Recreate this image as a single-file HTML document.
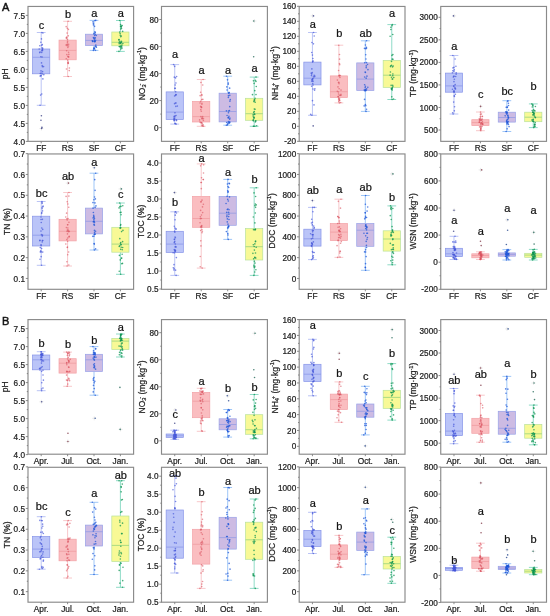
<!DOCTYPE html>
<html><head><meta charset="utf-8"><style>
html,body{margin:0;padding:0;background:#fff;}
svg{display:block;font-family:"Liberation Sans", sans-serif;will-change:transform;filter:blur(0.3px);}
text{stroke:#222;stroke-width:0.22px;paint-order:stroke;}
</style></head><body>
<svg width="550" height="616" viewBox="0 0 550 616">
<rect width="550" height="616" fill="#fff"/>
<rect x="28" y="6.45" width="105.6" height="134.9" fill="none" stroke="#8a8a8a" stroke-width="1.15"/>
<text x="25" y="144.5" text-anchor="end" font-size="8.2" fill="#222">4.0</text>
<text x="25" y="126.5" text-anchor="end" font-size="8.2" fill="#222">4.5</text>
<text x="25" y="108.5" text-anchor="end" font-size="8.2" fill="#222">5.0</text>
<text x="25" y="90.5" text-anchor="end" font-size="8.2" fill="#222">5.5</text>
<text x="25" y="72.5" text-anchor="end" font-size="8.2" fill="#222">6.0</text>
<text x="25" y="54.5" text-anchor="end" font-size="8.2" fill="#222">6.5</text>
<text x="25" y="36.5" text-anchor="end" font-size="8.2" fill="#222">7.0</text>
<text x="25" y="18.5" text-anchor="end" font-size="8.2" fill="#222">7.5</text>
<path d="M25.8 141.4H28M25.8 123.4H28M25.8 105.4H28M25.8 87.4H28M25.8 69.4H28M25.8 51.4H28M25.8 33.4H28M25.8 15.4H28M26.8 132.4H28M26.8 114.4H28M26.8 96.4H28M26.8 78.4H28M26.8 60.4H28M26.8 42.4H28M26.8 24.4H28M41.2 141.35V143.35M67.6 141.35V143.35M94 141.35V143.35M120.4 141.35V143.35" stroke="#7d7d7d" stroke-width="0.9" fill="none"/>
<text x="41.2" y="151.35" text-anchor="middle" font-size="8.3" fill="#222">FF</text>
<text x="67.6" y="151.35" text-anchor="middle" font-size="8.3" fill="#222">RS</text>
<text x="94" y="151.35" text-anchor="middle" font-size="8.3" fill="#222">SF</text>
<text x="120.4" y="151.35" text-anchor="middle" font-size="8.3" fill="#222">CF</text>
<text transform="translate(8 73.7) rotate(-90)" text-anchor="middle" font-size="8.5" fill="#222">pH</text>
<path d="M41.2 32.5V49M41.2 73.8V105.3M36.8 32.5H45.6M36.8 105.3H45.6" stroke="#96a4f0" stroke-width="0.65" fill="none"/>
<rect x="32.6" y="49" width="17.2" height="24.8" fill="#bac4f8" stroke="#8794e8" stroke-width="0.7"/>
<path d="M32.6 57.3H49.8" stroke="#8794e8" stroke-width="0.7"/>
<g fill="#4456d8" fill-opacity="0.7"><circle cx="42.32" cy="44.56" r="0.82"/><circle cx="42.36" cy="49.08" r="0.82"/><circle cx="41.01" cy="70.92" r="0.82"/><circle cx="42.88" cy="78.94" r="0.82"/><circle cx="41.69" cy="45.31" r="0.82"/><circle cx="41.81" cy="50.61" r="0.82"/><circle cx="42.46" cy="66.64" r="0.82"/><circle cx="41.06" cy="75.85" r="0.82"/><circle cx="42.74" cy="48.28" r="0.82"/><circle cx="39.69" cy="52.59" r="0.82"/><circle cx="43.56" cy="66.57" r="0.82"/><circle cx="40.11" cy="76.09" r="0.82"/><circle cx="40.87" cy="42.21" r="0.82"/><circle cx="40.1" cy="51.95" r="0.82"/><circle cx="41.1" cy="73.11" r="0.82"/><circle cx="43.8" cy="74.67" r="0.82"/><circle cx="42.95" cy="33.03" r="0.82"/><circle cx="41.71" cy="52.42" r="0.82"/><circle cx="42.18" cy="65.61" r="0.82"/><circle cx="40.85" cy="75.6" r="0.82"/><circle cx="41.45" cy="38.94" r="0.82"/><circle cx="42.5" cy="50.58" r="0.82"/><circle cx="41.53" cy="62.94" r="0.82"/><circle cx="42.21" cy="73.91" r="0.82"/><circle cx="39.79" cy="45.74" r="0.82"/><circle cx="42.08" cy="57.03" r="0.82"/><circle cx="40.28" cy="73.45" r="0.82"/><circle cx="41.74" cy="94.04" r="0.82"/><circle cx="39.22" cy="49" r="0.82"/><circle cx="40.83" cy="56.8" r="0.82"/><circle cx="42.57" cy="71.67" r="0.82"/><circle cx="40.64" cy="95.12" r="0.82"/><circle cx="42.07" cy="47.75" r="0.82"/><circle cx="42.49" cy="49.83" r="0.82"/><circle cx="41.89" cy="32.5" r="0.82"/><circle cx="40.06" cy="105.3" r="0.82"/></g>
<path d="M39.4 128.5H43.4M41.4 126.5V130.5" stroke="#d4d4d4" stroke-width="0.5"/>
<g fill="#4c5290" fill-opacity="0.9"><circle cx="41.39" cy="115.7" r="0.8"/><circle cx="40.96" cy="120.3" r="0.8"/><circle cx="41.96" cy="127.4" r="0.8"/><circle cx="41.64" cy="128.5" r="0.8"/></g>
<text x="41.6" y="28.75" text-anchor="middle" font-size="11.0" fill="#111">c</text>
<path d="M67.6 21.3V40.1M67.6 59.8V76.5M63.2 21.3H72M63.2 76.5H72" stroke="#f4aaae" stroke-width="0.65" fill="none"/>
<rect x="59" y="40.1" width="17.2" height="19.7" fill="#fabdc0" stroke="#f2a2a6" stroke-width="0.7"/>
<path d="M59 50.4H76.2" stroke="#ee9a9e" stroke-width="0.7"/>
<g fill="#d8505e" fill-opacity="0.6"><circle cx="66.31" cy="37.76" r="0.82"/><circle cx="68.64" cy="44.36" r="0.82"/><circle cx="68.72" cy="56.9" r="0.82"/><circle cx="67.91" cy="62.89" r="0.82"/><circle cx="67.5" cy="39.77" r="0.82"/><circle cx="66.99" cy="44.84" r="0.82"/><circle cx="68.6" cy="52.23" r="0.82"/><circle cx="69.37" cy="67.98" r="0.82"/><circle cx="66.5" cy="38.39" r="0.82"/><circle cx="67.58" cy="41.49" r="0.82"/><circle cx="66.25" cy="58.8" r="0.82"/><circle cx="68.12" cy="62.97" r="0.82"/><circle cx="66.65" cy="37.13" r="0.82"/><circle cx="67.11" cy="45.64" r="0.82"/><circle cx="68.32" cy="56.92" r="0.82"/><circle cx="66.46" cy="68.98" r="0.82"/><circle cx="66.2" cy="26.69" r="0.82"/><circle cx="67.46" cy="42.78" r="0.82"/><circle cx="68.81" cy="54.41" r="0.82"/><circle cx="68.34" cy="63.47" r="0.82"/><circle cx="67.09" cy="33.12" r="0.82"/><circle cx="68.5" cy="46.01" r="0.82"/><circle cx="67.84" cy="56.32" r="0.82"/><circle cx="67.83" cy="60.1" r="0.82"/><circle cx="68.29" cy="35.85" r="0.82"/><circle cx="67.87" cy="47.4" r="0.82"/><circle cx="66.65" cy="50.73" r="0.82"/><circle cx="69.27" cy="70.57" r="0.82"/><circle cx="68.41" cy="29.42" r="0.82"/><circle cx="67.22" cy="44.24" r="0.82"/><circle cx="66.84" cy="54.62" r="0.82"/><circle cx="68.27" cy="62.07" r="0.82"/><circle cx="67.26" cy="28.2" r="0.82"/><circle cx="66" cy="45.05" r="0.82"/><circle cx="68.12" cy="21.3" r="0.82"/><circle cx="68.27" cy="76.5" r="0.82"/></g>
<text x="68" y="18.4" text-anchor="middle" font-size="11.0" fill="#111">b</text>
<path d="M94 20.4V34.2M94 45.6V50.4M89.6 20.4H98.4M89.6 50.4H98.4" stroke="#6aa8f2" stroke-width="0.65" fill="none"/>
<rect x="85.4" y="34.2" width="17.2" height="11.4" fill="#cdbbe3" stroke="#98a2e8" stroke-width="0.7"/>
<path d="M85.4 40.4H102.6" stroke="#8e98e4" stroke-width="0.7"/>
<g fill="#1f56d8" fill-opacity="0.75"><circle cx="94.91" cy="31.83" r="0.82"/><circle cx="96.27" cy="35.54" r="0.82"/><circle cx="92.33" cy="40.9" r="0.82"/><circle cx="96.38" cy="47.29" r="0.82"/><circle cx="93.84" cy="34" r="0.82"/><circle cx="94.66" cy="35.56" r="0.82"/><circle cx="92.86" cy="41.56" r="0.82"/><circle cx="94.09" cy="48.69" r="0.82"/><circle cx="94.16" cy="33.3" r="0.82"/><circle cx="95.25" cy="37.85" r="0.82"/><circle cx="94.9" cy="41.66" r="0.82"/><circle cx="95.43" cy="50.36" r="0.82"/><circle cx="94.97" cy="20.59" r="0.82"/><circle cx="94.31" cy="39.93" r="0.82"/><circle cx="95.82" cy="45.08" r="0.82"/><circle cx="93.99" cy="47.58" r="0.82"/><circle cx="93.02" cy="21.81" r="0.82"/><circle cx="93.86" cy="38.17" r="0.82"/><circle cx="92.82" cy="41.23" r="0.82"/><circle cx="94.51" cy="48.61" r="0.82"/><circle cx="93.38" cy="23.4" r="0.82"/><circle cx="95.25" cy="34.29" r="0.82"/><circle cx="94.67" cy="41.41" r="0.82"/><circle cx="93.77" cy="48.93" r="0.82"/><circle cx="93.42" cy="24.91" r="0.82"/><circle cx="93.45" cy="37.68" r="0.82"/><circle cx="94.6" cy="41.04" r="0.82"/><circle cx="95.3" cy="46.26" r="0.82"/><circle cx="95.31" cy="32.62" r="0.82"/><circle cx="95.58" cy="40.28" r="0.82"/><circle cx="94.87" cy="41.57" r="0.82"/><circle cx="96.02" cy="46.68" r="0.82"/><circle cx="94.58" cy="26.31" r="0.82"/><circle cx="94.7" cy="38.31" r="0.82"/><circle cx="95.75" cy="20.4" r="0.82"/><circle cx="93.39" cy="50.4" r="0.82"/></g>
<text x="94.4" y="17.15" text-anchor="middle" font-size="11.0" fill="#111">a</text>
<path d="M120.4 20.5V32M120.4 45.8V51.4M116 20.5H124.8M116 51.4H124.8" stroke="#52c8a8" stroke-width="0.65" fill="none"/>
<rect x="111.8" y="32" width="17.2" height="13.8" fill="#f8f996" stroke="#b8e29a" stroke-width="0.7"/>
<path d="M111.8 42.3H129" stroke="#8cd07c" stroke-width="0.7"/>
<g fill="#0e9452" fill-opacity="0.75"><circle cx="120.77" cy="28.95" r="0.82"/><circle cx="121.28" cy="36.04" r="0.82"/><circle cx="120.8" cy="42.62" r="0.82"/><circle cx="121.81" cy="47.16" r="0.82"/><circle cx="121.28" cy="26.08" r="0.82"/><circle cx="119.08" cy="39.62" r="0.82"/><circle cx="120.21" cy="43.1" r="0.82"/><circle cx="121.86" cy="48.54" r="0.82"/><circle cx="120.57" cy="24.51" r="0.82"/><circle cx="120.14" cy="33.6" r="0.82"/><circle cx="119.21" cy="42.35" r="0.82"/><circle cx="121.38" cy="46.16" r="0.82"/><circle cx="122.16" cy="25.57" r="0.82"/><circle cx="121.48" cy="41.41" r="0.82"/><circle cx="119.21" cy="43.66" r="0.82"/><circle cx="119.74" cy="46.78" r="0.82"/><circle cx="120.51" cy="26.29" r="0.82"/><circle cx="120.28" cy="35.26" r="0.82"/><circle cx="121.21" cy="42.44" r="0.82"/><circle cx="119.21" cy="46.48" r="0.82"/><circle cx="121.09" cy="26.65" r="0.82"/><circle cx="120.74" cy="36.72" r="0.82"/><circle cx="122.84" cy="43.51" r="0.82"/><circle cx="120.86" cy="47.18" r="0.82"/><circle cx="122.66" cy="31.42" r="0.82"/><circle cx="118.82" cy="39.9" r="0.82"/><circle cx="120.7" cy="43.61" r="0.82"/><circle cx="120.75" cy="49.01" r="0.82"/><circle cx="121.25" cy="27.08" r="0.82"/><circle cx="119.83" cy="41.27" r="0.82"/><circle cx="121.97" cy="45.09" r="0.82"/><circle cx="120.39" cy="46.07" r="0.82"/><circle cx="121.49" cy="28.51" r="0.82"/><circle cx="119.73" cy="32.11" r="0.82"/><circle cx="119.67" cy="20.5" r="0.82"/><circle cx="118.96" cy="51.4" r="0.82"/></g>
<text x="120.8" y="17.15" text-anchor="middle" font-size="11.0" fill="#111">a</text>
<rect x="161.5" y="6.45" width="105.9" height="134.9" fill="none" stroke="#8a8a8a" stroke-width="1.15"/>
<text x="158.5" y="130.7" text-anchor="end" font-size="8.2" fill="#222">0</text>
<text x="158.5" y="103.67" text-anchor="end" font-size="8.2" fill="#222">20</text>
<text x="158.5" y="76.65" text-anchor="end" font-size="8.2" fill="#222">40</text>
<text x="158.5" y="49.63" text-anchor="end" font-size="8.2" fill="#222">60</text>
<text x="158.5" y="22.6" text-anchor="end" font-size="8.2" fill="#222">80</text>
<path d="M159.3 127.6H161.5M159.3 100.57H161.5M159.3 73.55H161.5M159.3 46.53H161.5M159.3 19.5H161.5M160.3 114.09H161.5M160.3 87.06H161.5M160.3 60.04H161.5M160.3 33.01H161.5M174.74 141.35V143.35M201.21 141.35V143.35M227.69 141.35V143.35M254.16 141.35V143.35" stroke="#7d7d7d" stroke-width="0.9" fill="none"/>
<text x="174.74" y="151.35" text-anchor="middle" font-size="8.3" fill="#222">FF</text>
<text x="201.21" y="151.35" text-anchor="middle" font-size="8.3" fill="#222">RS</text>
<text x="227.69" y="151.35" text-anchor="middle" font-size="8.3" fill="#222">SF</text>
<text x="254.16" y="151.35" text-anchor="middle" font-size="8.3" fill="#222">CF</text>
<text transform="translate(144.5 73.7) rotate(-90)" text-anchor="middle" font-size="8.5" fill="#222">NO<tspan dy="1.6" font-size="5.6">3</tspan><tspan dx="-1.2" dy="-4.6" font-size="5.6">-</tspan><tspan dy="3.0"> (mg·kg</tspan><tspan dy="-3.2" font-size="5.6">-1</tspan><tspan dy="3.2">)</tspan></text>
<path d="M174.74 64.6V91.9M174.74 119.6V124.1M170.34 64.6H179.14M170.34 124.1H179.14" stroke="#96a4f0" stroke-width="0.65" fill="none"/>
<rect x="166.14" y="91.9" width="17.2" height="27.7" fill="#bac4f8" stroke="#8794e8" stroke-width="0.7"/>
<path d="M166.14 112.1H183.34" stroke="#8794e8" stroke-width="0.7"/>
<g fill="#4456d8" fill-opacity="0.7"><circle cx="175.92" cy="83.03" r="0.82"/><circle cx="176.05" cy="103.05" r="0.82"/><circle cx="174.43" cy="116.28" r="0.82"/><circle cx="176.28" cy="119.82" r="0.82"/><circle cx="175.67" cy="91.79" r="0.82"/><circle cx="176.05" cy="94.86" r="0.82"/><circle cx="174.27" cy="118.85" r="0.82"/><circle cx="174.18" cy="119.83" r="0.82"/><circle cx="176.6" cy="76.47" r="0.82"/><circle cx="175.29" cy="103.12" r="0.82"/><circle cx="174.15" cy="116.6" r="0.82"/><circle cx="175.29" cy="123.68" r="0.82"/><circle cx="174.8" cy="88.37" r="0.82"/><circle cx="177.33" cy="106.09" r="0.82"/><circle cx="175.19" cy="115.98" r="0.82"/><circle cx="176.59" cy="120.61" r="0.82"/><circle cx="175.17" cy="84.97" r="0.82"/><circle cx="174.59" cy="95.99" r="0.82"/><circle cx="174.97" cy="112.86" r="0.82"/><circle cx="175.04" cy="123.58" r="0.82"/><circle cx="175.55" cy="77.91" r="0.82"/><circle cx="175.44" cy="95.33" r="0.82"/><circle cx="174.79" cy="118.12" r="0.82"/><circle cx="174.74" cy="119.96" r="0.82"/><circle cx="174.32" cy="77.19" r="0.82"/><circle cx="174.53" cy="103.75" r="0.82"/><circle cx="173.97" cy="118.08" r="0.82"/><circle cx="174.03" cy="120.79" r="0.82"/><circle cx="174.65" cy="66.41" r="0.82"/><circle cx="175.84" cy="106.43" r="0.82"/><circle cx="176.04" cy="115.47" r="0.82"/><circle cx="174.07" cy="119.79" r="0.82"/><circle cx="175.24" cy="88.32" r="0.82"/><circle cx="175.92" cy="94.57" r="0.82"/><circle cx="173.6" cy="64.6" r="0.82"/><circle cx="176.19" cy="124.1" r="0.82"/></g>
<text x="175.14" y="57.85" text-anchor="middle" font-size="11.0" fill="#111">a</text>
<path d="M201.21 79.5V101.4M201.21 122V126.3M196.81 79.5H205.61M196.81 126.3H205.61" stroke="#f4aaae" stroke-width="0.65" fill="none"/>
<rect x="192.61" y="101.4" width="17.2" height="20.6" fill="#fabdc0" stroke="#f2a2a6" stroke-width="0.7"/>
<path d="M192.61 116.6H209.81" stroke="#ee9a9e" stroke-width="0.7"/>
<g fill="#d8505e" fill-opacity="0.6"><circle cx="202.73" cy="85.05" r="0.82"/><circle cx="201.5" cy="106.99" r="0.82"/><circle cx="199.63" cy="119.89" r="0.82"/><circle cx="199.98" cy="122.09" r="0.82"/><circle cx="202.83" cy="99.4" r="0.82"/><circle cx="200.04" cy="102.98" r="0.82"/><circle cx="202.2" cy="118.77" r="0.82"/><circle cx="201.52" cy="122.79" r="0.82"/><circle cx="200.62" cy="92.28" r="0.82"/><circle cx="201.28" cy="111.26" r="0.82"/><circle cx="202.14" cy="117.9" r="0.82"/><circle cx="200.8" cy="122.6" r="0.82"/><circle cx="200.63" cy="101.32" r="0.82"/><circle cx="201.92" cy="103.25" r="0.82"/><circle cx="203.44" cy="118.66" r="0.82"/><circle cx="202.15" cy="125.67" r="0.82"/><circle cx="201.69" cy="99.61" r="0.82"/><circle cx="201.52" cy="107.6" r="0.82"/><circle cx="202.62" cy="116.67" r="0.82"/><circle cx="202.35" cy="123.94" r="0.82"/><circle cx="201.88" cy="95.42" r="0.82"/><circle cx="200.64" cy="106.43" r="0.82"/><circle cx="201.94" cy="118.71" r="0.82"/><circle cx="201.73" cy="122.61" r="0.82"/><circle cx="200.12" cy="95.69" r="0.82"/><circle cx="201.9" cy="104.21" r="0.82"/><circle cx="203.36" cy="120.45" r="0.82"/><circle cx="202.41" cy="125.88" r="0.82"/><circle cx="200.96" cy="82.49" r="0.82"/><circle cx="201.19" cy="106.97" r="0.82"/><circle cx="200.9" cy="116.66" r="0.82"/><circle cx="203.15" cy="124.9" r="0.82"/><circle cx="201.78" cy="94.53" r="0.82"/><circle cx="200.79" cy="109.69" r="0.82"/><circle cx="203.07" cy="79.5" r="0.82"/><circle cx="203.57" cy="126.3" r="0.82"/></g>
<text x="201.61" y="73.95" text-anchor="middle" font-size="11.0" fill="#111">a</text>
<path d="M227.69 76.2V93.2M227.69 121.9V125.2M223.29 76.2H232.09M223.29 125.2H232.09" stroke="#6aa8f2" stroke-width="0.65" fill="none"/>
<rect x="219.09" y="93.2" width="17.2" height="28.7" fill="#cdbbe3" stroke="#98a2e8" stroke-width="0.7"/>
<path d="M219.09 111.5H236.29" stroke="#8e98e4" stroke-width="0.7"/>
<g fill="#1f56d8" fill-opacity="0.75"><circle cx="228.72" cy="93.2" r="0.82"/><circle cx="228.38" cy="97.39" r="0.82"/><circle cx="228.26" cy="117.56" r="0.82"/><circle cx="229.33" cy="122.27" r="0.82"/><circle cx="227.49" cy="79.85" r="0.82"/><circle cx="229.75" cy="106.67" r="0.82"/><circle cx="229.69" cy="119.36" r="0.82"/><circle cx="227.33" cy="124.93" r="0.82"/><circle cx="228.27" cy="83.08" r="0.82"/><circle cx="226.42" cy="110.83" r="0.82"/><circle cx="228.96" cy="116.35" r="0.82"/><circle cx="229.83" cy="122.07" r="0.82"/><circle cx="226.84" cy="86.89" r="0.82"/><circle cx="229.46" cy="110.56" r="0.82"/><circle cx="228.28" cy="117.89" r="0.82"/><circle cx="226.68" cy="122.5" r="0.82"/><circle cx="229.04" cy="92.67" r="0.82"/><circle cx="228.46" cy="95.66" r="0.82"/><circle cx="228.43" cy="112.78" r="0.82"/><circle cx="227.84" cy="123.88" r="0.82"/><circle cx="227.03" cy="90" r="0.82"/><circle cx="229.9" cy="101.15" r="0.82"/><circle cx="228.42" cy="121.65" r="0.82"/><circle cx="228.98" cy="122.53" r="0.82"/><circle cx="228.23" cy="84.22" r="0.82"/><circle cx="230.3" cy="99.59" r="0.82"/><circle cx="227.09" cy="115.51" r="0.82"/><circle cx="229.62" cy="122.82" r="0.82"/><circle cx="229.66" cy="88.16" r="0.82"/><circle cx="229.8" cy="95.34" r="0.82"/><circle cx="229.87" cy="118.17" r="0.82"/><circle cx="228.93" cy="123.27" r="0.82"/><circle cx="228.99" cy="92.57" r="0.82"/><circle cx="228.53" cy="111.03" r="0.82"/><circle cx="226.53" cy="76.2" r="0.82"/><circle cx="226.38" cy="125.2" r="0.82"/></g>
<text x="228.09" y="73.95" text-anchor="middle" font-size="11.0" fill="#111">a</text>
<path d="M254.16 77.1V98.3M254.16 120.3V126.3M249.76 77.1H258.56M249.76 126.3H258.56" stroke="#52c8a8" stroke-width="0.65" fill="none"/>
<rect x="245.56" y="98.3" width="17.2" height="22" fill="#f8f996" stroke="#b8e29a" stroke-width="0.7"/>
<path d="M245.56 113.7H262.76" stroke="#8cd07c" stroke-width="0.7"/>
<g fill="#0e9452" fill-opacity="0.75"><circle cx="255.97" cy="94.59" r="0.82"/><circle cx="255.18" cy="102.26" r="0.82"/><circle cx="254.69" cy="114.42" r="0.82"/><circle cx="255.76" cy="121.08" r="0.82"/><circle cx="255.94" cy="81.38" r="0.82"/><circle cx="253.96" cy="101.62" r="0.82"/><circle cx="254.04" cy="118.32" r="0.82"/><circle cx="253.38" cy="126.23" r="0.82"/><circle cx="255.06" cy="98.28" r="0.82"/><circle cx="255.05" cy="109.25" r="0.82"/><circle cx="253.19" cy="114.59" r="0.82"/><circle cx="255.71" cy="120.78" r="0.82"/><circle cx="252.47" cy="94.68" r="0.82"/><circle cx="253.69" cy="112.44" r="0.82"/><circle cx="253.34" cy="119.48" r="0.82"/><circle cx="253.09" cy="120.47" r="0.82"/><circle cx="254.11" cy="83.41" r="0.82"/><circle cx="254.38" cy="99.6" r="0.82"/><circle cx="253.12" cy="116.07" r="0.82"/><circle cx="253.84" cy="126.3" r="0.82"/><circle cx="253.46" cy="80.81" r="0.82"/><circle cx="254.71" cy="99.99" r="0.82"/><circle cx="253.66" cy="117.44" r="0.82"/><circle cx="255.38" cy="121.94" r="0.82"/><circle cx="256.25" cy="86.54" r="0.82"/><circle cx="254.33" cy="111.52" r="0.82"/><circle cx="254.21" cy="117.38" r="0.82"/><circle cx="256.64" cy="125.7" r="0.82"/><circle cx="255.34" cy="80.31" r="0.82"/><circle cx="254.13" cy="100.82" r="0.82"/><circle cx="254.44" cy="114.08" r="0.82"/><circle cx="253.38" cy="120.83" r="0.82"/><circle cx="254.76" cy="90.63" r="0.82"/><circle cx="254.29" cy="109" r="0.82"/><circle cx="255.99" cy="77.1" r="0.82"/><circle cx="254.87" cy="126.3" r="0.82"/></g>
<path d="M252.36 21H256.36M254.36 19V23" stroke="#d4d4d4" stroke-width="0.5"/>
<g fill="#3a7868" fill-opacity="0.9"><circle cx="253.67" cy="56.8" r="0.8"/><circle cx="253.75" cy="21" r="0.8"/></g>
<text x="254.56" y="71.75" text-anchor="middle" font-size="11.0" fill="#111">a</text>
<rect x="299.2" y="6.45" width="105.8" height="134.9" fill="none" stroke="#8a8a8a" stroke-width="1.15"/>
<text x="296.2" y="144.4" text-anchor="end" font-size="8.2" fill="#222">-20</text>
<text x="296.2" y="129.4" text-anchor="end" font-size="8.2" fill="#222">0</text>
<text x="296.2" y="114.4" text-anchor="end" font-size="8.2" fill="#222">20</text>
<text x="296.2" y="99.4" text-anchor="end" font-size="8.2" fill="#222">40</text>
<text x="296.2" y="84.4" text-anchor="end" font-size="8.2" fill="#222">60</text>
<text x="296.2" y="69.4" text-anchor="end" font-size="8.2" fill="#222">80</text>
<text x="296.2" y="54.4" text-anchor="end" font-size="8.2" fill="#222">100</text>
<text x="296.2" y="39.4" text-anchor="end" font-size="8.2" fill="#222">120</text>
<text x="296.2" y="24.4" text-anchor="end" font-size="8.2" fill="#222">140</text>
<text x="296.2" y="9.4" text-anchor="end" font-size="8.2" fill="#222">160</text>
<path d="M297 141.3H299.2M297 126.3H299.2M297 111.3H299.2M297 96.3H299.2M297 81.3H299.2M297 66.3H299.2M297 51.3H299.2M297 36.3H299.2M297 21.3H299.2M297 6.3H299.2M298 133.8H299.2M298 118.8H299.2M298 103.8H299.2M298 88.8H299.2M298 73.8H299.2M298 58.8H299.2M298 43.8H299.2M298 28.8H299.2M298 13.8H299.2M312.43 141.35V143.35M338.88 141.35V143.35M365.32 141.35V143.35M391.77 141.35V143.35" stroke="#7d7d7d" stroke-width="0.9" fill="none"/>
<text x="312.43" y="151.35" text-anchor="middle" font-size="8.3" fill="#222">FF</text>
<text x="338.88" y="151.35" text-anchor="middle" font-size="8.3" fill="#222">RS</text>
<text x="365.32" y="151.35" text-anchor="middle" font-size="8.3" fill="#222">SF</text>
<text x="391.77" y="151.35" text-anchor="middle" font-size="8.3" fill="#222">CF</text>
<text transform="translate(277.5 73.15) rotate(-90)" text-anchor="middle" font-size="8.5" fill="#222">NH<tspan dy="1.6" font-size="5.6">4</tspan><tspan dx="-1.2" dy="-4.6" font-size="5.6">+</tspan><tspan dy="3.0"> (mg·kg</tspan><tspan dy="-3.2" font-size="5.6">-1</tspan><tspan dy="3.2">)</tspan></text>
<path d="M312.43 32.5V62.1M312.43 84.9V115.3M308.03 32.5H316.82M308.03 115.3H316.82" stroke="#96a4f0" stroke-width="0.65" fill="none"/>
<rect x="303.82" y="62.1" width="17.2" height="22.8" fill="#bac4f8" stroke="#8794e8" stroke-width="0.7"/>
<path d="M303.82 78.2H321.03" stroke="#8794e8" stroke-width="0.7"/>
<g fill="#4456d8" fill-opacity="0.7"><circle cx="313.07" cy="60.95" r="0.82"/><circle cx="311.74" cy="74.11" r="0.82"/><circle cx="312.7" cy="78.76" r="0.82"/><circle cx="313.99" cy="104.9" r="0.82"/><circle cx="312.59" cy="62.1" r="0.82"/><circle cx="311.25" cy="73.16" r="0.82"/><circle cx="312.36" cy="79.86" r="0.82"/><circle cx="312.48" cy="100.65" r="0.82"/><circle cx="311.92" cy="42.48" r="0.82"/><circle cx="312.25" cy="72.64" r="0.82"/><circle cx="312.85" cy="78.7" r="0.82"/><circle cx="313.1" cy="84.99" r="0.82"/><circle cx="312.43" cy="55.09" r="0.82"/><circle cx="314.55" cy="76.7" r="0.82"/><circle cx="313.01" cy="81.31" r="0.82"/><circle cx="312.99" cy="89" r="0.82"/><circle cx="311.73" cy="52.54" r="0.82"/><circle cx="314.13" cy="75.31" r="0.82"/><circle cx="311.97" cy="79.59" r="0.82"/><circle cx="311.61" cy="86.22" r="0.82"/><circle cx="314.21" cy="36.05" r="0.82"/><circle cx="311.86" cy="68.93" r="0.82"/><circle cx="311.78" cy="81.17" r="0.82"/><circle cx="314.58" cy="90.17" r="0.82"/><circle cx="312.85" cy="58.52" r="0.82"/><circle cx="314.84" cy="75.98" r="0.82"/><circle cx="312.68" cy="83.58" r="0.82"/><circle cx="314.86" cy="88.79" r="0.82"/><circle cx="313.44" cy="43.83" r="0.82"/><circle cx="313.36" cy="76.9" r="0.82"/><circle cx="312.64" cy="81" r="0.82"/><circle cx="310.66" cy="114.44" r="0.82"/><circle cx="312.82" cy="61.29" r="0.82"/><circle cx="311.48" cy="75.59" r="0.82"/><circle cx="313.57" cy="32.5" r="0.82"/><circle cx="311.87" cy="115.3" r="0.82"/></g>
<path d="M310.62 15.9H314.62M312.62 13.9V17.9" stroke="#d4d4d4" stroke-width="0.5"/>
<g fill="#4c5290" fill-opacity="0.9"><circle cx="313.48" cy="15.9" r="0.8"/><circle cx="313.17" cy="125.9" r="0.8"/></g>
<text x="312.82" y="27.65" text-anchor="middle" font-size="11.0" fill="#111">a</text>
<path d="M338.88 45.2V75.9M338.88 97.5V102.9M334.48 45.2H343.27M334.48 102.9H343.27" stroke="#f4aaae" stroke-width="0.65" fill="none"/>
<rect x="330.27" y="75.9" width="17.2" height="21.6" fill="#fabdc0" stroke="#f2a2a6" stroke-width="0.7"/>
<path d="M330.27 91.7H347.48" stroke="#ee9a9e" stroke-width="0.7"/>
<g fill="#d8505e" fill-opacity="0.6"><circle cx="339.44" cy="63.51" r="0.82"/><circle cx="341" cy="90.09" r="0.82"/><circle cx="338.58" cy="94.05" r="0.82"/><circle cx="339.55" cy="98.8" r="0.82"/><circle cx="340.37" cy="75.51" r="0.82"/><circle cx="338.01" cy="86.89" r="0.82"/><circle cx="340.5" cy="95.31" r="0.82"/><circle cx="340.7" cy="102.48" r="0.82"/><circle cx="338.98" cy="75.88" r="0.82"/><circle cx="338.91" cy="82.42" r="0.82"/><circle cx="340.95" cy="94.24" r="0.82"/><circle cx="338.55" cy="98.95" r="0.82"/><circle cx="339.43" cy="75.62" r="0.82"/><circle cx="339.14" cy="88.77" r="0.82"/><circle cx="338.32" cy="91.95" r="0.82"/><circle cx="339.29" cy="100.27" r="0.82"/><circle cx="338.59" cy="70.54" r="0.82"/><circle cx="338.5" cy="82.61" r="0.82"/><circle cx="338.11" cy="96.56" r="0.82"/><circle cx="338.81" cy="98" r="0.82"/><circle cx="339.67" cy="64.67" r="0.82"/><circle cx="337.39" cy="80.11" r="0.82"/><circle cx="340.95" cy="95.24" r="0.82"/><circle cx="339.23" cy="99.67" r="0.82"/><circle cx="339.55" cy="59.16" r="0.82"/><circle cx="339.91" cy="77.41" r="0.82"/><circle cx="339.51" cy="95.37" r="0.82"/><circle cx="339.76" cy="100.41" r="0.82"/><circle cx="339.34" cy="75.36" r="0.82"/><circle cx="337.3" cy="91.21" r="0.82"/><circle cx="338.23" cy="96.63" r="0.82"/><circle cx="338.76" cy="101.31" r="0.82"/><circle cx="339.49" cy="54.49" r="0.82"/><circle cx="339.08" cy="83.8" r="0.82"/><circle cx="338.77" cy="45.2" r="0.82"/><circle cx="339.36" cy="102.9" r="0.82"/></g>
<text x="339.27" y="37" text-anchor="middle" font-size="11.0" fill="#111">b</text>
<path d="M365.32 40.8V62.9M365.32 90.5V111.4M360.93 40.8H369.72M360.93 111.4H369.72" stroke="#6aa8f2" stroke-width="0.65" fill="none"/>
<rect x="356.72" y="62.9" width="17.2" height="27.6" fill="#cdbbe3" stroke="#98a2e8" stroke-width="0.7"/>
<path d="M356.72 79.1H373.93" stroke="#8e98e4" stroke-width="0.7"/>
<g fill="#1f56d8" fill-opacity="0.75"><circle cx="364.73" cy="62.74" r="0.82"/><circle cx="364.63" cy="76.97" r="0.82"/><circle cx="365.18" cy="87.69" r="0.82"/><circle cx="365.36" cy="104.54" r="0.82"/><circle cx="366.44" cy="47.36" r="0.82"/><circle cx="367.95" cy="69.66" r="0.82"/><circle cx="364.39" cy="89.94" r="0.82"/><circle cx="365.78" cy="105.67" r="0.82"/><circle cx="364.52" cy="48.38" r="0.82"/><circle cx="366.15" cy="78.14" r="0.82"/><circle cx="365.66" cy="89.45" r="0.82"/><circle cx="364.55" cy="99.38" r="0.82"/><circle cx="366.52" cy="62.6" r="0.82"/><circle cx="365.42" cy="72.46" r="0.82"/><circle cx="364.62" cy="84.75" r="0.82"/><circle cx="365.85" cy="90.55" r="0.82"/><circle cx="365.94" cy="59.01" r="0.82"/><circle cx="366.93" cy="76.19" r="0.82"/><circle cx="365.42" cy="86.22" r="0.82"/><circle cx="366.55" cy="109.25" r="0.82"/><circle cx="366.44" cy="48.38" r="0.82"/><circle cx="366.26" cy="65.91" r="0.82"/><circle cx="367.83" cy="87.23" r="0.82"/><circle cx="364.56" cy="90.71" r="0.82"/><circle cx="365.42" cy="44.99" r="0.82"/><circle cx="366.21" cy="67.67" r="0.82"/><circle cx="365.71" cy="90.17" r="0.82"/><circle cx="365.64" cy="90.72" r="0.82"/><circle cx="365.62" cy="48.76" r="0.82"/><circle cx="367.51" cy="64.54" r="0.82"/><circle cx="366.65" cy="88.94" r="0.82"/><circle cx="364.17" cy="105.94" r="0.82"/><circle cx="365.73" cy="54.8" r="0.82"/><circle cx="365.21" cy="72.02" r="0.82"/><circle cx="366.56" cy="40.8" r="0.82"/><circle cx="366.02" cy="111.4" r="0.82"/></g>
<text x="365.72" y="36.7" text-anchor="middle" font-size="11.0" fill="#111">ab</text>
<path d="M391.77 24.6V60.4M391.77 87.4V99.5M387.38 24.6H396.17M387.38 99.5H396.17" stroke="#52c8a8" stroke-width="0.65" fill="none"/>
<rect x="383.17" y="60.4" width="17.2" height="27" fill="#f8f996" stroke="#b8e29a" stroke-width="0.7"/>
<path d="M383.17 75.2H400.38" stroke="#8cd07c" stroke-width="0.7"/>
<g fill="#0e9452" fill-opacity="0.75"><circle cx="392.02" cy="25.72" r="0.82"/><circle cx="391.51" cy="61.41" r="0.82"/><circle cx="392.64" cy="85.24" r="0.82"/><circle cx="393.58" cy="99.04" r="0.82"/><circle cx="392.88" cy="54.62" r="0.82"/><circle cx="390.85" cy="65.7" r="0.82"/><circle cx="393.79" cy="77.54" r="0.82"/><circle cx="391.45" cy="88.62" r="0.82"/><circle cx="390.11" cy="36.23" r="0.82"/><circle cx="392.5" cy="66.94" r="0.82"/><circle cx="392.13" cy="78.97" r="0.82"/><circle cx="392.17" cy="90.06" r="0.82"/><circle cx="390.89" cy="29.46" r="0.82"/><circle cx="390.12" cy="75.15" r="0.82"/><circle cx="392.67" cy="79.1" r="0.82"/><circle cx="391.34" cy="89.07" r="0.82"/><circle cx="391.96" cy="55.4" r="0.82"/><circle cx="390.4" cy="72" r="0.82"/><circle cx="392.92" cy="86.29" r="0.82"/><circle cx="392.25" cy="88.42" r="0.82"/><circle cx="392.2" cy="59.19" r="0.82"/><circle cx="391.6" cy="65.32" r="0.82"/><circle cx="391.14" cy="85.33" r="0.82"/><circle cx="391.79" cy="96.84" r="0.82"/><circle cx="390.88" cy="27.25" r="0.82"/><circle cx="390.52" cy="66.62" r="0.82"/><circle cx="392.75" cy="75.73" r="0.82"/><circle cx="392.4" cy="87.52" r="0.82"/><circle cx="392.76" cy="34.47" r="0.82"/><circle cx="393.18" cy="65.95" r="0.82"/><circle cx="391.5" cy="77.28" r="0.82"/><circle cx="391.81" cy="89.21" r="0.82"/><circle cx="393.01" cy="59.27" r="0.82"/><circle cx="392.86" cy="73.96" r="0.82"/><circle cx="392.3" cy="24.6" r="0.82"/><circle cx="392.12" cy="99.5" r="0.82"/></g>
<text x="392.17" y="17.25" text-anchor="middle" font-size="11.0" fill="#111">a</text>
<rect x="440.75" y="6.45" width="105.75" height="134.9" fill="none" stroke="#8a8a8a" stroke-width="1.15"/>
<text x="437.75" y="133.1" text-anchor="end" font-size="8.2" fill="#222">500</text>
<text x="437.75" y="110.56" text-anchor="end" font-size="8.2" fill="#222">1000</text>
<text x="437.75" y="88.02" text-anchor="end" font-size="8.2" fill="#222">1500</text>
<text x="437.75" y="65.48" text-anchor="end" font-size="8.2" fill="#222">2000</text>
<text x="437.75" y="42.94" text-anchor="end" font-size="8.2" fill="#222">2500</text>
<text x="437.75" y="20.4" text-anchor="end" font-size="8.2" fill="#222">3000</text>
<path d="M438.55 130H440.75M438.55 107.46H440.75M438.55 84.92H440.75M438.55 62.38H440.75M438.55 39.84H440.75M438.55 17.3H440.75M439.55 118.73H440.75M439.55 96.19H440.75M439.55 73.65H440.75M439.55 51.11H440.75M439.55 28.57H440.75M453.97 141.35V143.35M480.41 141.35V143.35M506.84 141.35V143.35M533.28 141.35V143.35" stroke="#7d7d7d" stroke-width="0.9" fill="none"/>
<text x="453.97" y="151.35" text-anchor="middle" font-size="8.3" fill="#222">FF</text>
<text x="480.41" y="151.35" text-anchor="middle" font-size="8.3" fill="#222">RS</text>
<text x="506.84" y="151.35" text-anchor="middle" font-size="8.3" fill="#222">SF</text>
<text x="533.28" y="151.35" text-anchor="middle" font-size="8.3" fill="#222">CF</text>
<text transform="translate(415.7 73.25) rotate(-90)" text-anchor="middle" font-size="8.5" fill="#222">TP (mg·kg<tspan dy="-3.2" font-size="5.6">-1</tspan><tspan dy="3.2">)</tspan></text>
<path d="M453.97 55.5V73.1M453.97 92.2V114M449.57 55.5H458.37M449.57 114H458.37" stroke="#96a4f0" stroke-width="0.65" fill="none"/>
<rect x="445.37" y="73.1" width="17.2" height="19.1" fill="#bac4f8" stroke="#8794e8" stroke-width="0.7"/>
<path d="M445.37 85.9H462.57" stroke="#8794e8" stroke-width="0.7"/>
<g fill="#4456d8" fill-opacity="0.7"><circle cx="453" cy="67.9" r="0.82"/><circle cx="453.79" cy="76.26" r="0.82"/><circle cx="452.48" cy="89.2" r="0.82"/><circle cx="455.36" cy="94.28" r="0.82"/><circle cx="456.18" cy="72.77" r="0.82"/><circle cx="455.67" cy="76.49" r="0.82"/><circle cx="453.76" cy="86.45" r="0.82"/><circle cx="454.23" cy="95.78" r="0.82"/><circle cx="454.23" cy="69.79" r="0.82"/><circle cx="453.3" cy="77.08" r="0.82"/><circle cx="454.18" cy="91.76" r="0.82"/><circle cx="454.54" cy="106.75" r="0.82"/><circle cx="452.8" cy="70.75" r="0.82"/><circle cx="455.14" cy="84.68" r="0.82"/><circle cx="455.51" cy="88.94" r="0.82"/><circle cx="454.08" cy="92.24" r="0.82"/><circle cx="453.93" cy="67.44" r="0.82"/><circle cx="456.15" cy="74.18" r="0.82"/><circle cx="454.94" cy="87.63" r="0.82"/><circle cx="452.66" cy="112.73" r="0.82"/><circle cx="455.92" cy="66.28" r="0.82"/><circle cx="453.83" cy="85.71" r="0.82"/><circle cx="455.08" cy="88.68" r="0.82"/><circle cx="454.4" cy="96.4" r="0.82"/><circle cx="453.89" cy="71.17" r="0.82"/><circle cx="454.06" cy="76.27" r="0.82"/><circle cx="454.05" cy="90.76" r="0.82"/><circle cx="453.67" cy="102.1" r="0.82"/><circle cx="455.09" cy="59.04" r="0.82"/><circle cx="454.34" cy="79.24" r="0.82"/><circle cx="453.66" cy="91.38" r="0.82"/><circle cx="454.33" cy="110.83" r="0.82"/><circle cx="452.45" cy="72.75" r="0.82"/><circle cx="453.97" cy="81.65" r="0.82"/><circle cx="452.85" cy="55.5" r="0.82"/><circle cx="453.12" cy="114" r="0.82"/></g>
<path d="M452.17 15.9H456.17M454.17 13.9V17.9" stroke="#d4d4d4" stroke-width="0.5"/>
<g fill="#4c5290" fill-opacity="0.9"><circle cx="453.49" cy="15.9" r="0.8"/></g>
<text x="454.37" y="49.65" text-anchor="middle" font-size="11.0" fill="#111">a</text>
<path d="M480.41 112V119.7M480.41 125.6V130.7M476.01 112H484.81M476.01 130.7H484.81" stroke="#f4aaae" stroke-width="0.65" fill="none"/>
<rect x="471.81" y="119.7" width="17.2" height="5.9" fill="#fabdc0" stroke="#f2a2a6" stroke-width="0.7"/>
<path d="M471.81 122.6H489.01" stroke="#ee9a9e" stroke-width="0.7"/>
<g fill="#d8505e" fill-opacity="0.6"><circle cx="480.41" cy="116.63" r="0.82"/><circle cx="479.71" cy="119.79" r="0.82"/><circle cx="482.92" cy="124.16" r="0.82"/><circle cx="482.04" cy="126.51" r="0.82"/><circle cx="479.94" cy="119.64" r="0.82"/><circle cx="481.43" cy="119.76" r="0.82"/><circle cx="482.37" cy="124.35" r="0.82"/><circle cx="480.82" cy="128.66" r="0.82"/><circle cx="482.31" cy="119.11" r="0.82"/><circle cx="482.4" cy="121.36" r="0.82"/><circle cx="481.87" cy="122.86" r="0.82"/><circle cx="481.18" cy="127.22" r="0.82"/><circle cx="481.45" cy="114.02" r="0.82"/><circle cx="481.05" cy="120.25" r="0.82"/><circle cx="482.5" cy="123.99" r="0.82"/><circle cx="480.52" cy="129.98" r="0.82"/><circle cx="479.33" cy="118.63" r="0.82"/><circle cx="479.76" cy="121.97" r="0.82"/><circle cx="481.25" cy="122.83" r="0.82"/><circle cx="480.76" cy="126.33" r="0.82"/><circle cx="480.48" cy="114.43" r="0.82"/><circle cx="479.24" cy="122.22" r="0.82"/><circle cx="482.27" cy="123.47" r="0.82"/><circle cx="479.6" cy="126.94" r="0.82"/><circle cx="480.75" cy="118.23" r="0.82"/><circle cx="480.84" cy="120.26" r="0.82"/><circle cx="480.69" cy="123.59" r="0.82"/><circle cx="480.91" cy="129.52" r="0.82"/><circle cx="482.15" cy="116.35" r="0.82"/><circle cx="479.37" cy="122.15" r="0.82"/><circle cx="480.96" cy="124.31" r="0.82"/><circle cx="480.85" cy="128.44" r="0.82"/><circle cx="482.43" cy="116.52" r="0.82"/><circle cx="479.51" cy="120.32" r="0.82"/><circle cx="480.56" cy="112" r="0.82"/><circle cx="480.85" cy="130.7" r="0.82"/></g>
<path d="M478.61 106.4H482.61M480.61 104.4V108.4" stroke="#d4d4d4" stroke-width="0.5"/>
<g fill="#8c4a58" fill-opacity="0.9"><circle cx="480.59" cy="106.4" r="0.8"/></g>
<text x="480.81" y="97.55" text-anchor="middle" font-size="11.0" fill="#111">c</text>
<path d="M506.84 100.7V112.2M506.84 122.1V131.5M502.44 100.7H511.24M502.44 131.5H511.24" stroke="#6aa8f2" stroke-width="0.65" fill="none"/>
<rect x="498.24" y="112.2" width="17.2" height="9.9" fill="#cdbbe3" stroke="#98a2e8" stroke-width="0.7"/>
<path d="M498.24 117.5H515.44" stroke="#8e98e4" stroke-width="0.7"/>
<g fill="#1f56d8" fill-opacity="0.75"><circle cx="505.71" cy="111.7" r="0.82"/><circle cx="507.22" cy="113.71" r="0.82"/><circle cx="506.6" cy="121.23" r="0.82"/><circle cx="507.1" cy="128.82" r="0.82"/><circle cx="506.82" cy="111.83" r="0.82"/><circle cx="505.17" cy="115.87" r="0.82"/><circle cx="508.28" cy="121.55" r="0.82"/><circle cx="509.06" cy="126.58" r="0.82"/><circle cx="507.7" cy="101.37" r="0.82"/><circle cx="508" cy="115.32" r="0.82"/><circle cx="507.21" cy="119.65" r="0.82"/><circle cx="508.45" cy="124.49" r="0.82"/><circle cx="507.39" cy="107.07" r="0.82"/><circle cx="507.66" cy="115.7" r="0.82"/><circle cx="506.93" cy="122.07" r="0.82"/><circle cx="507.43" cy="122.64" r="0.82"/><circle cx="508.65" cy="110.07" r="0.82"/><circle cx="508.23" cy="116.94" r="0.82"/><circle cx="506.74" cy="120.66" r="0.82"/><circle cx="507.95" cy="123.71" r="0.82"/><circle cx="507.22" cy="107.35" r="0.82"/><circle cx="507.27" cy="112.53" r="0.82"/><circle cx="508.41" cy="118.19" r="0.82"/><circle cx="507.2" cy="122.17" r="0.82"/><circle cx="508.42" cy="103.26" r="0.82"/><circle cx="506.15" cy="112.92" r="0.82"/><circle cx="507.87" cy="119.21" r="0.82"/><circle cx="506.85" cy="123.88" r="0.82"/><circle cx="508.52" cy="105.51" r="0.82"/><circle cx="506.67" cy="112.59" r="0.82"/><circle cx="508.48" cy="117.54" r="0.82"/><circle cx="507.75" cy="122.77" r="0.82"/><circle cx="506.17" cy="107.28" r="0.82"/><circle cx="506.65" cy="114.07" r="0.82"/><circle cx="507.92" cy="100.7" r="0.82"/><circle cx="506.13" cy="131.5" r="0.82"/></g>
<text x="507.24" y="95.1" text-anchor="middle" font-size="11.0" fill="#111">bc</text>
<path d="M533.28 103.9V112.2M533.28 121.7V127.6M528.88 103.9H537.68M528.88 127.6H537.68" stroke="#52c8a8" stroke-width="0.65" fill="none"/>
<rect x="524.68" y="112.2" width="17.2" height="9.5" fill="#f8f996" stroke="#b8e29a" stroke-width="0.7"/>
<path d="M524.68 117.2H541.88" stroke="#8cd07c" stroke-width="0.7"/>
<g fill="#0e9452" fill-opacity="0.75"><circle cx="534.92" cy="110.91" r="0.82"/><circle cx="533.65" cy="112.75" r="0.82"/><circle cx="532.68" cy="121" r="0.82"/><circle cx="534.78" cy="124.79" r="0.82"/><circle cx="532.17" cy="110.47" r="0.82"/><circle cx="534.12" cy="114.86" r="0.82"/><circle cx="533.32" cy="119.21" r="0.82"/><circle cx="533.75" cy="121.79" r="0.82"/><circle cx="534.11" cy="110.63" r="0.82"/><circle cx="532.69" cy="112.37" r="0.82"/><circle cx="535.41" cy="117.65" r="0.82"/><circle cx="535.06" cy="126.32" r="0.82"/><circle cx="535.4" cy="106.47" r="0.82"/><circle cx="533.77" cy="113.68" r="0.82"/><circle cx="535.22" cy="117.28" r="0.82"/><circle cx="534.37" cy="126.58" r="0.82"/><circle cx="532.82" cy="112.05" r="0.82"/><circle cx="534.3" cy="113.42" r="0.82"/><circle cx="533.09" cy="121.02" r="0.82"/><circle cx="534.81" cy="124.27" r="0.82"/><circle cx="533.58" cy="109.79" r="0.82"/><circle cx="534.44" cy="116.1" r="0.82"/><circle cx="533.18" cy="121.33" r="0.82"/><circle cx="534.63" cy="124.29" r="0.82"/><circle cx="532.58" cy="104.86" r="0.82"/><circle cx="533.21" cy="112.54" r="0.82"/><circle cx="532.97" cy="119.54" r="0.82"/><circle cx="534.52" cy="125.06" r="0.82"/><circle cx="532.78" cy="105.74" r="0.82"/><circle cx="533.18" cy="114.58" r="0.82"/><circle cx="531.85" cy="120.03" r="0.82"/><circle cx="535.2" cy="122.62" r="0.82"/><circle cx="532.24" cy="107.02" r="0.82"/><circle cx="533.01" cy="115.09" r="0.82"/><circle cx="531.88" cy="103.9" r="0.82"/><circle cx="533.74" cy="127.6" r="0.82"/></g>
<text x="533.68" y="90.2" text-anchor="middle" font-size="11.0" fill="#111">b</text>
<rect x="28" y="153.95" width="105.6" height="135.35" fill="none" stroke="#8a8a8a" stroke-width="1.15"/>
<text x="25" y="281.55" text-anchor="end" font-size="8.2" fill="#222">0.1</text>
<text x="25" y="260.75" text-anchor="end" font-size="8.2" fill="#222">0.2</text>
<text x="25" y="239.95" text-anchor="end" font-size="8.2" fill="#222">0.3</text>
<text x="25" y="219.15" text-anchor="end" font-size="8.2" fill="#222">0.4</text>
<text x="25" y="198.35" text-anchor="end" font-size="8.2" fill="#222">0.5</text>
<text x="25" y="177.55" text-anchor="end" font-size="8.2" fill="#222">0.6</text>
<text x="25" y="156.75" text-anchor="end" font-size="8.2" fill="#222">0.7</text>
<path d="M25.8 278.45H28M25.8 257.65H28M25.8 236.85H28M25.8 216.05H28M25.8 195.25H28M25.8 174.45H28M25.8 153.65H28M26.8 268.05H28M26.8 247.25H28M26.8 226.45H28M26.8 205.65H28M26.8 184.85H28M26.8 164.05H28M41.2 289.3V291.3M67.6 289.3V291.3M94 289.3V291.3M120.4 289.3V291.3" stroke="#7d7d7d" stroke-width="0.9" fill="none"/>
<text x="41.2" y="299.3" text-anchor="middle" font-size="8.3" fill="#222">FF</text>
<text x="67.6" y="299.3" text-anchor="middle" font-size="8.3" fill="#222">RS</text>
<text x="94" y="299.3" text-anchor="middle" font-size="8.3" fill="#222">SF</text>
<text x="120.4" y="299.3" text-anchor="middle" font-size="8.3" fill="#222">CF</text>
<text transform="translate(9.8 221.6) rotate(-90)" text-anchor="middle" font-size="8.5" fill="#222">TN (%)</text>
<path d="M41.2 201.5V216.2M41.2 246V265.3M36.8 201.5H45.6M36.8 265.3H45.6" stroke="#96a4f0" stroke-width="0.65" fill="none"/>
<rect x="32.6" y="216.2" width="17.2" height="29.8" fill="#bac4f8" stroke="#8794e8" stroke-width="0.7"/>
<path d="M32.6 235.2H49.8" stroke="#8794e8" stroke-width="0.7"/>
<g fill="#4456d8" fill-opacity="0.7"><circle cx="42.91" cy="206.71" r="0.82"/><circle cx="42.38" cy="219.31" r="0.82"/><circle cx="42.18" cy="242.05" r="0.82"/><circle cx="41.15" cy="256.69" r="0.82"/><circle cx="42.1" cy="208.69" r="0.82"/><circle cx="41.02" cy="219.51" r="0.82"/><circle cx="39.96" cy="240.23" r="0.82"/><circle cx="41.6" cy="248.45" r="0.82"/><circle cx="41.66" cy="213.5" r="0.82"/><circle cx="41.25" cy="222.51" r="0.82"/><circle cx="40.96" cy="245.02" r="0.82"/><circle cx="40.25" cy="247.55" r="0.82"/><circle cx="41.76" cy="212.54" r="0.82"/><circle cx="40.98" cy="231.06" r="0.82"/><circle cx="42.26" cy="236.06" r="0.82"/><circle cx="40" cy="259.24" r="0.82"/><circle cx="42.1" cy="203.54" r="0.82"/><circle cx="41.72" cy="227.98" r="0.82"/><circle cx="41.18" cy="245.19" r="0.82"/><circle cx="41.24" cy="251.92" r="0.82"/><circle cx="43.08" cy="206.1" r="0.82"/><circle cx="42.44" cy="235.13" r="0.82"/><circle cx="42.78" cy="240.55" r="0.82"/><circle cx="40.32" cy="251.89" r="0.82"/><circle cx="42.06" cy="202.53" r="0.82"/><circle cx="42.68" cy="229.42" r="0.82"/><circle cx="39.87" cy="240.65" r="0.82"/><circle cx="40.73" cy="250.81" r="0.82"/><circle cx="42.04" cy="207.27" r="0.82"/><circle cx="41.44" cy="234.67" r="0.82"/><circle cx="42.36" cy="240.64" r="0.82"/><circle cx="42.73" cy="252.1" r="0.82"/><circle cx="42.51" cy="210.89" r="0.82"/><circle cx="40.99" cy="216.98" r="0.82"/><circle cx="41.94" cy="201.5" r="0.82"/><circle cx="41.55" cy="265.3" r="0.82"/></g>
<text x="41.6" y="196.8" text-anchor="middle" font-size="11.0" fill="#111">bc</text>
<path d="M67.6 192.5V219.3M67.6 240.9V266M63.2 192.5H72M63.2 266H72" stroke="#f4aaae" stroke-width="0.65" fill="none"/>
<rect x="59" y="219.3" width="17.2" height="21.6" fill="#fabdc0" stroke="#f2a2a6" stroke-width="0.7"/>
<path d="M59 231.3H76.2" stroke="#ee9a9e" stroke-width="0.7"/>
<g fill="#d8505e" fill-opacity="0.6"><circle cx="66.59" cy="213.18" r="0.82"/><circle cx="67.19" cy="220.02" r="0.82"/><circle cx="67.7" cy="238" r="0.82"/><circle cx="66.9" cy="261.8" r="0.82"/><circle cx="68.88" cy="196.06" r="0.82"/><circle cx="68.24" cy="231.08" r="0.82"/><circle cx="68.54" cy="231.76" r="0.82"/><circle cx="68.83" cy="265.02" r="0.82"/><circle cx="66.1" cy="196.39" r="0.82"/><circle cx="68.12" cy="229.99" r="0.82"/><circle cx="67.09" cy="231.38" r="0.82"/><circle cx="67.69" cy="254.7" r="0.82"/><circle cx="65.74" cy="216.95" r="0.82"/><circle cx="67.41" cy="230.11" r="0.82"/><circle cx="67.48" cy="233.94" r="0.82"/><circle cx="67.62" cy="241.24" r="0.82"/><circle cx="68.74" cy="207.24" r="0.82"/><circle cx="66.4" cy="227.61" r="0.82"/><circle cx="69.28" cy="236.42" r="0.82"/><circle cx="67.29" cy="247.53" r="0.82"/><circle cx="66.84" cy="218.82" r="0.82"/><circle cx="67.85" cy="227.98" r="0.82"/><circle cx="69.3" cy="231.38" r="0.82"/><circle cx="68.63" cy="251.96" r="0.82"/><circle cx="68.04" cy="218.48" r="0.82"/><circle cx="67.63" cy="224.76" r="0.82"/><circle cx="69.03" cy="236.89" r="0.82"/><circle cx="65.82" cy="243.97" r="0.82"/><circle cx="67.2" cy="201.74" r="0.82"/><circle cx="68.94" cy="222.37" r="0.82"/><circle cx="66.87" cy="239.61" r="0.82"/><circle cx="67.43" cy="247.08" r="0.82"/><circle cx="67.85" cy="204.04" r="0.82"/><circle cx="67.69" cy="224.71" r="0.82"/><circle cx="68.93" cy="192.5" r="0.82"/><circle cx="67.08" cy="266" r="0.82"/></g>
<path d="M65.8 183.1H69.8M67.8 181.1V185.1" stroke="#d4d4d4" stroke-width="0.5"/>
<g fill="#8c4a58" fill-opacity="0.9"><circle cx="68.48" cy="183.1" r="0.8"/></g>
<text x="68" y="179.6" text-anchor="middle" font-size="11.0" fill="#111">ab</text>
<path d="M94 173.2V208.1M94 233.9V250M89.6 173.2H98.4M89.6 250H98.4" stroke="#6aa8f2" stroke-width="0.65" fill="none"/>
<rect x="85.4" y="208.1" width="17.2" height="25.8" fill="#cdbbe3" stroke="#98a2e8" stroke-width="0.7"/>
<path d="M85.4 221.3H102.6" stroke="#8e98e4" stroke-width="0.7"/>
<g fill="#1f56d8" fill-opacity="0.75"><circle cx="94.72" cy="179.66" r="0.82"/><circle cx="93.82" cy="219.87" r="0.82"/><circle cx="94.47" cy="230.4" r="0.82"/><circle cx="94.38" cy="234.62" r="0.82"/><circle cx="92.96" cy="202.56" r="0.82"/><circle cx="94.04" cy="217.21" r="0.82"/><circle cx="93.27" cy="221.81" r="0.82"/><circle cx="92.74" cy="236.32" r="0.82"/><circle cx="93.87" cy="199.7" r="0.82"/><circle cx="94.45" cy="218.61" r="0.82"/><circle cx="93.88" cy="221.64" r="0.82"/><circle cx="93.91" cy="236.21" r="0.82"/><circle cx="95.07" cy="190.35" r="0.82"/><circle cx="93.08" cy="208.16" r="0.82"/><circle cx="94.35" cy="225.19" r="0.82"/><circle cx="94.29" cy="244.06" r="0.82"/><circle cx="94.53" cy="197.03" r="0.82"/><circle cx="93.15" cy="217.9" r="0.82"/><circle cx="94" cy="224.39" r="0.82"/><circle cx="94.11" cy="243.6" r="0.82"/><circle cx="95.97" cy="205.93" r="0.82"/><circle cx="93.78" cy="216.41" r="0.82"/><circle cx="95.56" cy="231.25" r="0.82"/><circle cx="95.21" cy="234.15" r="0.82"/><circle cx="94.96" cy="202.9" r="0.82"/><circle cx="93.38" cy="212.47" r="0.82"/><circle cx="94.57" cy="232.44" r="0.82"/><circle cx="94.58" cy="234.19" r="0.82"/><circle cx="95.35" cy="198.89" r="0.82"/><circle cx="94.13" cy="221.24" r="0.82"/><circle cx="94.49" cy="222.46" r="0.82"/><circle cx="95.57" cy="248.93" r="0.82"/><circle cx="95.12" cy="207.41" r="0.82"/><circle cx="93.71" cy="215.27" r="0.82"/><circle cx="95.68" cy="173.2" r="0.82"/><circle cx="94.37" cy="250" r="0.82"/></g>
<path d="M92.2 167.7H96.2M94.2 165.7V169.7" stroke="#d4d4d4" stroke-width="0.5"/>
<g fill="#3c5a98" fill-opacity="0.9"><circle cx="94.31" cy="167.7" r="0.8"/></g>
<text x="94.4" y="166.15" text-anchor="middle" font-size="11.0" fill="#111">a</text>
<path d="M120.4 203V227.3M120.4 252.2V274.3M116 203H124.8M116 274.3H124.8" stroke="#52c8a8" stroke-width="0.65" fill="none"/>
<rect x="111.8" y="227.3" width="17.2" height="24.9" fill="#f8f996" stroke="#b8e29a" stroke-width="0.7"/>
<path d="M111.8 244.1H129" stroke="#8cd07c" stroke-width="0.7"/>
<g fill="#0e9452" fill-opacity="0.75"><circle cx="120.16" cy="212.53" r="0.82"/><circle cx="120.5" cy="243.21" r="0.82"/><circle cx="121.11" cy="244.77" r="0.82"/><circle cx="122.15" cy="254.25" r="0.82"/><circle cx="120.74" cy="224.46" r="0.82"/><circle cx="121.59" cy="231.57" r="0.82"/><circle cx="120.69" cy="249.35" r="0.82"/><circle cx="121.71" cy="258.01" r="0.82"/><circle cx="122.76" cy="205.74" r="0.82"/><circle cx="119.84" cy="238.64" r="0.82"/><circle cx="122.25" cy="249.73" r="0.82"/><circle cx="119.24" cy="271.27" r="0.82"/><circle cx="119.07" cy="207.89" r="0.82"/><circle cx="120.11" cy="227.77" r="0.82"/><circle cx="122.66" cy="247.53" r="0.82"/><circle cx="121.77" cy="263.78" r="0.82"/><circle cx="121.08" cy="212.34" r="0.82"/><circle cx="120.73" cy="242.49" r="0.82"/><circle cx="119.87" cy="245.76" r="0.82"/><circle cx="120.27" cy="259.91" r="0.82"/><circle cx="119.88" cy="206.56" r="0.82"/><circle cx="122.94" cy="230.43" r="0.82"/><circle cx="120.89" cy="244.45" r="0.82"/><circle cx="121.41" cy="258.31" r="0.82"/><circle cx="120.48" cy="225.53" r="0.82"/><circle cx="120.81" cy="227.87" r="0.82"/><circle cx="121.22" cy="247.29" r="0.82"/><circle cx="122.47" cy="263.39" r="0.82"/><circle cx="121.05" cy="214.73" r="0.82"/><circle cx="122.6" cy="241.69" r="0.82"/><circle cx="119.27" cy="246.38" r="0.82"/><circle cx="119.44" cy="255.41" r="0.82"/><circle cx="121.03" cy="206.44" r="0.82"/><circle cx="120.14" cy="228.23" r="0.82"/><circle cx="119.69" cy="203" r="0.82"/><circle cx="120.72" cy="274.3" r="0.82"/></g>
<path d="M118.6 188.9H122.6M120.6 186.9V190.9" stroke="#d4d4d4" stroke-width="0.5"/>
<g fill="#3a7868" fill-opacity="0.9"><circle cx="121.36" cy="188.9" r="0.8"/></g>
<text x="120.8" y="197.65" text-anchor="middle" font-size="11.0" fill="#111">c</text>
<rect x="161.5" y="153.95" width="105.9" height="135.35" fill="none" stroke="#8a8a8a" stroke-width="1.15"/>
<text x="158.5" y="292.1" text-anchor="end" font-size="8.2" fill="#222">0.5</text>
<text x="158.5" y="274.1" text-anchor="end" font-size="8.2" fill="#222">1.0</text>
<text x="158.5" y="256.1" text-anchor="end" font-size="8.2" fill="#222">1.5</text>
<text x="158.5" y="238.1" text-anchor="end" font-size="8.2" fill="#222">2.0</text>
<text x="158.5" y="220.1" text-anchor="end" font-size="8.2" fill="#222">2.5</text>
<text x="158.5" y="202.1" text-anchor="end" font-size="8.2" fill="#222">3.0</text>
<text x="158.5" y="184.1" text-anchor="end" font-size="8.2" fill="#222">3.5</text>
<text x="158.5" y="166.1" text-anchor="end" font-size="8.2" fill="#222">4.0</text>
<path d="M159.3 289H161.5M159.3 271H161.5M159.3 253H161.5M159.3 235H161.5M159.3 217H161.5M159.3 199H161.5M159.3 181H161.5M159.3 163H161.5M160.3 280H161.5M160.3 262H161.5M160.3 244H161.5M160.3 226H161.5M160.3 208H161.5M160.3 190H161.5M160.3 172H161.5M174.74 289.3V291.3M201.21 289.3V291.3M227.69 289.3V291.3M254.16 289.3V291.3" stroke="#7d7d7d" stroke-width="0.9" fill="none"/>
<text x="174.74" y="299.3" text-anchor="middle" font-size="8.3" fill="#222">FF</text>
<text x="201.21" y="299.3" text-anchor="middle" font-size="8.3" fill="#222">RS</text>
<text x="227.69" y="299.3" text-anchor="middle" font-size="8.3" fill="#222">SF</text>
<text x="254.16" y="299.3" text-anchor="middle" font-size="8.3" fill="#222">CF</text>
<text transform="translate(143.8 221.4) rotate(-90)" text-anchor="middle" font-size="8.5" fill="#222">TOC (%)</text>
<path d="M174.74 211.8V231.3M174.74 252.5V275.4M170.34 211.8H179.14M170.34 275.4H179.14" stroke="#96a4f0" stroke-width="0.65" fill="none"/>
<rect x="166.14" y="231.3" width="17.2" height="21.2" fill="#bac4f8" stroke="#8794e8" stroke-width="0.7"/>
<path d="M166.14 244.1H183.34" stroke="#8794e8" stroke-width="0.7"/>
<g fill="#4456d8" fill-opacity="0.7"><circle cx="174.93" cy="227.95" r="0.82"/><circle cx="174.52" cy="242.02" r="0.82"/><circle cx="175.15" cy="247.05" r="0.82"/><circle cx="173.93" cy="269.89" r="0.82"/><circle cx="175.04" cy="219.84" r="0.82"/><circle cx="175.37" cy="237.7" r="0.82"/><circle cx="175.48" cy="250.56" r="0.82"/><circle cx="174.09" cy="268.54" r="0.82"/><circle cx="175.98" cy="229.28" r="0.82"/><circle cx="174.27" cy="242.8" r="0.82"/><circle cx="176.16" cy="246.97" r="0.82"/><circle cx="174.42" cy="252.86" r="0.82"/><circle cx="175.17" cy="212.04" r="0.82"/><circle cx="175.3" cy="244" r="0.82"/><circle cx="174.28" cy="249.67" r="0.82"/><circle cx="173.08" cy="252.71" r="0.82"/><circle cx="174.59" cy="231.27" r="0.82"/><circle cx="174.79" cy="241.3" r="0.82"/><circle cx="175.01" cy="249.91" r="0.82"/><circle cx="175.59" cy="270.19" r="0.82"/><circle cx="176.44" cy="212.97" r="0.82"/><circle cx="174.49" cy="239.33" r="0.82"/><circle cx="174.75" cy="250.93" r="0.82"/><circle cx="176.37" cy="257.57" r="0.82"/><circle cx="174.31" cy="226.25" r="0.82"/><circle cx="174.39" cy="239.2" r="0.82"/><circle cx="175.52" cy="246.69" r="0.82"/><circle cx="174.02" cy="264.63" r="0.82"/><circle cx="175.24" cy="215.13" r="0.82"/><circle cx="175.08" cy="237.03" r="0.82"/><circle cx="175.31" cy="251.58" r="0.82"/><circle cx="173.3" cy="267.78" r="0.82"/><circle cx="175.98" cy="228.7" r="0.82"/><circle cx="174.84" cy="232.17" r="0.82"/><circle cx="175.65" cy="211.8" r="0.82"/><circle cx="176.1" cy="275.4" r="0.82"/></g>
<path d="M172.94 192.6H176.94M174.94 190.6V194.6" stroke="#d4d4d4" stroke-width="0.5"/>
<g fill="#4c5290" fill-opacity="0.9"><circle cx="174.44" cy="192.6" r="0.8"/></g>
<text x="175.14" y="206.1" text-anchor="middle" font-size="11.0" fill="#111">b</text>
<path d="M201.21 163.9V196.4M201.21 227.3V268.1M196.81 163.9H205.61M196.81 268.1H205.61" stroke="#f4aaae" stroke-width="0.65" fill="none"/>
<rect x="192.61" y="196.4" width="17.2" height="30.9" fill="#fabdc0" stroke="#f2a2a6" stroke-width="0.7"/>
<path d="M192.61 218.5H209.81" stroke="#ee9a9e" stroke-width="0.7"/>
<g fill="#d8505e" fill-opacity="0.6"><circle cx="203.52" cy="173.05" r="0.82"/><circle cx="202.01" cy="200.18" r="0.82"/><circle cx="200.3" cy="218.77" r="0.82"/><circle cx="200.78" cy="240.86" r="0.82"/><circle cx="203.38" cy="179.52" r="0.82"/><circle cx="200.65" cy="210.41" r="0.82"/><circle cx="200.03" cy="222.78" r="0.82"/><circle cx="200.62" cy="230.48" r="0.82"/><circle cx="201.05" cy="182.52" r="0.82"/><circle cx="202.5" cy="206.88" r="0.82"/><circle cx="201.31" cy="218.51" r="0.82"/><circle cx="201.99" cy="232.8" r="0.82"/><circle cx="201.29" cy="188.67" r="0.82"/><circle cx="202.66" cy="212.59" r="0.82"/><circle cx="200.58" cy="227.06" r="0.82"/><circle cx="200.23" cy="266.75" r="0.82"/><circle cx="201.35" cy="182.49" r="0.82"/><circle cx="203.38" cy="204.2" r="0.82"/><circle cx="201.22" cy="226.05" r="0.82"/><circle cx="200.23" cy="256.48" r="0.82"/><circle cx="200.65" cy="165.82" r="0.82"/><circle cx="200.88" cy="202.04" r="0.82"/><circle cx="201.67" cy="227.28" r="0.82"/><circle cx="200.94" cy="245.91" r="0.82"/><circle cx="203.2" cy="179.58" r="0.82"/><circle cx="201.11" cy="201.58" r="0.82"/><circle cx="201.5" cy="226.62" r="0.82"/><circle cx="201.91" cy="229.54" r="0.82"/><circle cx="201.55" cy="177.77" r="0.82"/><circle cx="200.39" cy="216.87" r="0.82"/><circle cx="201.8" cy="225.56" r="0.82"/><circle cx="202.35" cy="231.32" r="0.82"/><circle cx="203.68" cy="164.87" r="0.82"/><circle cx="201.46" cy="214.99" r="0.82"/><circle cx="201.61" cy="163.9" r="0.82"/><circle cx="202.16" cy="268.1" r="0.82"/></g>
<text x="201.61" y="162.35" text-anchor="middle" font-size="11.0" fill="#111">a</text>
<path d="M227.69 179.4V196.4M227.69 225.3V239.4M223.29 179.4H232.09M223.29 239.4H232.09" stroke="#6aa8f2" stroke-width="0.65" fill="none"/>
<rect x="219.09" y="196.4" width="17.2" height="28.9" fill="#cdbbe3" stroke="#98a2e8" stroke-width="0.7"/>
<path d="M219.09 213.2H236.29" stroke="#8e98e4" stroke-width="0.7"/>
<g fill="#1f56d8" fill-opacity="0.75"><circle cx="229.46" cy="183.63" r="0.82"/><circle cx="227.29" cy="209.62" r="0.82"/><circle cx="228.65" cy="216.58" r="0.82"/><circle cx="227.97" cy="235.02" r="0.82"/><circle cx="228.02" cy="186.6" r="0.82"/><circle cx="229.03" cy="209.79" r="0.82"/><circle cx="228.97" cy="219.45" r="0.82"/><circle cx="228.8" cy="226.06" r="0.82"/><circle cx="227.67" cy="190.7" r="0.82"/><circle cx="228.64" cy="212.44" r="0.82"/><circle cx="227.97" cy="224.18" r="0.82"/><circle cx="228.05" cy="227.85" r="0.82"/><circle cx="228.72" cy="187.52" r="0.82"/><circle cx="229.49" cy="196.88" r="0.82"/><circle cx="227.25" cy="221.92" r="0.82"/><circle cx="226.35" cy="231.57" r="0.82"/><circle cx="227.95" cy="192.28" r="0.82"/><circle cx="228.31" cy="200.96" r="0.82"/><circle cx="228.96" cy="214.21" r="0.82"/><circle cx="228.59" cy="226.94" r="0.82"/><circle cx="228.17" cy="191.63" r="0.82"/><circle cx="226.06" cy="203.53" r="0.82"/><circle cx="226.99" cy="215.07" r="0.82"/><circle cx="227.81" cy="233.47" r="0.82"/><circle cx="227.14" cy="196.38" r="0.82"/><circle cx="227.68" cy="199.4" r="0.82"/><circle cx="226.89" cy="216.64" r="0.82"/><circle cx="228.52" cy="226.35" r="0.82"/><circle cx="227.41" cy="183.95" r="0.82"/><circle cx="226.75" cy="212.39" r="0.82"/><circle cx="227.37" cy="218.89" r="0.82"/><circle cx="227.63" cy="228.04" r="0.82"/><circle cx="229.03" cy="183.24" r="0.82"/><circle cx="227.93" cy="209.12" r="0.82"/><circle cx="228.03" cy="179.4" r="0.82"/><circle cx="228.28" cy="239.4" r="0.82"/></g>
<text x="228.09" y="175.65" text-anchor="middle" font-size="11.0" fill="#111">a</text>
<path d="M254.16 187.8V228.6M254.16 260V275.4M249.76 187.8H258.56M249.76 275.4H258.56" stroke="#52c8a8" stroke-width="0.65" fill="none"/>
<rect x="245.56" y="228.6" width="17.2" height="31.4" fill="#f8f996" stroke="#b8e29a" stroke-width="0.7"/>
<path d="M245.56 246.7H262.76" stroke="#8cd07c" stroke-width="0.7"/>
<g fill="#0e9452" fill-opacity="0.75"><circle cx="253.34" cy="216.98" r="0.82"/><circle cx="255.46" cy="229.39" r="0.82"/><circle cx="254.85" cy="257.31" r="0.82"/><circle cx="254.91" cy="266.29" r="0.82"/><circle cx="255.32" cy="204.01" r="0.82"/><circle cx="253.55" cy="229.66" r="0.82"/><circle cx="255.49" cy="252.99" r="0.82"/><circle cx="255.01" cy="263.09" r="0.82"/><circle cx="255.33" cy="213.04" r="0.82"/><circle cx="255.54" cy="241.18" r="0.82"/><circle cx="254.38" cy="250.11" r="0.82"/><circle cx="255.89" cy="269.7" r="0.82"/><circle cx="256.19" cy="204.93" r="0.82"/><circle cx="254.93" cy="229.89" r="0.82"/><circle cx="255.79" cy="258.12" r="0.82"/><circle cx="254.55" cy="267.61" r="0.82"/><circle cx="254.9" cy="222.91" r="0.82"/><circle cx="253.33" cy="244.76" r="0.82"/><circle cx="256.2" cy="247.29" r="0.82"/><circle cx="253.98" cy="266.7" r="0.82"/><circle cx="255.59" cy="196.46" r="0.82"/><circle cx="255.48" cy="241.72" r="0.82"/><circle cx="253.66" cy="258.84" r="0.82"/><circle cx="253.89" cy="265.21" r="0.82"/><circle cx="254.03" cy="192.94" r="0.82"/><circle cx="255.18" cy="229.44" r="0.82"/><circle cx="254.85" cy="257.68" r="0.82"/><circle cx="254.36" cy="261.3" r="0.82"/><circle cx="255.59" cy="207.36" r="0.82"/><circle cx="254.19" cy="246.55" r="0.82"/><circle cx="252.92" cy="253.33" r="0.82"/><circle cx="254.76" cy="271.98" r="0.82"/><circle cx="254.95" cy="205.63" r="0.82"/><circle cx="254.85" cy="243.9" r="0.82"/><circle cx="256.21" cy="187.8" r="0.82"/><circle cx="253.89" cy="275.4" r="0.82"/></g>
<text x="254.56" y="182.5" text-anchor="middle" font-size="11.0" fill="#111">b</text>
<rect x="299.2" y="153.95" width="105.8" height="135.35" fill="none" stroke="#8a8a8a" stroke-width="1.15"/>
<text x="296.2" y="281.55" text-anchor="end" font-size="8.2" fill="#222">0</text>
<text x="296.2" y="260.75" text-anchor="end" font-size="8.2" fill="#222">200</text>
<text x="296.2" y="239.95" text-anchor="end" font-size="8.2" fill="#222">400</text>
<text x="296.2" y="219.15" text-anchor="end" font-size="8.2" fill="#222">600</text>
<text x="296.2" y="198.35" text-anchor="end" font-size="8.2" fill="#222">800</text>
<text x="296.2" y="177.55" text-anchor="end" font-size="8.2" fill="#222">1000</text>
<text x="296.2" y="156.75" text-anchor="end" font-size="8.2" fill="#222">1200</text>
<path d="M297 278.45H299.2M297 257.65H299.2M297 236.85H299.2M297 216.05H299.2M297 195.25H299.2M297 174.45H299.2M297 153.65H299.2M298 268.05H299.2M298 247.25H299.2M298 226.45H299.2M298 205.65H299.2M298 184.85H299.2M298 164.05H299.2M312.43 289.3V291.3M338.88 289.3V291.3M365.32 289.3V291.3M391.77 289.3V291.3" stroke="#7d7d7d" stroke-width="0.9" fill="none"/>
<text x="312.43" y="299.3" text-anchor="middle" font-size="8.3" fill="#222">FF</text>
<text x="338.88" y="299.3" text-anchor="middle" font-size="8.3" fill="#222">RS</text>
<text x="365.32" y="299.3" text-anchor="middle" font-size="8.3" fill="#222">SF</text>
<text x="391.77" y="299.3" text-anchor="middle" font-size="8.3" fill="#222">CF</text>
<text transform="translate(274.5 220.85) rotate(-90)" text-anchor="middle" font-size="8.5" fill="#222">DOC (mg·kg<tspan dy="-3.2" font-size="5.6">-1</tspan><tspan dy="3.2">)</tspan></text>
<path d="M312.43 207.4V229.2M312.43 246.1V259.6M308.03 207.4H316.82M308.03 259.6H316.82" stroke="#96a4f0" stroke-width="0.65" fill="none"/>
<rect x="303.82" y="229.2" width="17.2" height="16.9" fill="#bac4f8" stroke="#8794e8" stroke-width="0.7"/>
<path d="M303.82 238.8H321.03" stroke="#8794e8" stroke-width="0.7"/>
<g fill="#4456d8" fill-opacity="0.7"><circle cx="311.47" cy="222.96" r="0.82"/><circle cx="312.66" cy="231.86" r="0.82"/><circle cx="313.39" cy="241.92" r="0.82"/><circle cx="313.33" cy="255.8" r="0.82"/><circle cx="312.42" cy="222.26" r="0.82"/><circle cx="312.69" cy="238.14" r="0.82"/><circle cx="311.38" cy="245.64" r="0.82"/><circle cx="313.04" cy="252.45" r="0.82"/><circle cx="313.96" cy="228.29" r="0.82"/><circle cx="313.28" cy="230.47" r="0.82"/><circle cx="311.8" cy="242.73" r="0.82"/><circle cx="312.76" cy="256.27" r="0.82"/><circle cx="312.82" cy="207.4" r="0.82"/><circle cx="312.85" cy="236.09" r="0.82"/><circle cx="311.35" cy="238.81" r="0.82"/><circle cx="313.36" cy="257.75" r="0.82"/><circle cx="311.7" cy="219.27" r="0.82"/><circle cx="312.49" cy="230.43" r="0.82"/><circle cx="312.24" cy="243.92" r="0.82"/><circle cx="312.69" cy="258.37" r="0.82"/><circle cx="313.7" cy="226.08" r="0.82"/><circle cx="312.23" cy="234.71" r="0.82"/><circle cx="311.72" cy="243.39" r="0.82"/><circle cx="314.19" cy="252.45" r="0.82"/><circle cx="312.26" cy="224.93" r="0.82"/><circle cx="312.55" cy="234.47" r="0.82"/><circle cx="311.98" cy="245.52" r="0.82"/><circle cx="312.49" cy="251.63" r="0.82"/><circle cx="314.25" cy="227.69" r="0.82"/><circle cx="313.09" cy="234.68" r="0.82"/><circle cx="312.44" cy="244.24" r="0.82"/><circle cx="311.62" cy="246.39" r="0.82"/><circle cx="312.9" cy="211.74" r="0.82"/><circle cx="310.59" cy="233.77" r="0.82"/><circle cx="314.41" cy="207.4" r="0.82"/><circle cx="311.66" cy="259.6" r="0.82"/></g>
<path d="M310.62 200.6H314.62M312.62 198.6V202.6" stroke="#d4d4d4" stroke-width="0.5"/>
<g fill="#4c5290" fill-opacity="0.9"><circle cx="312.39" cy="200.6" r="0.8"/></g>
<text x="312.82" y="194.1" text-anchor="middle" font-size="11.0" fill="#111">ab</text>
<path d="M338.88 199.2V223.5M338.88 240.6V257.4M334.48 199.2H343.27M334.48 257.4H343.27" stroke="#f4aaae" stroke-width="0.65" fill="none"/>
<rect x="330.27" y="223.5" width="17.2" height="17.1" fill="#fabdc0" stroke="#f2a2a6" stroke-width="0.7"/>
<path d="M330.27 232.1H347.48" stroke="#ee9a9e" stroke-width="0.7"/>
<g fill="#d8505e" fill-opacity="0.6"><circle cx="337.8" cy="216.61" r="0.82"/><circle cx="340.56" cy="228.78" r="0.82"/><circle cx="340.86" cy="234.36" r="0.82"/><circle cx="340.28" cy="251.3" r="0.82"/><circle cx="340.47" cy="208.19" r="0.82"/><circle cx="340.17" cy="231.49" r="0.82"/><circle cx="338.21" cy="240.08" r="0.82"/><circle cx="340" cy="251.4" r="0.82"/><circle cx="338.35" cy="201.31" r="0.82"/><circle cx="338.73" cy="230.21" r="0.82"/><circle cx="339.34" cy="235.39" r="0.82"/><circle cx="338.05" cy="240.66" r="0.82"/><circle cx="339.3" cy="221.07" r="0.82"/><circle cx="339.83" cy="231.63" r="0.82"/><circle cx="338.59" cy="237.72" r="0.82"/><circle cx="339.75" cy="253.03" r="0.82"/><circle cx="339.38" cy="223.17" r="0.82"/><circle cx="339.46" cy="230.26" r="0.82"/><circle cx="338.63" cy="234.48" r="0.82"/><circle cx="340.59" cy="243.29" r="0.82"/><circle cx="337.84" cy="216.5" r="0.82"/><circle cx="339.34" cy="230.67" r="0.82"/><circle cx="340.46" cy="238.12" r="0.82"/><circle cx="340.03" cy="257.1" r="0.82"/><circle cx="337.65" cy="223.49" r="0.82"/><circle cx="338.07" cy="227.26" r="0.82"/><circle cx="339.24" cy="237.36" r="0.82"/><circle cx="337.04" cy="245.63" r="0.82"/><circle cx="338.9" cy="217.6" r="0.82"/><circle cx="338.97" cy="231.22" r="0.82"/><circle cx="341.03" cy="236.43" r="0.82"/><circle cx="341.29" cy="241.6" r="0.82"/><circle cx="338.86" cy="217.63" r="0.82"/><circle cx="339.38" cy="226.91" r="0.82"/><circle cx="340.99" cy="199.2" r="0.82"/><circle cx="337.62" cy="257.4" r="0.82"/></g>
<text x="339.27" y="192.65" text-anchor="middle" font-size="11.0" fill="#111">a</text>
<path d="M365.32 195.5V223.5M365.32 246.3V270.3M360.93 195.5H369.72M360.93 270.3H369.72" stroke="#6aa8f2" stroke-width="0.65" fill="none"/>
<rect x="356.72" y="223.5" width="17.2" height="22.8" fill="#cdbbe3" stroke="#98a2e8" stroke-width="0.7"/>
<path d="M356.72 230.2H373.93" stroke="#8e98e4" stroke-width="0.7"/>
<g fill="#1f56d8" fill-opacity="0.75"><circle cx="365.31" cy="212.74" r="0.82"/><circle cx="365.74" cy="224.82" r="0.82"/><circle cx="366.79" cy="233.22" r="0.82"/><circle cx="365.67" cy="252" r="0.82"/><circle cx="365.53" cy="216.25" r="0.82"/><circle cx="365.69" cy="228.49" r="0.82"/><circle cx="366.19" cy="241.4" r="0.82"/><circle cx="365.53" cy="263.63" r="0.82"/><circle cx="365.37" cy="204.29" r="0.82"/><circle cx="365.48" cy="226.18" r="0.82"/><circle cx="365.69" cy="235.82" r="0.82"/><circle cx="364.57" cy="251.93" r="0.82"/><circle cx="365.16" cy="212.87" r="0.82"/><circle cx="366.65" cy="226.74" r="0.82"/><circle cx="367" cy="239.35" r="0.82"/><circle cx="365.28" cy="267.35" r="0.82"/><circle cx="366.53" cy="217.51" r="0.82"/><circle cx="366.99" cy="227.26" r="0.82"/><circle cx="367.46" cy="233.28" r="0.82"/><circle cx="366.11" cy="256.62" r="0.82"/><circle cx="367.08" cy="211.06" r="0.82"/><circle cx="366.71" cy="228.03" r="0.82"/><circle cx="367.42" cy="237.45" r="0.82"/><circle cx="366.54" cy="247.53" r="0.82"/><circle cx="365.45" cy="217.68" r="0.82"/><circle cx="365.95" cy="225.34" r="0.82"/><circle cx="363.94" cy="233.21" r="0.82"/><circle cx="365.44" cy="267.67" r="0.82"/><circle cx="367.68" cy="207.02" r="0.82"/><circle cx="366.58" cy="229.81" r="0.82"/><circle cx="366.41" cy="245.38" r="0.82"/><circle cx="365.68" cy="249.72" r="0.82"/><circle cx="364.69" cy="218.81" r="0.82"/><circle cx="366.41" cy="226.82" r="0.82"/><circle cx="365.64" cy="195.5" r="0.82"/><circle cx="365.61" cy="270.3" r="0.82"/></g>
<text x="365.72" y="191.3" text-anchor="middle" font-size="11.0" fill="#111">ab</text>
<path d="M391.77 205.9V230.8M391.77 251.1V264.8M387.38 205.9H396.17M387.38 264.8H396.17" stroke="#52c8a8" stroke-width="0.65" fill="none"/>
<rect x="383.17" y="230.8" width="17.2" height="20.3" fill="#f8f996" stroke="#b8e29a" stroke-width="0.7"/>
<path d="M383.17 239H400.38" stroke="#8cd07c" stroke-width="0.7"/>
<g fill="#0e9452" fill-opacity="0.75"><circle cx="390.81" cy="208.38" r="0.82"/><circle cx="392.88" cy="238.91" r="0.82"/><circle cx="392.74" cy="239.6" r="0.82"/><circle cx="390.83" cy="260.76" r="0.82"/><circle cx="392.08" cy="226.61" r="0.82"/><circle cx="393.34" cy="232.41" r="0.82"/><circle cx="392.45" cy="244.95" r="0.82"/><circle cx="393.45" cy="253.42" r="0.82"/><circle cx="392.83" cy="208.47" r="0.82"/><circle cx="392.1" cy="232.04" r="0.82"/><circle cx="390.34" cy="243.41" r="0.82"/><circle cx="392.81" cy="252.03" r="0.82"/><circle cx="390.29" cy="215.66" r="0.82"/><circle cx="390.86" cy="234.84" r="0.82"/><circle cx="393.35" cy="244.89" r="0.82"/><circle cx="392.56" cy="262.79" r="0.82"/><circle cx="391.23" cy="219.51" r="0.82"/><circle cx="391.22" cy="235" r="0.82"/><circle cx="392.82" cy="249.42" r="0.82"/><circle cx="392.85" cy="257.28" r="0.82"/><circle cx="391.06" cy="209.55" r="0.82"/><circle cx="390.9" cy="236.09" r="0.82"/><circle cx="393.25" cy="247.77" r="0.82"/><circle cx="391.82" cy="256.36" r="0.82"/><circle cx="392.49" cy="229.85" r="0.82"/><circle cx="391.59" cy="235.59" r="0.82"/><circle cx="391.43" cy="249.62" r="0.82"/><circle cx="392.77" cy="260.07" r="0.82"/><circle cx="391.18" cy="207.48" r="0.82"/><circle cx="391.2" cy="232.9" r="0.82"/><circle cx="393.4" cy="249.41" r="0.82"/><circle cx="392.66" cy="252.03" r="0.82"/><circle cx="392.31" cy="230.76" r="0.82"/><circle cx="392.62" cy="231.11" r="0.82"/><circle cx="390.53" cy="205.9" r="0.82"/><circle cx="392.24" cy="264.8" r="0.82"/></g>
<path d="M389.97 173.9H393.97M391.97 171.9V175.9" stroke="#d4d4d4" stroke-width="0.5"/>
<g fill="#3a7868" fill-opacity="0.9"><circle cx="392.92" cy="173.9" r="0.8"/></g>
<text x="392.17" y="200.8" text-anchor="middle" font-size="11.0" fill="#111">b</text>
<rect x="440.75" y="153.95" width="105.75" height="135.35" fill="none" stroke="#8a8a8a" stroke-width="1.15"/>
<text x="437.75" y="292.4" text-anchor="end" font-size="8.2" fill="#222">-200</text>
<text x="437.75" y="265.3" text-anchor="end" font-size="8.2" fill="#222">0</text>
<text x="437.75" y="238.2" text-anchor="end" font-size="8.2" fill="#222">200</text>
<text x="437.75" y="211.1" text-anchor="end" font-size="8.2" fill="#222">400</text>
<text x="437.75" y="184" text-anchor="end" font-size="8.2" fill="#222">600</text>
<text x="437.75" y="156.9" text-anchor="end" font-size="8.2" fill="#222">800</text>
<path d="M438.55 289.3H440.75M438.55 262.2H440.75M438.55 235.1H440.75M438.55 208H440.75M438.55 180.9H440.75M438.55 153.8H440.75M439.55 275.75H440.75M439.55 248.65H440.75M439.55 221.55H440.75M439.55 194.45H440.75M439.55 167.35H440.75M453.97 289.3V291.3M480.41 289.3V291.3M506.84 289.3V291.3M533.28 289.3V291.3" stroke="#7d7d7d" stroke-width="0.9" fill="none"/>
<text x="453.97" y="299.3" text-anchor="middle" font-size="8.3" fill="#222">FF</text>
<text x="480.41" y="299.3" text-anchor="middle" font-size="8.3" fill="#222">RS</text>
<text x="506.84" y="299.3" text-anchor="middle" font-size="8.3" fill="#222">SF</text>
<text x="533.28" y="299.3" text-anchor="middle" font-size="8.3" fill="#222">CF</text>
<text transform="translate(415.8 221.3) rotate(-90)" text-anchor="middle" font-size="8.5" fill="#222">WSN (mg·kg<tspan dy="-3.2" font-size="5.6">-1</tspan><tspan dy="3.2">)</tspan></text>
<path d="M453.97 236.3V248.3M453.97 256.6V259.5M449.57 236.3H458.37M449.57 259.5H458.37" stroke="#96a4f0" stroke-width="0.65" fill="none"/>
<rect x="445.37" y="248.3" width="17.2" height="8.3" fill="#bac4f8" stroke="#8794e8" stroke-width="0.7"/>
<path d="M445.37 253.8H462.57" stroke="#8794e8" stroke-width="0.7"/>
<g fill="#4456d8" fill-opacity="0.7"><circle cx="454.17" cy="242.12" r="0.82"/><circle cx="455.38" cy="249.59" r="0.82"/><circle cx="452.95" cy="254.72" r="0.82"/><circle cx="454.93" cy="258.81" r="0.82"/><circle cx="454.73" cy="247.51" r="0.82"/><circle cx="455.51" cy="250.02" r="0.82"/><circle cx="453.86" cy="254.7" r="0.82"/><circle cx="454.71" cy="257.95" r="0.82"/><circle cx="455.68" cy="241.03" r="0.82"/><circle cx="454.99" cy="249.15" r="0.82"/><circle cx="454.47" cy="255.02" r="0.82"/><circle cx="456.35" cy="258.92" r="0.82"/><circle cx="452.81" cy="241.91" r="0.82"/><circle cx="456.51" cy="253.04" r="0.82"/><circle cx="455.84" cy="256.19" r="0.82"/><circle cx="453.08" cy="257.71" r="0.82"/><circle cx="453.31" cy="246.57" r="0.82"/><circle cx="454.46" cy="250.04" r="0.82"/><circle cx="454.18" cy="255.28" r="0.82"/><circle cx="454.63" cy="259.1" r="0.82"/><circle cx="454.61" cy="246.53" r="0.82"/><circle cx="452.99" cy="252.63" r="0.82"/><circle cx="453.12" cy="254.52" r="0.82"/><circle cx="455.67" cy="256.94" r="0.82"/><circle cx="453.48" cy="248.15" r="0.82"/><circle cx="454.55" cy="250.46" r="0.82"/><circle cx="455.22" cy="256.07" r="0.82"/><circle cx="453.7" cy="257.38" r="0.82"/><circle cx="455.78" cy="242.42" r="0.82"/><circle cx="455.07" cy="248.78" r="0.82"/><circle cx="454.06" cy="254.68" r="0.82"/><circle cx="453.39" cy="257.7" r="0.82"/><circle cx="454.54" cy="248.28" r="0.82"/><circle cx="454.39" cy="249.84" r="0.82"/><circle cx="454.99" cy="236.3" r="0.82"/><circle cx="456.29" cy="259.5" r="0.82"/></g>
<path d="M452.17 210.3H456.17M454.17 208.3V212.3" stroke="#d4d4d4" stroke-width="0.5"/>
<g fill="#4c5290" fill-opacity="0.9"><circle cx="454" cy="210.3" r="0.8"/><circle cx="453.64" cy="231.3" r="0.8"/></g>
<text x="454.37" y="224.15" text-anchor="middle" font-size="11.0" fill="#111">a</text>
<path d="M480.41 251.8V253.8M480.41 257.8V259.5M476.01 251.8H484.81M476.01 259.5H484.81" stroke="#f4aaae" stroke-width="0.65" fill="none"/>
<rect x="471.81" y="253.8" width="17.2" height="4" fill="#fabdc0" stroke="#f2a2a6" stroke-width="0.7"/>
<path d="M471.81 255.5H489.01" stroke="#ee9a9e" stroke-width="0.7"/>
<g fill="#d8505e" fill-opacity="0.6"><circle cx="479.43" cy="252.64" r="0.82"/><circle cx="480.45" cy="255.07" r="0.82"/><circle cx="481.58" cy="256.13" r="0.82"/><circle cx="480.99" cy="258.24" r="0.82"/><circle cx="480.55" cy="252.23" r="0.82"/><circle cx="480.85" cy="254.08" r="0.82"/><circle cx="480.98" cy="255.73" r="0.82"/><circle cx="480.15" cy="259.35" r="0.82"/><circle cx="479.19" cy="253.8" r="0.82"/><circle cx="481.79" cy="254.16" r="0.82"/><circle cx="481.61" cy="255.55" r="0.82"/><circle cx="480.43" cy="258.32" r="0.82"/><circle cx="479.78" cy="252.64" r="0.82"/><circle cx="480.67" cy="254.18" r="0.82"/><circle cx="480.87" cy="255.79" r="0.82"/><circle cx="480.71" cy="258.41" r="0.82"/><circle cx="480.83" cy="253.6" r="0.82"/><circle cx="480.84" cy="254.77" r="0.82"/><circle cx="481.45" cy="256.49" r="0.82"/><circle cx="481.01" cy="258.03" r="0.82"/><circle cx="479.6" cy="252.32" r="0.82"/><circle cx="481.38" cy="254.25" r="0.82"/><circle cx="480.9" cy="256.79" r="0.82"/><circle cx="480.02" cy="257.81" r="0.82"/><circle cx="481.47" cy="252.17" r="0.82"/><circle cx="478.86" cy="254.11" r="0.82"/><circle cx="481.82" cy="257.02" r="0.82"/><circle cx="480.51" cy="259.48" r="0.82"/><circle cx="479.48" cy="253.59" r="0.82"/><circle cx="481.53" cy="254.98" r="0.82"/><circle cx="480.39" cy="255.66" r="0.82"/><circle cx="481.21" cy="259.3" r="0.82"/><circle cx="480.29" cy="252.73" r="0.82"/><circle cx="482.91" cy="255" r="0.82"/><circle cx="480.77" cy="251.8" r="0.82"/><circle cx="480.19" cy="259.5" r="0.82"/></g>
<path d="M478.61 169.9H482.61M480.61 167.9V171.9" stroke="#d4d4d4" stroke-width="0.5"/>
<g fill="#8c4a58" fill-opacity="0.9"><circle cx="480.46" cy="241.2" r="0.8"/><circle cx="481.15" cy="245.6" r="0.8"/><circle cx="481.68" cy="169.9" r="0.8"/></g>
<text x="480.81" y="235.25" text-anchor="middle" font-size="11.0" fill="#111">a</text>
<path d="M506.84 249.6V252.9M506.84 256.2V260M502.44 249.6H511.24M502.44 260H511.24" stroke="#6aa8f2" stroke-width="0.65" fill="none"/>
<rect x="498.24" y="252.9" width="17.2" height="3.3" fill="#cdbbe3" stroke="#98a2e8" stroke-width="0.7"/>
<path d="M498.24 254.4H515.44" stroke="#8e98e4" stroke-width="0.7"/>
<g fill="#1f56d8" fill-opacity="0.75"><circle cx="508.81" cy="250.62" r="0.82"/><circle cx="505.52" cy="253.41" r="0.82"/><circle cx="506.64" cy="255.27" r="0.82"/><circle cx="506.35" cy="258.77" r="0.82"/><circle cx="506.46" cy="251.4" r="0.82"/><circle cx="508.52" cy="253.7" r="0.82"/><circle cx="508.62" cy="254.51" r="0.82"/><circle cx="505.46" cy="256.46" r="0.82"/><circle cx="506.87" cy="252.74" r="0.82"/><circle cx="508.89" cy="253.24" r="0.82"/><circle cx="508.88" cy="255.65" r="0.82"/><circle cx="506.94" cy="257.74" r="0.82"/><circle cx="505.23" cy="251.81" r="0.82"/><circle cx="508.18" cy="253.73" r="0.82"/><circle cx="505.77" cy="254.69" r="0.82"/><circle cx="506" cy="256.46" r="0.82"/><circle cx="507.48" cy="251.3" r="0.82"/><circle cx="506.18" cy="254.36" r="0.82"/><circle cx="507.55" cy="254.74" r="0.82"/><circle cx="506.74" cy="257.68" r="0.82"/><circle cx="506.4" cy="252.6" r="0.82"/><circle cx="507.36" cy="252.99" r="0.82"/><circle cx="506.12" cy="256.16" r="0.82"/><circle cx="508.04" cy="258.81" r="0.82"/><circle cx="507.12" cy="250.5" r="0.82"/><circle cx="508.24" cy="253.88" r="0.82"/><circle cx="506.69" cy="254.53" r="0.82"/><circle cx="507.83" cy="257.01" r="0.82"/><circle cx="508.34" cy="249.67" r="0.82"/><circle cx="507.24" cy="253.62" r="0.82"/><circle cx="507.17" cy="255.68" r="0.82"/><circle cx="508.88" cy="259.77" r="0.82"/><circle cx="507.43" cy="250.91" r="0.82"/><circle cx="506.61" cy="253.17" r="0.82"/><circle cx="507.15" cy="249.6" r="0.82"/><circle cx="506.51" cy="260" r="0.82"/></g>
<path d="M505.04 219.8H509.04M507.04 217.8V221.8" stroke="#d4d4d4" stroke-width="0.5"/>
<g fill="#3c5a98" fill-opacity="0.9"><circle cx="507.78" cy="219.8" r="0.8"/><circle cx="507.61" cy="230.2" r="0.8"/><circle cx="506.36" cy="244.5" r="0.8"/></g>
<text x="507.24" y="212.05" text-anchor="middle" font-size="11.0" fill="#111">a</text>
<path d="M533.28 249.4V253.3M533.28 257.3V260M528.88 249.4H537.68M528.88 260H537.68" stroke="#52c8a8" stroke-width="0.65" fill="none"/>
<rect x="524.68" y="253.3" width="17.2" height="4" fill="#f8f996" stroke="#b8e29a" stroke-width="0.7"/>
<path d="M524.68 255.1H541.88" stroke="#8cd07c" stroke-width="0.7"/>
<g fill="#0e9452" fill-opacity="0.75"><circle cx="534.22" cy="252.32" r="0.82"/><circle cx="532.8" cy="253.71" r="0.82"/><circle cx="532.99" cy="256.08" r="0.82"/><circle cx="533.03" cy="257.96" r="0.82"/><circle cx="532.85" cy="252.44" r="0.82"/><circle cx="532.31" cy="254.7" r="0.82"/><circle cx="535.37" cy="256.15" r="0.82"/><circle cx="532.33" cy="258.65" r="0.82"/><circle cx="533.44" cy="252.93" r="0.82"/><circle cx="533.85" cy="253.85" r="0.82"/><circle cx="534.73" cy="256.13" r="0.82"/><circle cx="534.41" cy="258.56" r="0.82"/><circle cx="533.62" cy="252.21" r="0.82"/><circle cx="534.98" cy="254.7" r="0.82"/><circle cx="534.23" cy="255.9" r="0.82"/><circle cx="533.4" cy="257.61" r="0.82"/><circle cx="532.68" cy="252.65" r="0.82"/><circle cx="532.95" cy="254.16" r="0.82"/><circle cx="533.6" cy="256.97" r="0.82"/><circle cx="532.13" cy="259.03" r="0.82"/><circle cx="532.93" cy="252.9" r="0.82"/><circle cx="531.64" cy="255.03" r="0.82"/><circle cx="533.94" cy="257.06" r="0.82"/><circle cx="533.79" cy="258.68" r="0.82"/><circle cx="534.53" cy="251.85" r="0.82"/><circle cx="533.85" cy="254.87" r="0.82"/><circle cx="532.63" cy="256.58" r="0.82"/><circle cx="533.25" cy="258.59" r="0.82"/><circle cx="535.49" cy="253.26" r="0.82"/><circle cx="533.73" cy="254.24" r="0.82"/><circle cx="534.05" cy="256.96" r="0.82"/><circle cx="535.67" cy="258.04" r="0.82"/><circle cx="532.97" cy="249.74" r="0.82"/><circle cx="534.27" cy="253.97" r="0.82"/><circle cx="534.35" cy="249.4" r="0.82"/><circle cx="532.58" cy="260" r="0.82"/></g>
<path d="M531.48 232.4H535.48M533.48 230.4V234.4" stroke="#d4d4d4" stroke-width="0.5"/>
<g fill="#3a7868" fill-opacity="0.9"><circle cx="533.78" cy="232.4" r="0.8"/><circle cx="534.11" cy="244.1" r="0.8"/></g>
<text x="533.68" y="213.85" text-anchor="middle" font-size="11.0" fill="#111">a</text>
<rect x="28" y="319.6" width="105.6" height="134.6" fill="none" stroke="#8a8a8a" stroke-width="1.15"/>
<text x="25" y="457.7" text-anchor="end" font-size="8.2" fill="#222">4.0</text>
<text x="25" y="439.7" text-anchor="end" font-size="8.2" fill="#222">4.5</text>
<text x="25" y="421.7" text-anchor="end" font-size="8.2" fill="#222">5.0</text>
<text x="25" y="403.7" text-anchor="end" font-size="8.2" fill="#222">5.5</text>
<text x="25" y="385.7" text-anchor="end" font-size="8.2" fill="#222">6.0</text>
<text x="25" y="367.7" text-anchor="end" font-size="8.2" fill="#222">6.5</text>
<text x="25" y="349.7" text-anchor="end" font-size="8.2" fill="#222">7.0</text>
<text x="25" y="331.7" text-anchor="end" font-size="8.2" fill="#222">7.5</text>
<path d="M25.8 454.6H28M25.8 436.6H28M25.8 418.6H28M25.8 400.6H28M25.8 382.6H28M25.8 364.6H28M25.8 346.6H28M25.8 328.6H28M26.8 445.6H28M26.8 427.6H28M26.8 409.6H28M26.8 391.6H28M26.8 373.6H28M26.8 355.6H28M26.8 337.6H28M41.2 454.2V456.2M67.6 454.2V456.2M94 454.2V456.2M120.4 454.2V456.2" stroke="#7d7d7d" stroke-width="0.9" fill="none"/>
<text x="41.2" y="464.2" text-anchor="middle" font-size="8.3" fill="#222">Apr.</text>
<text x="67.6" y="464.2" text-anchor="middle" font-size="8.3" fill="#222">Jul.</text>
<text x="94" y="464.2" text-anchor="middle" font-size="8.3" fill="#222">Oct.</text>
<text x="120.4" y="464.2" text-anchor="middle" font-size="8.3" fill="#222">Jan.</text>
<text transform="translate(8 386.9) rotate(-90)" text-anchor="middle" font-size="8.5" fill="#222">pH</text>
<path d="M41.2 351.7V355M41.2 369.8V390.7M36.8 351.7H45.6M36.8 390.7H45.6" stroke="#96a4f0" stroke-width="0.65" fill="none"/>
<rect x="32.6" y="355" width="17.2" height="14.8" fill="#bac4f8" stroke="#8794e8" stroke-width="0.7"/>
<path d="M32.6 359.8H49.8" stroke="#8794e8" stroke-width="0.7"/>
<g fill="#4456d8" fill-opacity="0.7"><circle cx="41.47" cy="354.24" r="0.82"/><circle cx="41.32" cy="359.66" r="0.82"/><circle cx="41.87" cy="361.25" r="0.82"/><circle cx="43" cy="374.98" r="0.82"/><circle cx="41.96" cy="354.7" r="0.82"/><circle cx="42.42" cy="355.79" r="0.82"/><circle cx="40.13" cy="368.4" r="0.82"/><circle cx="42.93" cy="388.09" r="0.82"/><circle cx="41.28" cy="351.93" r="0.82"/><circle cx="40.79" cy="357.68" r="0.82"/><circle cx="42.57" cy="360.23" r="0.82"/><circle cx="39.97" cy="369.96" r="0.82"/><circle cx="41.01" cy="354.61" r="0.82"/><circle cx="41.07" cy="359.57" r="0.82"/><circle cx="41.45" cy="363.12" r="0.82"/><circle cx="41.56" cy="389.05" r="0.82"/><circle cx="41.28" cy="354.23" r="0.82"/><circle cx="42.85" cy="355.2" r="0.82"/><circle cx="41.11" cy="367.64" r="0.82"/><circle cx="41.79" cy="382.79" r="0.82"/><circle cx="41.92" cy="353.53" r="0.82"/><circle cx="41.93" cy="357.64" r="0.82"/><circle cx="42.2" cy="366.8" r="0.82"/><circle cx="41.62" cy="371.31" r="0.82"/><circle cx="40.88" cy="354.34" r="0.82"/><circle cx="41.39" cy="356.89" r="0.82"/><circle cx="43.51" cy="361.04" r="0.82"/><circle cx="43.4" cy="380.14" r="0.82"/><circle cx="42.82" cy="353.65" r="0.82"/><circle cx="41.14" cy="355.73" r="0.82"/><circle cx="39.54" cy="368.47" r="0.82"/><circle cx="42.98" cy="370.3" r="0.82"/><circle cx="42.53" cy="354.24" r="0.82"/><circle cx="41.34" cy="355.95" r="0.82"/><circle cx="41.06" cy="351.7" r="0.82"/><circle cx="41.66" cy="390.7" r="0.82"/></g>
<path d="M39.4 401.8H43.4M41.4 399.8V403.8" stroke="#d4d4d4" stroke-width="0.5"/>
<g fill="#4c5290" fill-opacity="0.9"><circle cx="41.66" cy="401.8" r="0.8"/></g>
<text x="41.6" y="346.8" text-anchor="middle" font-size="11.0" fill="#111">b</text>
<path d="M67.6 352.1V358.7M67.6 373.1V386.3M63.2 352.1H72M63.2 386.3H72" stroke="#f4aaae" stroke-width="0.65" fill="none"/>
<rect x="59" y="358.7" width="17.2" height="14.4" fill="#fabdc0" stroke="#f2a2a6" stroke-width="0.7"/>
<path d="M59 363.2H76.2" stroke="#ee9a9e" stroke-width="0.7"/>
<g fill="#d8505e" fill-opacity="0.6"><circle cx="69.61" cy="354.81" r="0.82"/><circle cx="69.07" cy="360.96" r="0.82"/><circle cx="69.75" cy="371.38" r="0.82"/><circle cx="69.01" cy="379.08" r="0.82"/><circle cx="69.18" cy="355.82" r="0.82"/><circle cx="68.82" cy="362.45" r="0.82"/><circle cx="67.34" cy="371.67" r="0.82"/><circle cx="68.02" cy="379.97" r="0.82"/><circle cx="66.77" cy="352.17" r="0.82"/><circle cx="68.97" cy="361.57" r="0.82"/><circle cx="66.93" cy="371.83" r="0.82"/><circle cx="68.67" cy="378.2" r="0.82"/><circle cx="67.72" cy="353.83" r="0.82"/><circle cx="68.48" cy="360.31" r="0.82"/><circle cx="68.92" cy="367.37" r="0.82"/><circle cx="67.25" cy="380.52" r="0.82"/><circle cx="67.6" cy="352.96" r="0.82"/><circle cx="66.74" cy="362.53" r="0.82"/><circle cx="68.85" cy="371.88" r="0.82"/><circle cx="66.49" cy="379.97" r="0.82"/><circle cx="69.53" cy="352.93" r="0.82"/><circle cx="66.7" cy="363.17" r="0.82"/><circle cx="66.82" cy="364.74" r="0.82"/><circle cx="66.56" cy="375.1" r="0.82"/><circle cx="68.28" cy="357.48" r="0.82"/><circle cx="68.56" cy="360.83" r="0.82"/><circle cx="66.68" cy="371.4" r="0.82"/><circle cx="67.76" cy="384.08" r="0.82"/><circle cx="67.36" cy="355.39" r="0.82"/><circle cx="67.56" cy="358.98" r="0.82"/><circle cx="68.57" cy="367.06" r="0.82"/><circle cx="69.58" cy="380.68" r="0.82"/><circle cx="68.59" cy="353.37" r="0.82"/><circle cx="70.24" cy="359.35" r="0.82"/><circle cx="68.88" cy="352.1" r="0.82"/><circle cx="67.13" cy="386.3" r="0.82"/></g>
<path d="M65.8 441.5H69.8M67.8 439.5V443.5" stroke="#d4d4d4" stroke-width="0.5"/>
<g fill="#8c4a58" fill-opacity="0.9"><circle cx="67.95" cy="433.3" r="0.8"/><circle cx="67.92" cy="441.5" r="0.8"/></g>
<text x="68" y="348.1" text-anchor="middle" font-size="11.0" fill="#111">b</text>
<path d="M94 346.6V354.3M94 371.5V395.2M89.6 346.6H98.4M89.6 395.2H98.4" stroke="#6aa8f2" stroke-width="0.65" fill="none"/>
<rect x="85.4" y="354.3" width="17.2" height="17.2" fill="#cdbbe3" stroke="#98a2e8" stroke-width="0.7"/>
<path d="M85.4 359.8H102.6" stroke="#8e98e4" stroke-width="0.7"/>
<g fill="#1f56d8" fill-opacity="0.75"><circle cx="93.52" cy="350.94" r="0.82"/><circle cx="93.92" cy="359.45" r="0.82"/><circle cx="94.39" cy="363.73" r="0.82"/><circle cx="93.89" cy="377.62" r="0.82"/><circle cx="95.65" cy="348.48" r="0.82"/><circle cx="95.92" cy="357.14" r="0.82"/><circle cx="94.59" cy="366.18" r="0.82"/><circle cx="93.27" cy="391.9" r="0.82"/><circle cx="93.24" cy="354.3" r="0.82"/><circle cx="94.19" cy="356.73" r="0.82"/><circle cx="95.54" cy="369.18" r="0.82"/><circle cx="93.47" cy="380.38" r="0.82"/><circle cx="93.55" cy="352.75" r="0.82"/><circle cx="95.21" cy="354.88" r="0.82"/><circle cx="94.49" cy="367.78" r="0.82"/><circle cx="94.15" cy="382.81" r="0.82"/><circle cx="95.11" cy="353.94" r="0.82"/><circle cx="94.26" cy="354.31" r="0.82"/><circle cx="94.26" cy="365.96" r="0.82"/><circle cx="94.85" cy="381.32" r="0.82"/><circle cx="95.7" cy="349.11" r="0.82"/><circle cx="94.49" cy="357.61" r="0.82"/><circle cx="94.4" cy="360.19" r="0.82"/><circle cx="93.53" cy="385.42" r="0.82"/><circle cx="94" cy="352.86" r="0.82"/><circle cx="93.22" cy="358.19" r="0.82"/><circle cx="93.92" cy="367.56" r="0.82"/><circle cx="94.2" cy="388.61" r="0.82"/><circle cx="94.85" cy="353.17" r="0.82"/><circle cx="94.43" cy="356.7" r="0.82"/><circle cx="93.7" cy="364.72" r="0.82"/><circle cx="93.33" cy="378.94" r="0.82"/><circle cx="94.99" cy="352.76" r="0.82"/><circle cx="93.93" cy="354.67" r="0.82"/><circle cx="92.96" cy="346.6" r="0.82"/><circle cx="95.26" cy="395.2" r="0.82"/></g>
<path d="M92.2 418.3H96.2M94.2 416.3V420.3" stroke="#d4d4d4" stroke-width="0.5"/>
<g fill="#3c5a98" fill-opacity="0.9"><circle cx="95.16" cy="418.3" r="0.8"/></g>
<text x="94.4" y="344.2" text-anchor="middle" font-size="11.0" fill="#111">b</text>
<path d="M120.4 334V338.4M120.4 349.5V357M116 334H124.8M116 357H124.8" stroke="#52c8a8" stroke-width="0.65" fill="none"/>
<rect x="111.8" y="338.4" width="17.2" height="11.1" fill="#f8f996" stroke="#b8e29a" stroke-width="0.7"/>
<path d="M111.8 341.1H129" stroke="#8cd07c" stroke-width="0.7"/>
<g fill="#0e9452" fill-opacity="0.75"><circle cx="120.62" cy="335.15" r="0.82"/><circle cx="121.81" cy="338.46" r="0.82"/><circle cx="120.41" cy="346.37" r="0.82"/><circle cx="119.36" cy="354.71" r="0.82"/><circle cx="120.61" cy="336.51" r="0.82"/><circle cx="120.59" cy="340.51" r="0.82"/><circle cx="121.62" cy="346.97" r="0.82"/><circle cx="119.55" cy="352.37" r="0.82"/><circle cx="121.09" cy="334.85" r="0.82"/><circle cx="122.42" cy="340.26" r="0.82"/><circle cx="121.47" cy="343.23" r="0.82"/><circle cx="121.5" cy="352.72" r="0.82"/><circle cx="120.75" cy="334.7" r="0.82"/><circle cx="121" cy="340.14" r="0.82"/><circle cx="122.28" cy="348.51" r="0.82"/><circle cx="122.05" cy="349.72" r="0.82"/><circle cx="120.44" cy="337.92" r="0.82"/><circle cx="121.29" cy="339.35" r="0.82"/><circle cx="119.04" cy="346.1" r="0.82"/><circle cx="120.62" cy="350.19" r="0.82"/><circle cx="120.04" cy="338.28" r="0.82"/><circle cx="121.26" cy="340.34" r="0.82"/><circle cx="121.35" cy="345.03" r="0.82"/><circle cx="122.71" cy="350.1" r="0.82"/><circle cx="121.83" cy="334.19" r="0.82"/><circle cx="119.82" cy="338.45" r="0.82"/><circle cx="122.02" cy="346.86" r="0.82"/><circle cx="121.76" cy="355.91" r="0.82"/><circle cx="120.71" cy="335.59" r="0.82"/><circle cx="121.21" cy="339.66" r="0.82"/><circle cx="122.26" cy="343.11" r="0.82"/><circle cx="121.87" cy="353.48" r="0.82"/><circle cx="121.26" cy="338.11" r="0.82"/><circle cx="120.4" cy="340.97" r="0.82"/><circle cx="120.65" cy="334" r="0.82"/><circle cx="121.68" cy="357" r="0.82"/></g>
<path d="M118.6 429.4H122.6M120.6 427.4V431.4" stroke="#d4d4d4" stroke-width="0.5"/>
<g fill="#3a7868" fill-opacity="0.9"><circle cx="119.93" cy="387.4" r="0.8"/><circle cx="120.14" cy="429.4" r="0.8"/></g>
<text x="120.8" y="331.15" text-anchor="middle" font-size="11.0" fill="#111">a</text>
<rect x="161.5" y="319.6" width="105.9" height="134.6" fill="none" stroke="#8a8a8a" stroke-width="1.15"/>
<text x="158.5" y="443.9" text-anchor="end" font-size="8.2" fill="#222">0</text>
<text x="158.5" y="416.88" text-anchor="end" font-size="8.2" fill="#222">20</text>
<text x="158.5" y="389.85" text-anchor="end" font-size="8.2" fill="#222">40</text>
<text x="158.5" y="362.83" text-anchor="end" font-size="8.2" fill="#222">60</text>
<text x="158.5" y="335.8" text-anchor="end" font-size="8.2" fill="#222">80</text>
<path d="M159.3 440.8H161.5M159.3 413.77H161.5M159.3 386.75H161.5M159.3 359.73H161.5M159.3 332.7H161.5M160.3 427.29H161.5M160.3 400.26H161.5M160.3 373.24H161.5M160.3 346.21H161.5M174.74 454.2V456.2M201.21 454.2V456.2M227.69 454.2V456.2M254.16 454.2V456.2" stroke="#7d7d7d" stroke-width="0.9" fill="none"/>
<text x="174.74" y="464.2" text-anchor="middle" font-size="8.3" fill="#222">Apr.</text>
<text x="201.21" y="464.2" text-anchor="middle" font-size="8.3" fill="#222">Jul.</text>
<text x="227.69" y="464.2" text-anchor="middle" font-size="8.3" fill="#222">Oct.</text>
<text x="254.16" y="464.2" text-anchor="middle" font-size="8.3" fill="#222">Jan.</text>
<text transform="translate(144.5 386.9) rotate(-90)" text-anchor="middle" font-size="8.5" fill="#222">NO<tspan dy="1.6" font-size="5.6">3</tspan><tspan dx="-1.2" dy="-4.6" font-size="5.6">-</tspan><tspan dy="3.0"> (mg·kg</tspan><tspan dy="-3.2" font-size="5.6">-1</tspan><tspan dy="3.2">)</tspan></text>
<path d="M174.74 430.2V434M174.74 437.4V439.3M170.34 430.2H179.14M170.34 439.3H179.14" stroke="#96a4f0" stroke-width="0.65" fill="none"/>
<rect x="166.14" y="434" width="17.2" height="3.4" fill="#bac4f8" stroke="#8794e8" stroke-width="0.7"/>
<path d="M166.14 435.8H183.34" stroke="#8794e8" stroke-width="0.7"/>
<g fill="#4456d8" fill-opacity="0.7"><circle cx="174.98" cy="431.63" r="0.82"/><circle cx="174.43" cy="434.93" r="0.82"/><circle cx="173.4" cy="436.03" r="0.82"/><circle cx="174.01" cy="438.51" r="0.82"/><circle cx="174.9" cy="432.47" r="0.82"/><circle cx="175.47" cy="434.45" r="0.82"/><circle cx="175.09" cy="436.2" r="0.82"/><circle cx="174.29" cy="438.36" r="0.82"/><circle cx="173.95" cy="430.25" r="0.82"/><circle cx="176.16" cy="434.63" r="0.82"/><circle cx="175.19" cy="436.16" r="0.82"/><circle cx="175.38" cy="438.38" r="0.82"/><circle cx="172.91" cy="431.83" r="0.82"/><circle cx="175.53" cy="435.21" r="0.82"/><circle cx="174.21" cy="436.48" r="0.82"/><circle cx="173.09" cy="438.8" r="0.82"/><circle cx="174.72" cy="433.42" r="0.82"/><circle cx="173.91" cy="435.51" r="0.82"/><circle cx="176.09" cy="437.27" r="0.82"/><circle cx="175.86" cy="439.2" r="0.82"/><circle cx="174.58" cy="432.53" r="0.82"/><circle cx="175.21" cy="434.4" r="0.82"/><circle cx="174.11" cy="436.88" r="0.82"/><circle cx="175.91" cy="437.41" r="0.82"/><circle cx="174.13" cy="431.55" r="0.82"/><circle cx="173.85" cy="434.52" r="0.82"/><circle cx="176.12" cy="437.2" r="0.82"/><circle cx="173.92" cy="437.42" r="0.82"/><circle cx="175.18" cy="430.56" r="0.82"/><circle cx="174.93" cy="434.78" r="0.82"/><circle cx="175.99" cy="436.3" r="0.82"/><circle cx="174.61" cy="438.25" r="0.82"/><circle cx="174.26" cy="430.24" r="0.82"/><circle cx="176.08" cy="435.55" r="0.82"/><circle cx="176.35" cy="430.2" r="0.82"/><circle cx="174.1" cy="439.3" r="0.82"/></g>
<path d="M172.94 410H176.94M174.94 408V412" stroke="#d4d4d4" stroke-width="0.5"/>
<g fill="#4c5290" fill-opacity="0.9"><circle cx="174.72" cy="423.2" r="0.8"/><circle cx="175.82" cy="410" r="0.8"/></g>
<text x="175.14" y="418.35" text-anchor="middle" font-size="11.0" fill="#111">c</text>
<path d="M201.21 388.3V392.4M201.21 417.7V431.3M196.81 388.3H205.61M196.81 431.3H205.61" stroke="#f4aaae" stroke-width="0.65" fill="none"/>
<rect x="192.61" y="392.4" width="17.2" height="25.3" fill="#fabdc0" stroke="#f2a2a6" stroke-width="0.7"/>
<path d="M192.61 401.2H209.81" stroke="#ee9a9e" stroke-width="0.7"/>
<g fill="#d8505e" fill-opacity="0.6"><circle cx="200.99" cy="391.47" r="0.82"/><circle cx="202.72" cy="399.27" r="0.82"/><circle cx="201.23" cy="407.85" r="0.82"/><circle cx="202.16" cy="418.9" r="0.82"/><circle cx="202.9" cy="391" r="0.82"/><circle cx="200.19" cy="400.44" r="0.82"/><circle cx="202.18" cy="415.91" r="0.82"/><circle cx="201.19" cy="423.71" r="0.82"/><circle cx="201.89" cy="392.03" r="0.82"/><circle cx="200.47" cy="401.18" r="0.82"/><circle cx="201.26" cy="407.69" r="0.82"/><circle cx="202.23" cy="420.45" r="0.82"/><circle cx="202.3" cy="391.81" r="0.82"/><circle cx="200.92" cy="394.56" r="0.82"/><circle cx="202.8" cy="401.8" r="0.82"/><circle cx="200.55" cy="420.99" r="0.82"/><circle cx="202.89" cy="391.37" r="0.82"/><circle cx="202.24" cy="400.19" r="0.82"/><circle cx="201.41" cy="412.99" r="0.82"/><circle cx="200.45" cy="423.09" r="0.82"/><circle cx="201.11" cy="388.56" r="0.82"/><circle cx="201.82" cy="394.23" r="0.82"/><circle cx="202.75" cy="409.83" r="0.82"/><circle cx="201.85" cy="430.74" r="0.82"/><circle cx="202.34" cy="392.39" r="0.82"/><circle cx="203.48" cy="393.92" r="0.82"/><circle cx="201.2" cy="403.66" r="0.82"/><circle cx="201.41" cy="418.66" r="0.82"/><circle cx="199.78" cy="391" r="0.82"/><circle cx="200.55" cy="397.85" r="0.82"/><circle cx="202.22" cy="417.46" r="0.82"/><circle cx="202.97" cy="420.72" r="0.82"/><circle cx="200.68" cy="388.61" r="0.82"/><circle cx="200.22" cy="394.13" r="0.82"/><circle cx="202.02" cy="388.3" r="0.82"/><circle cx="202.22" cy="431.3" r="0.82"/></g>
<text x="201.61" y="385.05" text-anchor="middle" font-size="11.0" fill="#111">a</text>
<path d="M227.69 409.5V418.8M227.69 429.8V437.1M223.29 409.5H232.09M223.29 437.1H232.09" stroke="#6aa8f2" stroke-width="0.65" fill="none"/>
<rect x="219.09" y="418.8" width="17.2" height="11" fill="#cdbbe3" stroke="#98a2e8" stroke-width="0.7"/>
<path d="M219.09 424.5H236.29" stroke="#8e98e4" stroke-width="0.7"/>
<g fill="#1f56d8" fill-opacity="0.75"><circle cx="226.75" cy="412.46" r="0.82"/><circle cx="228.41" cy="421.09" r="0.82"/><circle cx="227.01" cy="426.24" r="0.82"/><circle cx="228" cy="432.01" r="0.82"/><circle cx="227.75" cy="411.05" r="0.82"/><circle cx="228.62" cy="423.09" r="0.82"/><circle cx="228.33" cy="427.05" r="0.82"/><circle cx="228.91" cy="431.53" r="0.82"/><circle cx="229.93" cy="416.24" r="0.82"/><circle cx="226.99" cy="420.5" r="0.82"/><circle cx="226.61" cy="427.25" r="0.82"/><circle cx="227.38" cy="429.81" r="0.82"/><circle cx="229.13" cy="410.35" r="0.82"/><circle cx="227.94" cy="420.07" r="0.82"/><circle cx="229.25" cy="425.83" r="0.82"/><circle cx="228.26" cy="435.77" r="0.82"/><circle cx="227.74" cy="418.58" r="0.82"/><circle cx="228.38" cy="421.58" r="0.82"/><circle cx="229.88" cy="425.7" r="0.82"/><circle cx="227.13" cy="430.34" r="0.82"/><circle cx="227.23" cy="417.98" r="0.82"/><circle cx="228.91" cy="419.88" r="0.82"/><circle cx="227.74" cy="426.55" r="0.82"/><circle cx="229.23" cy="435.63" r="0.82"/><circle cx="229.27" cy="410.33" r="0.82"/><circle cx="227.7" cy="422.55" r="0.82"/><circle cx="228.39" cy="426.11" r="0.82"/><circle cx="227.71" cy="431.24" r="0.82"/><circle cx="227.66" cy="417.61" r="0.82"/><circle cx="226.77" cy="420.8" r="0.82"/><circle cx="227.84" cy="428.8" r="0.82"/><circle cx="227.81" cy="431.2" r="0.82"/><circle cx="226.29" cy="412.5" r="0.82"/><circle cx="230.03" cy="421.63" r="0.82"/><circle cx="228.34" cy="409.5" r="0.82"/><circle cx="228.24" cy="437.1" r="0.82"/></g>
<path d="M225.89 395.8H229.89M227.89 393.8V397.8" stroke="#d4d4d4" stroke-width="0.5"/>
<g fill="#3c5a98" fill-opacity="0.9"><circle cx="228.63" cy="400.7" r="0.8"/><circle cx="227.28" cy="395.8" r="0.8"/></g>
<text x="228.09" y="391.6" text-anchor="middle" font-size="11.0" fill="#111">b</text>
<path d="M254.16 394.5V414.7M254.16 434.3V438.8M249.76 394.5H258.56M249.76 438.8H258.56" stroke="#52c8a8" stroke-width="0.65" fill="none"/>
<rect x="245.56" y="414.7" width="17.2" height="19.6" fill="#f8f996" stroke="#b8e29a" stroke-width="0.7"/>
<path d="M245.56 429.7H262.76" stroke="#8cd07c" stroke-width="0.7"/>
<g fill="#0e9452" fill-opacity="0.75"><circle cx="253.28" cy="399.94" r="0.82"/><circle cx="252.33" cy="420.27" r="0.82"/><circle cx="254.77" cy="430.83" r="0.82"/><circle cx="255.92" cy="438.33" r="0.82"/><circle cx="254.53" cy="409.34" r="0.82"/><circle cx="253.09" cy="423.99" r="0.82"/><circle cx="254.43" cy="431.5" r="0.82"/><circle cx="255.69" cy="437.97" r="0.82"/><circle cx="256.14" cy="399.48" r="0.82"/><circle cx="256.39" cy="428.26" r="0.82"/><circle cx="253.42" cy="432.3" r="0.82"/><circle cx="254.41" cy="437.73" r="0.82"/><circle cx="255.6" cy="408.37" r="0.82"/><circle cx="254.83" cy="429.68" r="0.82"/><circle cx="254.61" cy="432.43" r="0.82"/><circle cx="253.23" cy="434.54" r="0.82"/><circle cx="254.52" cy="406.61" r="0.82"/><circle cx="254.64" cy="425.56" r="0.82"/><circle cx="253.38" cy="430.9" r="0.82"/><circle cx="254.07" cy="437.37" r="0.82"/><circle cx="255.56" cy="403.07" r="0.82"/><circle cx="255.05" cy="425.75" r="0.82"/><circle cx="254.77" cy="432.38" r="0.82"/><circle cx="253.26" cy="435.77" r="0.82"/><circle cx="254.79" cy="405.77" r="0.82"/><circle cx="252.91" cy="421.67" r="0.82"/><circle cx="254.56" cy="432.23" r="0.82"/><circle cx="254.06" cy="435.67" r="0.82"/><circle cx="252.87" cy="412.34" r="0.82"/><circle cx="254.97" cy="419.84" r="0.82"/><circle cx="254.66" cy="432.2" r="0.82"/><circle cx="255.34" cy="434.75" r="0.82"/><circle cx="254.88" cy="405.98" r="0.82"/><circle cx="254.09" cy="415.31" r="0.82"/><circle cx="254.37" cy="394.5" r="0.82"/><circle cx="253.15" cy="438.8" r="0.82"/></g>
<path d="M252.36 333.3H256.36M254.36 331.3V335.3" stroke="#d4d4d4" stroke-width="0.5"/>
<g fill="#3a7868" fill-opacity="0.9"><circle cx="254.55" cy="377.5" r="0.8"/><circle cx="253.81" cy="369.8" r="0.8"/><circle cx="255.05" cy="333.3" r="0.8"/></g>
<text x="254.56" y="390.6" text-anchor="middle" font-size="11.0" fill="#111">b</text>
<rect x="299.2" y="319.6" width="105.8" height="134.6" fill="none" stroke="#8a8a8a" stroke-width="1.15"/>
<text x="296.2" y="449.4" text-anchor="end" font-size="8.2" fill="#222">0</text>
<text x="296.2" y="433.56" text-anchor="end" font-size="8.2" fill="#222">20</text>
<text x="296.2" y="417.72" text-anchor="end" font-size="8.2" fill="#222">40</text>
<text x="296.2" y="401.89" text-anchor="end" font-size="8.2" fill="#222">60</text>
<text x="296.2" y="386.05" text-anchor="end" font-size="8.2" fill="#222">80</text>
<text x="296.2" y="370.21" text-anchor="end" font-size="8.2" fill="#222">100</text>
<text x="296.2" y="354.37" text-anchor="end" font-size="8.2" fill="#222">120</text>
<text x="296.2" y="338.53" text-anchor="end" font-size="8.2" fill="#222">140</text>
<text x="296.2" y="322.7" text-anchor="end" font-size="8.2" fill="#222">160</text>
<path d="M297 446.3H299.2M297 430.46H299.2M297 414.62H299.2M297 398.79H299.2M297 382.95H299.2M297 367.11H299.2M297 351.27H299.2M297 335.43H299.2M297 319.6H299.2M298 438.38H299.2M298 422.54H299.2M298 406.71H299.2M298 390.87H299.2M298 375.03H299.2M298 359.19H299.2M298 343.35H299.2M298 327.51H299.2M312.43 454.2V456.2M338.88 454.2V456.2M365.32 454.2V456.2M391.77 454.2V456.2" stroke="#7d7d7d" stroke-width="0.9" fill="none"/>
<text x="312.43" y="464.2" text-anchor="middle" font-size="8.3" fill="#222">Apr.</text>
<text x="338.88" y="464.2" text-anchor="middle" font-size="8.3" fill="#222">Jul.</text>
<text x="365.32" y="464.2" text-anchor="middle" font-size="8.3" fill="#222">Oct.</text>
<text x="391.77" y="464.2" text-anchor="middle" font-size="8.3" fill="#222">Jan.</text>
<text transform="translate(277.5 386.35) rotate(-90)" text-anchor="middle" font-size="8.5" fill="#222">NH<tspan dy="1.6" font-size="5.6">4</tspan><tspan dx="-1.2" dy="-4.6" font-size="5.6">+</tspan><tspan dy="3.0"> (mg·kg</tspan><tspan dy="-3.2" font-size="5.6">-1</tspan><tspan dy="3.2">)</tspan></text>
<path d="M312.43 339.3V364.3M312.43 381.5V395.8M308.03 339.3H316.82M308.03 395.8H316.82" stroke="#96a4f0" stroke-width="0.65" fill="none"/>
<rect x="303.82" y="364.3" width="17.2" height="17.2" fill="#bac4f8" stroke="#8794e8" stroke-width="0.7"/>
<path d="M303.82 374.2H321.03" stroke="#8794e8" stroke-width="0.7"/>
<g fill="#4456d8" fill-opacity="0.7"><circle cx="313.39" cy="348.98" r="0.82"/><circle cx="312.93" cy="371.51" r="0.82"/><circle cx="312.66" cy="375.62" r="0.82"/><circle cx="313.21" cy="386.12" r="0.82"/><circle cx="310.94" cy="362.35" r="0.82"/><circle cx="313.09" cy="371.28" r="0.82"/><circle cx="312.3" cy="374.2" r="0.82"/><circle cx="312.81" cy="391.87" r="0.82"/><circle cx="313.84" cy="340.08" r="0.82"/><circle cx="313.3" cy="372.43" r="0.82"/><circle cx="311.9" cy="379.28" r="0.82"/><circle cx="311.07" cy="388.29" r="0.82"/><circle cx="312.11" cy="356.64" r="0.82"/><circle cx="313.34" cy="369.89" r="0.82"/><circle cx="313.66" cy="377.9" r="0.82"/><circle cx="311.53" cy="384.66" r="0.82"/><circle cx="311.55" cy="354.29" r="0.82"/><circle cx="313.76" cy="365.58" r="0.82"/><circle cx="312.25" cy="374.73" r="0.82"/><circle cx="311.1" cy="383.82" r="0.82"/><circle cx="313.6" cy="340.7" r="0.82"/><circle cx="312.58" cy="370.4" r="0.82"/><circle cx="314" cy="380.92" r="0.82"/><circle cx="312.04" cy="390.2" r="0.82"/><circle cx="313.84" cy="347.39" r="0.82"/><circle cx="313.59" cy="369.29" r="0.82"/><circle cx="313.13" cy="378.67" r="0.82"/><circle cx="313.01" cy="381.57" r="0.82"/><circle cx="311.74" cy="363.54" r="0.82"/><circle cx="313.67" cy="364.45" r="0.82"/><circle cx="313.62" cy="377.39" r="0.82"/><circle cx="313.45" cy="381.61" r="0.82"/><circle cx="313.86" cy="362.65" r="0.82"/><circle cx="313.72" cy="365.31" r="0.82"/><circle cx="312.88" cy="339.3" r="0.82"/><circle cx="313.18" cy="395.8" r="0.82"/></g>
<text x="312.82" y="328.95" text-anchor="middle" font-size="11.0" fill="#111">a</text>
<path d="M338.88 381.9V394.1M338.88 409.5V422.3M334.48 381.9H343.27M334.48 422.3H343.27" stroke="#f4aaae" stroke-width="0.65" fill="none"/>
<rect x="330.27" y="394.1" width="17.2" height="15.4" fill="#fabdc0" stroke="#f2a2a6" stroke-width="0.7"/>
<path d="M330.27 399.6H347.48" stroke="#ee9a9e" stroke-width="0.7"/>
<g fill="#d8505e" fill-opacity="0.6"><circle cx="337.76" cy="393.93" r="0.82"/><circle cx="339.71" cy="397.66" r="0.82"/><circle cx="338.98" cy="405.78" r="0.82"/><circle cx="338.72" cy="420.34" r="0.82"/><circle cx="339.61" cy="384.32" r="0.82"/><circle cx="339.71" cy="397.71" r="0.82"/><circle cx="340.99" cy="405.24" r="0.82"/><circle cx="337" cy="417.72" r="0.82"/><circle cx="338.18" cy="392.95" r="0.82"/><circle cx="339.47" cy="394.2" r="0.82"/><circle cx="338.81" cy="406.39" r="0.82"/><circle cx="340.47" cy="412.65" r="0.82"/><circle cx="338.4" cy="390.95" r="0.82"/><circle cx="339.43" cy="394.94" r="0.82"/><circle cx="338.96" cy="401.54" r="0.82"/><circle cx="338.18" cy="414.87" r="0.82"/><circle cx="339.46" cy="390.89" r="0.82"/><circle cx="338.87" cy="399.35" r="0.82"/><circle cx="338.78" cy="405.09" r="0.82"/><circle cx="338.91" cy="411.68" r="0.82"/><circle cx="337.82" cy="391.71" r="0.82"/><circle cx="340.06" cy="394.21" r="0.82"/><circle cx="340.08" cy="407.51" r="0.82"/><circle cx="338.51" cy="409.5" r="0.82"/><circle cx="340.87" cy="386.21" r="0.82"/><circle cx="338.88" cy="394.46" r="0.82"/><circle cx="340.83" cy="400.99" r="0.82"/><circle cx="337.52" cy="411.13" r="0.82"/><circle cx="340.25" cy="392.23" r="0.82"/><circle cx="340.94" cy="394.79" r="0.82"/><circle cx="339.12" cy="403.61" r="0.82"/><circle cx="338.99" cy="409.7" r="0.82"/><circle cx="340.47" cy="393.91" r="0.82"/><circle cx="339.36" cy="394.6" r="0.82"/><circle cx="339.81" cy="381.9" r="0.82"/><circle cx="341.53" cy="422.3" r="0.82"/></g>
<path d="M337.07 353.2H341.07M339.07 351.2V355.2" stroke="#d4d4d4" stroke-width="0.5"/>
<g fill="#8c4a58" fill-opacity="0.9"><circle cx="339.3" cy="353.2" r="0.8"/><circle cx="339.18" cy="359.2" r="0.8"/></g>
<text x="339.27" y="377.3" text-anchor="middle" font-size="11.0" fill="#111">b</text>
<path d="M365.32 386.3V404M365.32 417.2V434.9M360.93 386.3H369.72M360.93 434.9H369.72" stroke="#6aa8f2" stroke-width="0.65" fill="none"/>
<rect x="356.72" y="404" width="17.2" height="13.2" fill="#cdbbe3" stroke="#98a2e8" stroke-width="0.7"/>
<path d="M356.72 411.3H373.93" stroke="#8e98e4" stroke-width="0.7"/>
<g fill="#1f56d8" fill-opacity="0.75"><circle cx="366.43" cy="394.56" r="0.82"/><circle cx="365.76" cy="407.73" r="0.82"/><circle cx="365.29" cy="413.93" r="0.82"/><circle cx="365.27" cy="418.64" r="0.82"/><circle cx="366.2" cy="402.76" r="0.82"/><circle cx="366.27" cy="407.95" r="0.82"/><circle cx="367" cy="413.72" r="0.82"/><circle cx="366.3" cy="423.75" r="0.82"/><circle cx="366.85" cy="392.82" r="0.82"/><circle cx="363.61" cy="405.21" r="0.82"/><circle cx="365.99" cy="412.87" r="0.82"/><circle cx="366.05" cy="429.54" r="0.82"/><circle cx="365.14" cy="400.99" r="0.82"/><circle cx="364.38" cy="406.58" r="0.82"/><circle cx="365.7" cy="416.62" r="0.82"/><circle cx="365.1" cy="417.23" r="0.82"/><circle cx="365.91" cy="400.05" r="0.82"/><circle cx="364.39" cy="405.28" r="0.82"/><circle cx="364.64" cy="417.09" r="0.82"/><circle cx="365.3" cy="433.21" r="0.82"/><circle cx="366.91" cy="388.78" r="0.82"/><circle cx="366.9" cy="407.72" r="0.82"/><circle cx="366.36" cy="414.66" r="0.82"/><circle cx="366.25" cy="425.54" r="0.82"/><circle cx="365.42" cy="393" r="0.82"/><circle cx="366.87" cy="409.77" r="0.82"/><circle cx="365.61" cy="416.41" r="0.82"/><circle cx="364.85" cy="425.52" r="0.82"/><circle cx="364.74" cy="403.69" r="0.82"/><circle cx="366.73" cy="409.21" r="0.82"/><circle cx="367.07" cy="413.77" r="0.82"/><circle cx="364.86" cy="423.72" r="0.82"/><circle cx="364.23" cy="392.4" r="0.82"/><circle cx="367.76" cy="410.69" r="0.82"/><circle cx="364.72" cy="386.3" r="0.82"/><circle cx="363.83" cy="434.9" r="0.82"/></g>
<path d="M363.52 445.9H367.52M365.52 443.9V447.9" stroke="#d4d4d4" stroke-width="0.5"/>
<g fill="#3c5a98" fill-opacity="0.9"><circle cx="365.17" cy="445.9" r="0.8"/></g>
<text x="365.72" y="379.65" text-anchor="middle" font-size="11.0" fill="#111">c</text>
<path d="M391.77 363.6V390.3M391.77 408.4V420.1M387.38 363.6H396.17M387.38 420.1H396.17" stroke="#52c8a8" stroke-width="0.65" fill="none"/>
<rect x="383.17" y="390.3" width="17.2" height="18.1" fill="#f8f996" stroke="#b8e29a" stroke-width="0.7"/>
<path d="M383.17 397.4H400.38" stroke="#8cd07c" stroke-width="0.7"/>
<g fill="#0e9452" fill-opacity="0.75"><circle cx="392.52" cy="369.42" r="0.82"/><circle cx="391.77" cy="392.74" r="0.82"/><circle cx="392.68" cy="406.94" r="0.82"/><circle cx="392.29" cy="418.94" r="0.82"/><circle cx="392.43" cy="363.92" r="0.82"/><circle cx="391.8" cy="392.56" r="0.82"/><circle cx="392.1" cy="405.8" r="0.82"/><circle cx="393.5" cy="414.91" r="0.82"/><circle cx="391.08" cy="388.71" r="0.82"/><circle cx="391.64" cy="395.84" r="0.82"/><circle cx="392.41" cy="404.26" r="0.82"/><circle cx="390.6" cy="408.81" r="0.82"/><circle cx="392.83" cy="383.04" r="0.82"/><circle cx="390.81" cy="392.4" r="0.82"/><circle cx="390.92" cy="402.7" r="0.82"/><circle cx="391.35" cy="409.68" r="0.82"/><circle cx="392.64" cy="388.13" r="0.82"/><circle cx="393.23" cy="390.37" r="0.82"/><circle cx="392.09" cy="404.61" r="0.82"/><circle cx="393.14" cy="410.28" r="0.82"/><circle cx="391.46" cy="385.75" r="0.82"/><circle cx="392.41" cy="394.82" r="0.82"/><circle cx="393" cy="405.34" r="0.82"/><circle cx="390.91" cy="411.5" r="0.82"/><circle cx="390.87" cy="364.78" r="0.82"/><circle cx="394.15" cy="391.38" r="0.82"/><circle cx="392.09" cy="399.97" r="0.82"/><circle cx="390.43" cy="416.59" r="0.82"/><circle cx="391.29" cy="383.24" r="0.82"/><circle cx="393.12" cy="391.36" r="0.82"/><circle cx="392.04" cy="406.08" r="0.82"/><circle cx="391.73" cy="408.66" r="0.82"/><circle cx="392.27" cy="368.48" r="0.82"/><circle cx="393.07" cy="392.62" r="0.82"/><circle cx="391.05" cy="363.6" r="0.82"/><circle cx="392.19" cy="420.1" r="0.82"/></g>
<path d="M389.97 329.6H393.97M391.97 327.6V331.6" stroke="#d4d4d4" stroke-width="0.5"/>
<g fill="#3a7868" fill-opacity="0.9"><circle cx="392.19" cy="329.6" r="0.8"/><circle cx="392.02" cy="337.8" r="0.8"/></g>
<text x="392.17" y="357.4" text-anchor="middle" font-size="11.0" fill="#111">b</text>
<rect x="440.75" y="319.6" width="105.75" height="134.6" fill="none" stroke="#8a8a8a" stroke-width="1.15"/>
<text x="437.75" y="446.3" text-anchor="end" font-size="8.2" fill="#222">500</text>
<text x="437.75" y="423.76" text-anchor="end" font-size="8.2" fill="#222">1000</text>
<text x="437.75" y="401.22" text-anchor="end" font-size="8.2" fill="#222">1500</text>
<text x="437.75" y="378.68" text-anchor="end" font-size="8.2" fill="#222">2000</text>
<text x="437.75" y="356.14" text-anchor="end" font-size="8.2" fill="#222">2500</text>
<text x="437.75" y="333.6" text-anchor="end" font-size="8.2" fill="#222">3000</text>
<path d="M438.55 443.2H440.75M438.55 420.66H440.75M438.55 398.12H440.75M438.55 375.58H440.75M438.55 353.04H440.75M438.55 330.5H440.75M439.55 431.93H440.75M439.55 409.39H440.75M439.55 386.85H440.75M439.55 364.31H440.75M439.55 341.77H440.75M453.97 454.2V456.2M480.41 454.2V456.2M506.84 454.2V456.2M533.28 454.2V456.2" stroke="#7d7d7d" stroke-width="0.9" fill="none"/>
<text x="453.97" y="464.2" text-anchor="middle" font-size="8.3" fill="#222">Apr.</text>
<text x="480.41" y="464.2" text-anchor="middle" font-size="8.3" fill="#222">Jul.</text>
<text x="506.84" y="464.2" text-anchor="middle" font-size="8.3" fill="#222">Oct.</text>
<text x="533.28" y="464.2" text-anchor="middle" font-size="8.3" fill="#222">Jan.</text>
<text transform="translate(415.7 386.45) rotate(-90)" text-anchor="middle" font-size="8.5" fill="#222">TP (mg·kg<tspan dy="-3.2" font-size="5.6">-1</tspan><tspan dy="3.2">)</tspan></text>
<path d="M453.97 388.5V413.5M453.97 435.6V443.7M449.57 388.5H458.37M449.57 443.7H458.37" stroke="#96a4f0" stroke-width="0.65" fill="none"/>
<rect x="445.37" y="413.5" width="17.2" height="22.1" fill="#bac4f8" stroke="#8794e8" stroke-width="0.7"/>
<path d="M445.37 431.1H462.57" stroke="#8794e8" stroke-width="0.7"/>
<g fill="#4456d8" fill-opacity="0.7"><circle cx="454.38" cy="390.81" r="0.82"/><circle cx="455.13" cy="416.83" r="0.82"/><circle cx="454.08" cy="434.03" r="0.82"/><circle cx="455.57" cy="436.13" r="0.82"/><circle cx="453.21" cy="405.89" r="0.82"/><circle cx="453.63" cy="419.8" r="0.82"/><circle cx="453.4" cy="431.92" r="0.82"/><circle cx="455.29" cy="440.77" r="0.82"/><circle cx="454.75" cy="406.25" r="0.82"/><circle cx="453.64" cy="426.28" r="0.82"/><circle cx="452.89" cy="435.05" r="0.82"/><circle cx="453.57" cy="435.93" r="0.82"/><circle cx="454.12" cy="391.17" r="0.82"/><circle cx="454.39" cy="430.44" r="0.82"/><circle cx="455.16" cy="433.14" r="0.82"/><circle cx="453.84" cy="435.65" r="0.82"/><circle cx="453.27" cy="410.21" r="0.82"/><circle cx="454.04" cy="415.34" r="0.82"/><circle cx="453.36" cy="431.87" r="0.82"/><circle cx="452.96" cy="436.77" r="0.82"/><circle cx="454.79" cy="403.12" r="0.82"/><circle cx="454.21" cy="415.19" r="0.82"/><circle cx="454.45" cy="435.34" r="0.82"/><circle cx="453.95" cy="438.19" r="0.82"/><circle cx="453.67" cy="410.3" r="0.82"/><circle cx="454.3" cy="413.88" r="0.82"/><circle cx="455.55" cy="433.74" r="0.82"/><circle cx="453.62" cy="441.45" r="0.82"/><circle cx="454" cy="393.69" r="0.82"/><circle cx="453.81" cy="424.4" r="0.82"/><circle cx="453.82" cy="433.55" r="0.82"/><circle cx="456.24" cy="435.62" r="0.82"/><circle cx="454.25" cy="407.32" r="0.82"/><circle cx="452.71" cy="430.9" r="0.82"/><circle cx="453.59" cy="388.5" r="0.82"/><circle cx="453.63" cy="443.7" r="0.82"/></g>
<path d="M452.17 374.2H456.17M454.17 372.2V376.2" stroke="#d4d4d4" stroke-width="0.5"/>
<g fill="#4c5290" fill-opacity="0.9"><circle cx="453.98" cy="374.2" r="0.8"/></g>
<text x="454.37" y="383.9" text-anchor="middle" font-size="11.0" fill="#111">ab</text>
<path d="M480.41 395.2V418.3M480.41 433.3V442.2M476.01 395.2H484.81M476.01 442.2H484.81" stroke="#f4aaae" stroke-width="0.65" fill="none"/>
<rect x="471.81" y="418.3" width="17.2" height="15" fill="#fabdc0" stroke="#f2a2a6" stroke-width="0.7"/>
<path d="M471.81 425.4H489.01" stroke="#ee9a9e" stroke-width="0.7"/>
<g fill="#d8505e" fill-opacity="0.6"><circle cx="480.67" cy="415.81" r="0.82"/><circle cx="481.68" cy="423.65" r="0.82"/><circle cx="481.22" cy="427.28" r="0.82"/><circle cx="481.64" cy="437.73" r="0.82"/><circle cx="482.73" cy="407.82" r="0.82"/><circle cx="481.47" cy="424.79" r="0.82"/><circle cx="480.56" cy="426.86" r="0.82"/><circle cx="481.51" cy="433.65" r="0.82"/><circle cx="480.86" cy="403.57" r="0.82"/><circle cx="481.01" cy="420.87" r="0.82"/><circle cx="482.26" cy="431.61" r="0.82"/><circle cx="482.01" cy="434.75" r="0.82"/><circle cx="481.78" cy="417.67" r="0.82"/><circle cx="481.91" cy="424.78" r="0.82"/><circle cx="480.79" cy="431.39" r="0.82"/><circle cx="482.24" cy="441.92" r="0.82"/><circle cx="479.34" cy="395.44" r="0.82"/><circle cx="480.76" cy="419.62" r="0.82"/><circle cx="481.19" cy="425.91" r="0.82"/><circle cx="479.14" cy="434.33" r="0.82"/><circle cx="480.95" cy="415.13" r="0.82"/><circle cx="479.58" cy="423.87" r="0.82"/><circle cx="480.63" cy="430.88" r="0.82"/><circle cx="481.03" cy="434.24" r="0.82"/><circle cx="482.51" cy="405.25" r="0.82"/><circle cx="480.32" cy="420.95" r="0.82"/><circle cx="481.18" cy="432.88" r="0.82"/><circle cx="482.32" cy="440.19" r="0.82"/><circle cx="480.37" cy="417.43" r="0.82"/><circle cx="481.09" cy="422.22" r="0.82"/><circle cx="480.06" cy="426.71" r="0.82"/><circle cx="480.46" cy="440.51" r="0.82"/><circle cx="480.06" cy="396.37" r="0.82"/><circle cx="479.83" cy="423.52" r="0.82"/><circle cx="479.89" cy="395.2" r="0.82"/><circle cx="479.23" cy="442.2" r="0.82"/></g>
<path d="M478.61 368H482.61M480.61 366V370" stroke="#d4d4d4" stroke-width="0.5"/>
<g fill="#8c4a58" fill-opacity="0.9"><circle cx="480.88" cy="385.2" r="0.8"/><circle cx="480.57" cy="368" r="0.8"/></g>
<text x="480.81" y="378.4" text-anchor="middle" font-size="11.0" fill="#111">ab</text>
<path d="M506.84 376.4V411.3M506.84 434.2V442.2M502.44 376.4H511.24M502.44 442.2H511.24" stroke="#6aa8f2" stroke-width="0.65" fill="none"/>
<rect x="498.24" y="411.3" width="17.2" height="22.9" fill="#cdbbe3" stroke="#98a2e8" stroke-width="0.7"/>
<path d="M498.24 428.3H515.44" stroke="#8e98e4" stroke-width="0.7"/>
<g fill="#1f56d8" fill-opacity="0.75"><circle cx="506.09" cy="404.96" r="0.82"/><circle cx="508.64" cy="415.54" r="0.82"/><circle cx="506.35" cy="430.86" r="0.82"/><circle cx="505.16" cy="439.33" r="0.82"/><circle cx="507.1" cy="378.16" r="0.82"/><circle cx="507.68" cy="420" r="0.82"/><circle cx="508.76" cy="430.23" r="0.82"/><circle cx="508.68" cy="434.84" r="0.82"/><circle cx="507.85" cy="389.13" r="0.82"/><circle cx="507.08" cy="414.69" r="0.82"/><circle cx="505.03" cy="429.26" r="0.82"/><circle cx="506.54" cy="437.82" r="0.82"/><circle cx="507.42" cy="399.22" r="0.82"/><circle cx="506.56" cy="412.26" r="0.82"/><circle cx="505.86" cy="428.3" r="0.82"/><circle cx="507.83" cy="434.2" r="0.82"/><circle cx="506.93" cy="406.46" r="0.82"/><circle cx="507.54" cy="425.41" r="0.82"/><circle cx="507.66" cy="433.07" r="0.82"/><circle cx="507.37" cy="435.48" r="0.82"/><circle cx="506.27" cy="379.63" r="0.82"/><circle cx="507.16" cy="418.61" r="0.82"/><circle cx="506.87" cy="431.76" r="0.82"/><circle cx="507.09" cy="439.38" r="0.82"/><circle cx="506.2" cy="409.97" r="0.82"/><circle cx="508.17" cy="414.43" r="0.82"/><circle cx="508.3" cy="433.32" r="0.82"/><circle cx="507.33" cy="435.26" r="0.82"/><circle cx="505.69" cy="388.9" r="0.82"/><circle cx="507.33" cy="418.97" r="0.82"/><circle cx="505.78" cy="430.21" r="0.82"/><circle cx="508.51" cy="441.56" r="0.82"/><circle cx="506" cy="393.3" r="0.82"/><circle cx="507.99" cy="412.67" r="0.82"/><circle cx="506.8" cy="376.4" r="0.82"/><circle cx="507.22" cy="442.2" r="0.82"/></g>
<path d="M505.04 328.9H509.04M507.04 326.9V330.9" stroke="#d4d4d4" stroke-width="0.5"/>
<g fill="#3c5a98" fill-opacity="0.9"><circle cx="508.12" cy="328.9" r="0.8"/></g>
<text x="507.24" y="367.15" text-anchor="middle" font-size="11.0" fill="#111">a</text>
<path d="M533.28 405.1V424.5M533.28 438.2V444.8M528.88 405.1H537.68M528.88 444.8H537.68" stroke="#52c8a8" stroke-width="0.65" fill="none"/>
<rect x="524.68" y="424.5" width="17.2" height="13.7" fill="#f8f996" stroke="#b8e29a" stroke-width="0.7"/>
<path d="M524.68 433.8H541.88" stroke="#8cd07c" stroke-width="0.7"/>
<g fill="#0e9452" fill-opacity="0.75"><circle cx="533.22" cy="416.28" r="0.82"/><circle cx="532.71" cy="433.75" r="0.82"/><circle cx="534.35" cy="434.9" r="0.82"/><circle cx="533.42" cy="441.52" r="0.82"/><circle cx="533.56" cy="417.16" r="0.82"/><circle cx="533.25" cy="426" r="0.82"/><circle cx="534.17" cy="434.37" r="0.82"/><circle cx="532.26" cy="438.37" r="0.82"/><circle cx="533.92" cy="408.24" r="0.82"/><circle cx="531.94" cy="433.46" r="0.82"/><circle cx="533.78" cy="433.97" r="0.82"/><circle cx="532.91" cy="440.14" r="0.82"/><circle cx="532.33" cy="415.56" r="0.82"/><circle cx="533.93" cy="429.71" r="0.82"/><circle cx="533.76" cy="436.4" r="0.82"/><circle cx="531.92" cy="441.8" r="0.82"/><circle cx="532.2" cy="422.6" r="0.82"/><circle cx="533.42" cy="424.6" r="0.82"/><circle cx="534.49" cy="436.93" r="0.82"/><circle cx="534.39" cy="444.72" r="0.82"/><circle cx="533.63" cy="407.92" r="0.82"/><circle cx="534.63" cy="433.47" r="0.82"/><circle cx="532.7" cy="435.05" r="0.82"/><circle cx="535.34" cy="442.59" r="0.82"/><circle cx="534.78" cy="413.93" r="0.82"/><circle cx="534.18" cy="424.97" r="0.82"/><circle cx="531.78" cy="435.8" r="0.82"/><circle cx="534.69" cy="438.88" r="0.82"/><circle cx="533.95" cy="412.41" r="0.82"/><circle cx="532.68" cy="426.9" r="0.82"/><circle cx="534.7" cy="436.23" r="0.82"/><circle cx="531.95" cy="441" r="0.82"/><circle cx="533.48" cy="415.98" r="0.82"/><circle cx="533.3" cy="432.94" r="0.82"/><circle cx="533.95" cy="405.1" r="0.82"/><circle cx="534.69" cy="444.8" r="0.82"/></g>
<path d="M531.48 383H535.48M533.48 381V385" stroke="#d4d4d4" stroke-width="0.5"/>
<g fill="#3a7868" fill-opacity="0.9"><circle cx="534.05" cy="383" r="0.8"/><circle cx="533.25" cy="391.8" r="0.8"/><circle cx="534.51" cy="399.6" r="0.8"/></g>
<text x="533.68" y="378.4" text-anchor="middle" font-size="11.0" fill="#111">b</text>
<rect x="28" y="467.3" width="105.6" height="134.9" fill="none" stroke="#8a8a8a" stroke-width="1.15"/>
<text x="25" y="594.75" text-anchor="end" font-size="8.2" fill="#222">0.1</text>
<text x="25" y="573.95" text-anchor="end" font-size="8.2" fill="#222">0.2</text>
<text x="25" y="553.15" text-anchor="end" font-size="8.2" fill="#222">0.3</text>
<text x="25" y="532.35" text-anchor="end" font-size="8.2" fill="#222">0.4</text>
<text x="25" y="511.55" text-anchor="end" font-size="8.2" fill="#222">0.5</text>
<text x="25" y="490.75" text-anchor="end" font-size="8.2" fill="#222">0.6</text>
<text x="25" y="469.95" text-anchor="end" font-size="8.2" fill="#222">0.7</text>
<path d="M25.8 591.65H28M25.8 570.85H28M25.8 550.05H28M25.8 529.25H28M25.8 508.45H28M25.8 487.65H28M25.8 466.85H28M26.8 581.25H28M26.8 560.45H28M26.8 539.65H28M26.8 518.85H28M26.8 498.05H28M26.8 477.25H28M41.2 602.2V604.2M67.6 602.2V604.2M94 602.2V604.2M120.4 602.2V604.2" stroke="#7d7d7d" stroke-width="0.9" fill="none"/>
<text x="41.2" y="612.2" text-anchor="middle" font-size="8.3" fill="#222">Apr.</text>
<text x="67.6" y="612.2" text-anchor="middle" font-size="8.3" fill="#222">Jul.</text>
<text x="94" y="612.2" text-anchor="middle" font-size="8.3" fill="#222">Oct.</text>
<text x="120.4" y="612.2" text-anchor="middle" font-size="8.3" fill="#222">Jan.</text>
<text transform="translate(9.8 534.8) rotate(-90)" text-anchor="middle" font-size="8.5" fill="#222">TN (%)</text>
<path d="M41.2 516.7V536.5M41.2 557.5V569.2M36.8 516.7H45.6M36.8 569.2H45.6" stroke="#96a4f0" stroke-width="0.65" fill="none"/>
<rect x="32.6" y="536.5" width="17.2" height="21" fill="#bac4f8" stroke="#8794e8" stroke-width="0.7"/>
<path d="M32.6 549.1H49.8" stroke="#8794e8" stroke-width="0.7"/>
<g fill="#4456d8" fill-opacity="0.7"><circle cx="40.77" cy="532.24" r="0.82"/><circle cx="41.63" cy="544.27" r="0.82"/><circle cx="43.07" cy="551.9" r="0.82"/><circle cx="41.87" cy="566.69" r="0.82"/><circle cx="42.59" cy="524.15" r="0.82"/><circle cx="41.19" cy="543.75" r="0.82"/><circle cx="41" cy="556.93" r="0.82"/><circle cx="41.84" cy="567.7" r="0.82"/><circle cx="42.31" cy="532.1" r="0.82"/><circle cx="41.34" cy="539.82" r="0.82"/><circle cx="39.79" cy="551.82" r="0.82"/><circle cx="40.18" cy="558.92" r="0.82"/><circle cx="43.29" cy="533.47" r="0.82"/><circle cx="40.28" cy="537.85" r="0.82"/><circle cx="41.61" cy="555.52" r="0.82"/><circle cx="43.43" cy="560.16" r="0.82"/><circle cx="42.14" cy="520.77" r="0.82"/><circle cx="40.82" cy="536.61" r="0.82"/><circle cx="40.85" cy="551.66" r="0.82"/><circle cx="42.49" cy="568.51" r="0.82"/><circle cx="41.69" cy="520.45" r="0.82"/><circle cx="41.58" cy="549.03" r="0.82"/><circle cx="42.9" cy="557.26" r="0.82"/><circle cx="43.19" cy="567.3" r="0.82"/><circle cx="42.72" cy="526.25" r="0.82"/><circle cx="42.21" cy="548.67" r="0.82"/><circle cx="41.3" cy="550.32" r="0.82"/><circle cx="43.26" cy="561.14" r="0.82"/><circle cx="41.9" cy="527.97" r="0.82"/><circle cx="42.26" cy="546.35" r="0.82"/><circle cx="42.68" cy="554.02" r="0.82"/><circle cx="40.63" cy="558.54" r="0.82"/><circle cx="39.89" cy="520.42" r="0.82"/><circle cx="40.23" cy="542.9" r="0.82"/><circle cx="41.38" cy="516.7" r="0.82"/><circle cx="39.35" cy="569.2" r="0.82"/></g>
<text x="41.6" y="509.8" text-anchor="middle" font-size="11.0" fill="#111">bc</text>
<path d="M67.6 520.6V539.2M67.6 560.8V578M63.2 520.6H72M63.2 578H72" stroke="#f4aaae" stroke-width="0.65" fill="none"/>
<rect x="59" y="539.2" width="17.2" height="21.6" fill="#fabdc0" stroke="#f2a2a6" stroke-width="0.7"/>
<path d="M59 551.3H76.2" stroke="#ee9a9e" stroke-width="0.7"/>
<g fill="#d8505e" fill-opacity="0.6"><circle cx="67.62" cy="539.07" r="0.82"/><circle cx="67.63" cy="549.19" r="0.82"/><circle cx="68.35" cy="551.66" r="0.82"/><circle cx="67.14" cy="564.72" r="0.82"/><circle cx="66.57" cy="524.82" r="0.82"/><circle cx="68.01" cy="549.22" r="0.82"/><circle cx="66.61" cy="553.94" r="0.82"/><circle cx="67.04" cy="560.83" r="0.82"/><circle cx="67.79" cy="524.62" r="0.82"/><circle cx="66.05" cy="547.09" r="0.82"/><circle cx="68.58" cy="560" r="0.82"/><circle cx="66.64" cy="570.7" r="0.82"/><circle cx="69.11" cy="526.95" r="0.82"/><circle cx="67.06" cy="546.68" r="0.82"/><circle cx="67.88" cy="557.73" r="0.82"/><circle cx="67.29" cy="569.23" r="0.82"/><circle cx="68.65" cy="538.44" r="0.82"/><circle cx="67.88" cy="542.2" r="0.82"/><circle cx="67.2" cy="558.19" r="0.82"/><circle cx="67.94" cy="576.33" r="0.82"/><circle cx="70.03" cy="538.02" r="0.82"/><circle cx="68.29" cy="541.48" r="0.82"/><circle cx="68.84" cy="554.28" r="0.82"/><circle cx="68.31" cy="568.06" r="0.82"/><circle cx="67.29" cy="523.79" r="0.82"/><circle cx="67.88" cy="541.11" r="0.82"/><circle cx="69.5" cy="560.35" r="0.82"/><circle cx="68.77" cy="566.58" r="0.82"/><circle cx="69.6" cy="538.98" r="0.82"/><circle cx="67.35" cy="545.47" r="0.82"/><circle cx="67.01" cy="554.67" r="0.82"/><circle cx="67.4" cy="565.16" r="0.82"/><circle cx="69.91" cy="523.35" r="0.82"/><circle cx="68.47" cy="539.57" r="0.82"/><circle cx="68.23" cy="520.6" r="0.82"/><circle cx="67.07" cy="578" r="0.82"/></g>
<text x="68" y="516.25" text-anchor="middle" font-size="11.0" fill="#111">c</text>
<path d="M94 502.3V525.1M94 546V574.5M89.6 502.3H98.4M89.6 574.5H98.4" stroke="#6aa8f2" stroke-width="0.65" fill="none"/>
<rect x="85.4" y="525.1" width="17.2" height="20.9" fill="#cdbbe3" stroke="#98a2e8" stroke-width="0.7"/>
<path d="M85.4 531.7H102.6" stroke="#8e98e4" stroke-width="0.7"/>
<g fill="#1f56d8" fill-opacity="0.75"><circle cx="95.01" cy="523.15" r="0.82"/><circle cx="93.82" cy="528.61" r="0.82"/><circle cx="96.31" cy="536.12" r="0.82"/><circle cx="94.62" cy="569.89" r="0.82"/><circle cx="94.57" cy="524.02" r="0.82"/><circle cx="93.33" cy="531.02" r="0.82"/><circle cx="92.95" cy="534.82" r="0.82"/><circle cx="94.03" cy="548.89" r="0.82"/><circle cx="92.67" cy="512.08" r="0.82"/><circle cx="94.08" cy="529.59" r="0.82"/><circle cx="96.07" cy="533.78" r="0.82"/><circle cx="92.35" cy="559.2" r="0.82"/><circle cx="94.96" cy="520.02" r="0.82"/><circle cx="94.55" cy="529.11" r="0.82"/><circle cx="94.93" cy="537.75" r="0.82"/><circle cx="94.78" cy="555.75" r="0.82"/><circle cx="93.33" cy="524.38" r="0.82"/><circle cx="96.52" cy="525.69" r="0.82"/><circle cx="95.79" cy="543.85" r="0.82"/><circle cx="94.14" cy="547.52" r="0.82"/><circle cx="94.49" cy="507.67" r="0.82"/><circle cx="94.48" cy="527.13" r="0.82"/><circle cx="95.52" cy="541.47" r="0.82"/><circle cx="92.99" cy="553.57" r="0.82"/><circle cx="94.41" cy="517.29" r="0.82"/><circle cx="95.49" cy="526.77" r="0.82"/><circle cx="95.1" cy="535.83" r="0.82"/><circle cx="93.32" cy="547.73" r="0.82"/><circle cx="95.74" cy="509.08" r="0.82"/><circle cx="96.12" cy="525.2" r="0.82"/><circle cx="94.21" cy="544.16" r="0.82"/><circle cx="94.82" cy="565.85" r="0.82"/><circle cx="95.84" cy="522.25" r="0.82"/><circle cx="95.5" cy="526.42" r="0.82"/><circle cx="92.34" cy="502.3" r="0.82"/><circle cx="94.01" cy="574.5" r="0.82"/></g>
<text x="94.4" y="496.75" text-anchor="middle" font-size="11.0" fill="#111">a</text>
<path d="M120.4 480.7V516M120.4 561.5V587.3M116 480.7H124.8M116 587.3H124.8" stroke="#52c8a8" stroke-width="0.65" fill="none"/>
<rect x="111.8" y="516" width="17.2" height="45.5" fill="#f8f996" stroke="#b8e29a" stroke-width="0.7"/>
<path d="M111.8 545.4H129" stroke="#8cd07c" stroke-width="0.7"/>
<g fill="#0e9452" fill-opacity="0.75"><circle cx="121.17" cy="486.58" r="0.82"/><circle cx="120.81" cy="542.26" r="0.82"/><circle cx="118.92" cy="554.98" r="0.82"/><circle cx="119.45" cy="565.05" r="0.82"/><circle cx="121.55" cy="499.97" r="0.82"/><circle cx="122.54" cy="523.16" r="0.82"/><circle cx="121.39" cy="553.78" r="0.82"/><circle cx="119.18" cy="570.42" r="0.82"/><circle cx="122.26" cy="484.09" r="0.82"/><circle cx="120.95" cy="542.58" r="0.82"/><circle cx="120.81" cy="546.2" r="0.82"/><circle cx="122.68" cy="580.63" r="0.82"/><circle cx="122.34" cy="499.51" r="0.82"/><circle cx="122.07" cy="533.62" r="0.82"/><circle cx="120.99" cy="552.61" r="0.82"/><circle cx="119.91" cy="583.16" r="0.82"/><circle cx="121.14" cy="491.82" r="0.82"/><circle cx="119.8" cy="520.25" r="0.82"/><circle cx="119.45" cy="550.98" r="0.82"/><circle cx="119.61" cy="564.74" r="0.82"/><circle cx="120.71" cy="512.31" r="0.82"/><circle cx="119.86" cy="522.06" r="0.82"/><circle cx="120.51" cy="556.2" r="0.82"/><circle cx="122.99" cy="567.25" r="0.82"/><circle cx="121.82" cy="511.63" r="0.82"/><circle cx="120.36" cy="525.64" r="0.82"/><circle cx="120.31" cy="559" r="0.82"/><circle cx="120.39" cy="562.95" r="0.82"/><circle cx="121.17" cy="487.35" r="0.82"/><circle cx="121.59" cy="533.66" r="0.82"/><circle cx="119.17" cy="553.1" r="0.82"/><circle cx="121.17" cy="563.21" r="0.82"/><circle cx="121.67" cy="480.83" r="0.82"/><circle cx="120.36" cy="540.36" r="0.82"/><circle cx="119.05" cy="480.7" r="0.82"/><circle cx="122.48" cy="587.3" r="0.82"/></g>
<text x="120.8" y="478.5" text-anchor="middle" font-size="11.0" fill="#111">ab</text>
<rect x="161.5" y="467.3" width="105.9" height="134.9" fill="none" stroke="#8a8a8a" stroke-width="1.15"/>
<text x="158.5" y="605.3" text-anchor="end" font-size="8.2" fill="#222">0.5</text>
<text x="158.5" y="587.3" text-anchor="end" font-size="8.2" fill="#222">1.0</text>
<text x="158.5" y="569.3" text-anchor="end" font-size="8.2" fill="#222">1.5</text>
<text x="158.5" y="551.3" text-anchor="end" font-size="8.2" fill="#222">2.0</text>
<text x="158.5" y="533.3" text-anchor="end" font-size="8.2" fill="#222">2.5</text>
<text x="158.5" y="515.3" text-anchor="end" font-size="8.2" fill="#222">3.0</text>
<text x="158.5" y="497.3" text-anchor="end" font-size="8.2" fill="#222">3.5</text>
<text x="158.5" y="479.3" text-anchor="end" font-size="8.2" fill="#222">4.0</text>
<path d="M159.3 602.2H161.5M159.3 584.2H161.5M159.3 566.2H161.5M159.3 548.2H161.5M159.3 530.2H161.5M159.3 512.2H161.5M159.3 494.2H161.5M159.3 476.2H161.5M160.3 593.2H161.5M160.3 575.2H161.5M160.3 557.2H161.5M160.3 539.2H161.5M160.3 521.2H161.5M160.3 503.2H161.5M160.3 485.2H161.5M174.74 602.2V604.2M201.21 602.2V604.2M227.69 602.2V604.2M254.16 602.2V604.2" stroke="#7d7d7d" stroke-width="0.9" fill="none"/>
<text x="174.74" y="612.2" text-anchor="middle" font-size="8.3" fill="#222">Apr.</text>
<text x="201.21" y="612.2" text-anchor="middle" font-size="8.3" fill="#222">Jul.</text>
<text x="227.69" y="612.2" text-anchor="middle" font-size="8.3" fill="#222">Oct.</text>
<text x="254.16" y="612.2" text-anchor="middle" font-size="8.3" fill="#222">Jan.</text>
<text transform="translate(143.8 534.6) rotate(-90)" text-anchor="middle" font-size="8.5" fill="#222">TOC (%)</text>
<path d="M174.74 475.8V510M174.74 558.2V573M170.34 475.8H179.14M170.34 573H179.14" stroke="#96a4f0" stroke-width="0.65" fill="none"/>
<rect x="166.14" y="510" width="17.2" height="48.2" fill="#bac4f8" stroke="#8794e8" stroke-width="0.7"/>
<path d="M166.14 547.1H183.34" stroke="#8794e8" stroke-width="0.7"/>
<g fill="#4456d8" fill-opacity="0.7"><circle cx="176.39" cy="483.76" r="0.82"/><circle cx="176.2" cy="543.1" r="0.82"/><circle cx="175.62" cy="556.4" r="0.82"/><circle cx="174.85" cy="563.36" r="0.82"/><circle cx="175.59" cy="501.51" r="0.82"/><circle cx="175.13" cy="532.09" r="0.82"/><circle cx="175.41" cy="557.46" r="0.82"/><circle cx="174.78" cy="559.5" r="0.82"/><circle cx="175.99" cy="478.16" r="0.82"/><circle cx="174.26" cy="536.58" r="0.82"/><circle cx="175.4" cy="548.62" r="0.82"/><circle cx="174.08" cy="558.27" r="0.82"/><circle cx="174.81" cy="508.02" r="0.82"/><circle cx="174.56" cy="542.78" r="0.82"/><circle cx="175.28" cy="550.42" r="0.82"/><circle cx="174.78" cy="568.87" r="0.82"/><circle cx="172.97" cy="489.73" r="0.82"/><circle cx="173.72" cy="517.21" r="0.82"/><circle cx="174.18" cy="550.85" r="0.82"/><circle cx="175.24" cy="559.99" r="0.82"/><circle cx="175.05" cy="508.66" r="0.82"/><circle cx="174.05" cy="522.41" r="0.82"/><circle cx="174.42" cy="554.86" r="0.82"/><circle cx="174.54" cy="563.5" r="0.82"/><circle cx="175.08" cy="496.36" r="0.82"/><circle cx="173.03" cy="527.27" r="0.82"/><circle cx="175.43" cy="554.16" r="0.82"/><circle cx="175.64" cy="564.42" r="0.82"/><circle cx="174.85" cy="508.04" r="0.82"/><circle cx="173.45" cy="513.7" r="0.82"/><circle cx="175.31" cy="550.79" r="0.82"/><circle cx="174.84" cy="566.98" r="0.82"/><circle cx="174.97" cy="485.57" r="0.82"/><circle cx="172.9" cy="529.43" r="0.82"/><circle cx="175.43" cy="475.8" r="0.82"/><circle cx="176.98" cy="573" r="0.82"/></g>
<text x="175.14" y="476.7" text-anchor="middle" font-size="11.0" fill="#111">ab</text>
<path d="M201.21 501.7V529.3M201.21 564.1V588.4M196.81 501.7H205.61M196.81 588.4H205.61" stroke="#f4aaae" stroke-width="0.65" fill="none"/>
<rect x="192.61" y="529.3" width="17.2" height="34.8" fill="#fabdc0" stroke="#f2a2a6" stroke-width="0.7"/>
<path d="M192.61 544.3H209.81" stroke="#ee9a9e" stroke-width="0.7"/>
<g fill="#d8505e" fill-opacity="0.6"><circle cx="201.53" cy="522.08" r="0.82"/><circle cx="202.66" cy="543.04" r="0.82"/><circle cx="201.16" cy="551.84" r="0.82"/><circle cx="200.99" cy="573.07" r="0.82"/><circle cx="202.64" cy="526.87" r="0.82"/><circle cx="203.45" cy="538.76" r="0.82"/><circle cx="201.74" cy="549.5" r="0.82"/><circle cx="201.82" cy="584.1" r="0.82"/><circle cx="201.5" cy="524.26" r="0.82"/><circle cx="200.83" cy="543.01" r="0.82"/><circle cx="201.08" cy="555.28" r="0.82"/><circle cx="203.19" cy="569.78" r="0.82"/><circle cx="201.49" cy="514.77" r="0.82"/><circle cx="201.21" cy="532.79" r="0.82"/><circle cx="200.04" cy="554" r="0.82"/><circle cx="202.87" cy="571.37" r="0.82"/><circle cx="201.17" cy="525.89" r="0.82"/><circle cx="201.27" cy="529.75" r="0.82"/><circle cx="200.93" cy="546.95" r="0.82"/><circle cx="202.58" cy="581.52" r="0.82"/><circle cx="200.9" cy="529.23" r="0.82"/><circle cx="202.34" cy="534.31" r="0.82"/><circle cx="201.64" cy="548.39" r="0.82"/><circle cx="201.53" cy="564.79" r="0.82"/><circle cx="202.45" cy="519.32" r="0.82"/><circle cx="201.65" cy="542.5" r="0.82"/><circle cx="200.07" cy="552.92" r="0.82"/><circle cx="201.7" cy="586.59" r="0.82"/><circle cx="202.7" cy="525.59" r="0.82"/><circle cx="202.21" cy="541.38" r="0.82"/><circle cx="201.63" cy="544.69" r="0.82"/><circle cx="202.7" cy="565.88" r="0.82"/><circle cx="202.14" cy="511.74" r="0.82"/><circle cx="200.52" cy="529.95" r="0.82"/><circle cx="201.97" cy="501.7" r="0.82"/><circle cx="199.95" cy="588.4" r="0.82"/></g>
<text x="201.61" y="495.5" text-anchor="middle" font-size="11.0" fill="#111">b</text>
<path d="M227.69 487.5V517.3M227.69 549.1V580.2M223.29 487.5H232.09M223.29 580.2H232.09" stroke="#6aa8f2" stroke-width="0.65" fill="none"/>
<rect x="219.09" y="517.3" width="17.2" height="31.8" fill="#cdbbe3" stroke="#98a2e8" stroke-width="0.7"/>
<path d="M219.09 537.6H236.29" stroke="#8e98e4" stroke-width="0.7"/>
<g fill="#1f56d8" fill-opacity="0.75"><circle cx="227.77" cy="516.85" r="0.82"/><circle cx="228.51" cy="524.57" r="0.82"/><circle cx="229.52" cy="541.66" r="0.82"/><circle cx="226.81" cy="557.92" r="0.82"/><circle cx="225.99" cy="507.98" r="0.82"/><circle cx="228.46" cy="524.09" r="0.82"/><circle cx="229.84" cy="539.86" r="0.82"/><circle cx="228.35" cy="552.56" r="0.82"/><circle cx="227.23" cy="506.82" r="0.82"/><circle cx="227.26" cy="536.55" r="0.82"/><circle cx="228.21" cy="548.47" r="0.82"/><circle cx="228.02" cy="576.12" r="0.82"/><circle cx="226.95" cy="512.49" r="0.82"/><circle cx="228.1" cy="523.81" r="0.82"/><circle cx="229.28" cy="540.37" r="0.82"/><circle cx="226.04" cy="574.02" r="0.82"/><circle cx="227.16" cy="499.13" r="0.82"/><circle cx="226.67" cy="536.49" r="0.82"/><circle cx="227.68" cy="539.22" r="0.82"/><circle cx="227.99" cy="549.21" r="0.82"/><circle cx="229.27" cy="509.77" r="0.82"/><circle cx="227.96" cy="518.88" r="0.82"/><circle cx="228.95" cy="543.04" r="0.82"/><circle cx="229.15" cy="563.38" r="0.82"/><circle cx="229.18" cy="487.92" r="0.82"/><circle cx="226.97" cy="526.42" r="0.82"/><circle cx="228.93" cy="546.13" r="0.82"/><circle cx="230.03" cy="569.16" r="0.82"/><circle cx="229.11" cy="500.63" r="0.82"/><circle cx="228.85" cy="528.46" r="0.82"/><circle cx="227.72" cy="545.05" r="0.82"/><circle cx="227.88" cy="573.28" r="0.82"/><circle cx="226.9" cy="514.46" r="0.82"/><circle cx="225.82" cy="518" r="0.82"/><circle cx="228.2" cy="487.5" r="0.82"/><circle cx="227.57" cy="580.2" r="0.82"/></g>
<text x="228.09" y="485.35" text-anchor="middle" font-size="11.0" fill="#111">a</text>
<path d="M254.16 499V522.2M254.16 559.3V588.4M249.76 499H258.56M249.76 588.4H258.56" stroke="#52c8a8" stroke-width="0.65" fill="none"/>
<rect x="245.56" y="522.2" width="17.2" height="37.1" fill="#f8f996" stroke="#b8e29a" stroke-width="0.7"/>
<path d="M245.56 539.8H262.76" stroke="#8cd07c" stroke-width="0.7"/>
<g fill="#0e9452" fill-opacity="0.75"><circle cx="253.42" cy="512.43" r="0.82"/><circle cx="253.55" cy="524.44" r="0.82"/><circle cx="254.02" cy="550.42" r="0.82"/><circle cx="253.14" cy="574.1" r="0.82"/><circle cx="253.1" cy="521.61" r="0.82"/><circle cx="255.16" cy="535.52" r="0.82"/><circle cx="253.99" cy="543.41" r="0.82"/><circle cx="252.84" cy="560.31" r="0.82"/><circle cx="253.69" cy="504.96" r="0.82"/><circle cx="254.07" cy="529.99" r="0.82"/><circle cx="254.14" cy="542.23" r="0.82"/><circle cx="253.2" cy="575.78" r="0.82"/><circle cx="254.06" cy="519.94" r="0.82"/><circle cx="256.38" cy="531.57" r="0.82"/><circle cx="253.19" cy="541.78" r="0.82"/><circle cx="254.57" cy="576.05" r="0.82"/><circle cx="254.01" cy="510.42" r="0.82"/><circle cx="254.72" cy="528" r="0.82"/><circle cx="254.81" cy="541.42" r="0.82"/><circle cx="253.45" cy="575.34" r="0.82"/><circle cx="255.38" cy="518.42" r="0.82"/><circle cx="255.22" cy="537.31" r="0.82"/><circle cx="254.06" cy="558.24" r="0.82"/><circle cx="254.94" cy="559.86" r="0.82"/><circle cx="253.17" cy="521.82" r="0.82"/><circle cx="253.82" cy="522.89" r="0.82"/><circle cx="254.02" cy="540.04" r="0.82"/><circle cx="254.68" cy="559.34" r="0.82"/><circle cx="255.21" cy="500.09" r="0.82"/><circle cx="255.86" cy="527.38" r="0.82"/><circle cx="254.15" cy="554.48" r="0.82"/><circle cx="253.26" cy="573.95" r="0.82"/><circle cx="255.18" cy="508.39" r="0.82"/><circle cx="255.63" cy="527.9" r="0.82"/><circle cx="255.95" cy="499" r="0.82"/><circle cx="255.29" cy="588.4" r="0.82"/></g>
<text x="254.56" y="493.9" text-anchor="middle" font-size="11.0" fill="#111">ab</text>
<rect x="299.2" y="467.3" width="105.8" height="134.9" fill="none" stroke="#8a8a8a" stroke-width="1.15"/>
<text x="296.2" y="594.75" text-anchor="end" font-size="8.2" fill="#222">0</text>
<text x="296.2" y="573.95" text-anchor="end" font-size="8.2" fill="#222">200</text>
<text x="296.2" y="553.15" text-anchor="end" font-size="8.2" fill="#222">400</text>
<text x="296.2" y="532.35" text-anchor="end" font-size="8.2" fill="#222">600</text>
<text x="296.2" y="511.55" text-anchor="end" font-size="8.2" fill="#222">800</text>
<text x="296.2" y="490.75" text-anchor="end" font-size="8.2" fill="#222">1000</text>
<text x="296.2" y="469.95" text-anchor="end" font-size="8.2" fill="#222">1200</text>
<path d="M297 591.65H299.2M297 570.85H299.2M297 550.05H299.2M297 529.25H299.2M297 508.45H299.2M297 487.65H299.2M297 466.85H299.2M298 581.25H299.2M298 560.45H299.2M298 539.65H299.2M298 518.85H299.2M298 498.05H299.2M298 477.25H299.2M312.43 602.2V604.2M338.88 602.2V604.2M365.32 602.2V604.2M391.77 602.2V604.2" stroke="#7d7d7d" stroke-width="0.9" fill="none"/>
<text x="312.43" y="612.2" text-anchor="middle" font-size="8.3" fill="#222">Apr.</text>
<text x="338.88" y="612.2" text-anchor="middle" font-size="8.3" fill="#222">Jul.</text>
<text x="365.32" y="612.2" text-anchor="middle" font-size="8.3" fill="#222">Oct.</text>
<text x="391.77" y="612.2" text-anchor="middle" font-size="8.3" fill="#222">Jan.</text>
<text transform="translate(274.5 534.05) rotate(-90)" text-anchor="middle" font-size="8.5" fill="#222">DOC (mg·kg<tspan dy="-3.2" font-size="5.6">-1</tspan><tspan dy="3.2">)</tspan></text>
<path d="M312.43 512.3V530.4M312.43 546.5V553.5M308.03 512.3H316.82M308.03 553.5H316.82" stroke="#96a4f0" stroke-width="0.65" fill="none"/>
<rect x="303.82" y="530.4" width="17.2" height="16.1" fill="#bac4f8" stroke="#8794e8" stroke-width="0.7"/>
<path d="M303.82 539.2H321.03" stroke="#8794e8" stroke-width="0.7"/>
<g fill="#4456d8" fill-opacity="0.7"><circle cx="310.84" cy="521.93" r="0.82"/><circle cx="311.64" cy="533.35" r="0.82"/><circle cx="311.51" cy="542.11" r="0.82"/><circle cx="312.46" cy="550.61" r="0.82"/><circle cx="313.54" cy="529.72" r="0.82"/><circle cx="314.55" cy="536.16" r="0.82"/><circle cx="313.53" cy="542.97" r="0.82"/><circle cx="313.99" cy="548.38" r="0.82"/><circle cx="314.16" cy="529.9" r="0.82"/><circle cx="313.71" cy="536.12" r="0.82"/><circle cx="312.35" cy="539.54" r="0.82"/><circle cx="313.23" cy="547.01" r="0.82"/><circle cx="312.75" cy="512.58" r="0.82"/><circle cx="312.99" cy="530.79" r="0.82"/><circle cx="313.47" cy="545.99" r="0.82"/><circle cx="313.15" cy="548.94" r="0.82"/><circle cx="311.37" cy="526.79" r="0.82"/><circle cx="311.87" cy="531.71" r="0.82"/><circle cx="312.29" cy="545.75" r="0.82"/><circle cx="312.46" cy="547.08" r="0.82"/><circle cx="312.16" cy="520.47" r="0.82"/><circle cx="312.82" cy="534.64" r="0.82"/><circle cx="312.43" cy="540.3" r="0.82"/><circle cx="313.04" cy="546.85" r="0.82"/><circle cx="312.69" cy="529" r="0.82"/><circle cx="312.49" cy="530.98" r="0.82"/><circle cx="311.76" cy="546.42" r="0.82"/><circle cx="312.72" cy="547.33" r="0.82"/><circle cx="312.62" cy="513.65" r="0.82"/><circle cx="312.41" cy="532.69" r="0.82"/><circle cx="313.32" cy="542.96" r="0.82"/><circle cx="312.48" cy="547.01" r="0.82"/><circle cx="312.84" cy="521.03" r="0.82"/><circle cx="312.86" cy="532.99" r="0.82"/><circle cx="314.88" cy="512.3" r="0.82"/><circle cx="313.39" cy="553.5" r="0.82"/></g>
<text x="312.82" y="507.35" text-anchor="middle" font-size="11.0" fill="#111">a</text>
<path d="M338.88 535.4V544.9M338.88 559.3V567.4M334.48 535.4H343.27M334.48 567.4H343.27" stroke="#f4aaae" stroke-width="0.65" fill="none"/>
<rect x="330.27" y="544.9" width="17.2" height="14.4" fill="#fabdc0" stroke="#f2a2a6" stroke-width="0.7"/>
<path d="M330.27 554.2H347.48" stroke="#ee9a9e" stroke-width="0.7"/>
<g fill="#d8505e" fill-opacity="0.6"><circle cx="339.31" cy="537.42" r="0.82"/><circle cx="341.04" cy="551.74" r="0.82"/><circle cx="337.86" cy="558.22" r="0.82"/><circle cx="339.38" cy="559.34" r="0.82"/><circle cx="339.75" cy="541.65" r="0.82"/><circle cx="338.64" cy="553.2" r="0.82"/><circle cx="338.1" cy="557.35" r="0.82"/><circle cx="337.55" cy="564.38" r="0.82"/><circle cx="338.93" cy="544.51" r="0.82"/><circle cx="340.41" cy="545.81" r="0.82"/><circle cx="338.82" cy="554.86" r="0.82"/><circle cx="339.54" cy="560.28" r="0.82"/><circle cx="339.33" cy="539.8" r="0.82"/><circle cx="338.16" cy="551.42" r="0.82"/><circle cx="340.9" cy="554.85" r="0.82"/><circle cx="338.83" cy="566.55" r="0.82"/><circle cx="340.22" cy="538.75" r="0.82"/><circle cx="339.28" cy="553.17" r="0.82"/><circle cx="339.59" cy="556.97" r="0.82"/><circle cx="339.65" cy="562.77" r="0.82"/><circle cx="339.49" cy="544.28" r="0.82"/><circle cx="339.3" cy="548.58" r="0.82"/><circle cx="339.78" cy="557.56" r="0.82"/><circle cx="337.36" cy="567.16" r="0.82"/><circle cx="340.22" cy="538.72" r="0.82"/><circle cx="340.65" cy="546.6" r="0.82"/><circle cx="339.52" cy="558.34" r="0.82"/><circle cx="340.63" cy="566.44" r="0.82"/><circle cx="339.6" cy="544.18" r="0.82"/><circle cx="338.63" cy="553.55" r="0.82"/><circle cx="340.14" cy="558.74" r="0.82"/><circle cx="338.57" cy="564.86" r="0.82"/><circle cx="339.63" cy="544.87" r="0.82"/><circle cx="340.11" cy="553" r="0.82"/><circle cx="339.04" cy="535.4" r="0.82"/><circle cx="340.82" cy="567.4" r="0.82"/></g>
<text x="339.27" y="530.1" text-anchor="middle" font-size="11.0" fill="#111">b</text>
<path d="M365.32 508.9V532.1M365.32 550.4V574.7M360.93 508.9H369.72M360.93 574.7H369.72" stroke="#6aa8f2" stroke-width="0.65" fill="none"/>
<rect x="356.72" y="532.1" width="17.2" height="18.3" fill="#cdbbe3" stroke="#98a2e8" stroke-width="0.7"/>
<path d="M356.72 542.1H373.93" stroke="#8e98e4" stroke-width="0.7"/>
<g fill="#1f56d8" fill-opacity="0.75"><circle cx="365.42" cy="527.89" r="0.82"/><circle cx="364.29" cy="535.42" r="0.82"/><circle cx="366.19" cy="546.77" r="0.82"/><circle cx="366.26" cy="554.21" r="0.82"/><circle cx="366.31" cy="520.21" r="0.82"/><circle cx="364.17" cy="540.16" r="0.82"/><circle cx="364.89" cy="547.01" r="0.82"/><circle cx="364.65" cy="552.08" r="0.82"/><circle cx="363.78" cy="518.32" r="0.82"/><circle cx="364.46" cy="541.17" r="0.82"/><circle cx="365.65" cy="548.99" r="0.82"/><circle cx="365.94" cy="564.08" r="0.82"/><circle cx="365.33" cy="525.29" r="0.82"/><circle cx="365.72" cy="532.92" r="0.82"/><circle cx="365.61" cy="547.52" r="0.82"/><circle cx="367.02" cy="554.88" r="0.82"/><circle cx="365.73" cy="531.81" r="0.82"/><circle cx="364.64" cy="532.71" r="0.82"/><circle cx="365.01" cy="545.95" r="0.82"/><circle cx="365.71" cy="551.55" r="0.82"/><circle cx="363.88" cy="523.78" r="0.82"/><circle cx="365.21" cy="536.87" r="0.82"/><circle cx="364.69" cy="550.03" r="0.82"/><circle cx="367.15" cy="552.66" r="0.82"/><circle cx="365.4" cy="517.8" r="0.82"/><circle cx="364.43" cy="536.73" r="0.82"/><circle cx="366.03" cy="542.58" r="0.82"/><circle cx="365.73" cy="550.79" r="0.82"/><circle cx="366.03" cy="529.14" r="0.82"/><circle cx="365.39" cy="533.38" r="0.82"/><circle cx="365.84" cy="547.66" r="0.82"/><circle cx="365.32" cy="556.15" r="0.82"/><circle cx="366.77" cy="520.95" r="0.82"/><circle cx="365.47" cy="533.3" r="0.82"/><circle cx="367.09" cy="508.9" r="0.82"/><circle cx="364.08" cy="574.7" r="0.82"/></g>
<path d="M363.52 487.3H367.52M365.52 485.3V489.3" stroke="#d4d4d4" stroke-width="0.5"/>
<g fill="#3c5a98" fill-opacity="0.9"><circle cx="365.3" cy="487.3" r="0.8"/></g>
<text x="365.72" y="503.65" text-anchor="middle" font-size="11.0" fill="#111">a</text>
<path d="M391.77 537.2V556.4M391.77 569V583.3M387.38 537.2H396.17M387.38 583.3H396.17" stroke="#52c8a8" stroke-width="0.65" fill="none"/>
<rect x="383.17" y="556.4" width="17.2" height="12.6" fill="#f8f996" stroke="#b8e29a" stroke-width="0.7"/>
<path d="M383.17 563.7H400.38" stroke="#8cd07c" stroke-width="0.7"/>
<g fill="#0e9452" fill-opacity="0.75"><circle cx="391.7" cy="542.65" r="0.82"/><circle cx="390.24" cy="562.59" r="0.82"/><circle cx="391.69" cy="563.84" r="0.82"/><circle cx="390.99" cy="574.85" r="0.82"/><circle cx="390.6" cy="537.74" r="0.82"/><circle cx="392.37" cy="559.4" r="0.82"/><circle cx="392.33" cy="567.75" r="0.82"/><circle cx="392.49" cy="581.21" r="0.82"/><circle cx="391.23" cy="544.37" r="0.82"/><circle cx="392.69" cy="561.74" r="0.82"/><circle cx="393.62" cy="563.71" r="0.82"/><circle cx="391.28" cy="572.38" r="0.82"/><circle cx="392.3" cy="554.79" r="0.82"/><circle cx="392.04" cy="556.41" r="0.82"/><circle cx="393.88" cy="567.54" r="0.82"/><circle cx="393.92" cy="575.4" r="0.82"/><circle cx="391.07" cy="542.4" r="0.82"/><circle cx="393.27" cy="557.88" r="0.82"/><circle cx="392.25" cy="565.33" r="0.82"/><circle cx="391.8" cy="576.9" r="0.82"/><circle cx="393.81" cy="548.27" r="0.82"/><circle cx="392.28" cy="562.58" r="0.82"/><circle cx="390.57" cy="565.89" r="0.82"/><circle cx="390.08" cy="578" r="0.82"/><circle cx="391.01" cy="556.21" r="0.82"/><circle cx="392.49" cy="559.1" r="0.82"/><circle cx="391.59" cy="566.31" r="0.82"/><circle cx="393.99" cy="570.59" r="0.82"/><circle cx="393.34" cy="539.16" r="0.82"/><circle cx="392.44" cy="561.53" r="0.82"/><circle cx="391.97" cy="568.97" r="0.82"/><circle cx="390.16" cy="581.33" r="0.82"/><circle cx="391.65" cy="554.42" r="0.82"/><circle cx="391.67" cy="562.64" r="0.82"/><circle cx="392.65" cy="537.2" r="0.82"/><circle cx="391.34" cy="583.3" r="0.82"/></g>
<path d="M389.97 519.5H393.97M391.97 517.5V521.5" stroke="#d4d4d4" stroke-width="0.5"/>
<g fill="#3a7868" fill-opacity="0.9"><circle cx="391.27" cy="519.5" r="0.8"/><circle cx="392.76" cy="522.2" r="0.8"/></g>
<text x="392.17" y="534.35" text-anchor="middle" font-size="11.0" fill="#111">c</text>
<rect x="440.75" y="467.3" width="105.75" height="134.9" fill="none" stroke="#8a8a8a" stroke-width="1.15"/>
<text x="437.75" y="605.6" text-anchor="end" font-size="8.2" fill="#222">-200</text>
<text x="437.75" y="578.5" text-anchor="end" font-size="8.2" fill="#222">0</text>
<text x="437.75" y="551.4" text-anchor="end" font-size="8.2" fill="#222">200</text>
<text x="437.75" y="524.3" text-anchor="end" font-size="8.2" fill="#222">400</text>
<text x="437.75" y="497.2" text-anchor="end" font-size="8.2" fill="#222">600</text>
<text x="437.75" y="470.1" text-anchor="end" font-size="8.2" fill="#222">800</text>
<path d="M438.55 602.5H440.75M438.55 575.4H440.75M438.55 548.3H440.75M438.55 521.2H440.75M438.55 494.1H440.75M438.55 467H440.75M439.55 588.95H440.75M439.55 561.85H440.75M439.55 534.75H440.75M439.55 507.65H440.75M439.55 480.55H440.75M453.97 602.2V604.2M480.41 602.2V604.2M506.84 602.2V604.2M533.28 602.2V604.2" stroke="#7d7d7d" stroke-width="0.9" fill="none"/>
<text x="453.97" y="612.2" text-anchor="middle" font-size="8.3" fill="#222">Apr.</text>
<text x="480.41" y="612.2" text-anchor="middle" font-size="8.3" fill="#222">Jul.</text>
<text x="506.84" y="612.2" text-anchor="middle" font-size="8.3" fill="#222">Oct.</text>
<text x="533.28" y="612.2" text-anchor="middle" font-size="8.3" fill="#222">Jan.</text>
<text transform="translate(415.8 534.5) rotate(-90)" text-anchor="middle" font-size="8.5" fill="#222">WSN (mg·kg<tspan dy="-3.2" font-size="5.6">-1</tspan><tspan dy="3.2">)</tspan></text>
<path d="M453.97 565.2V567.4M453.97 570.3V570.8M449.57 565.2H458.37M449.57 570.8H458.37" stroke="#96a4f0" stroke-width="0.65" fill="none"/>
<rect x="445.37" y="567.4" width="17.2" height="2.9" fill="#bac4f8" stroke="#8794e8" stroke-width="0.7"/>
<path d="M445.37 568.5H462.57" stroke="#8794e8" stroke-width="0.7"/>
<g fill="#4456d8" fill-opacity="0.7"><circle cx="454.06" cy="567.4" r="0.82"/><circle cx="454.97" cy="567.94" r="0.82"/><circle cx="453.57" cy="568.66" r="0.82"/><circle cx="453.87" cy="570.32" r="0.82"/><circle cx="455.57" cy="565.75" r="0.82"/><circle cx="454.64" cy="567.89" r="0.82"/><circle cx="453.85" cy="569.07" r="0.82"/><circle cx="455.42" cy="570.62" r="0.82"/><circle cx="454.16" cy="567.33" r="0.82"/><circle cx="455.09" cy="567.71" r="0.82"/><circle cx="455.32" cy="569.46" r="0.82"/><circle cx="454.72" cy="570.41" r="0.82"/><circle cx="454.01" cy="566.69" r="0.82"/><circle cx="454.83" cy="568.07" r="0.82"/><circle cx="453.56" cy="568.78" r="0.82"/><circle cx="455.38" cy="570.59" r="0.82"/><circle cx="455.34" cy="567.09" r="0.82"/><circle cx="453.8" cy="567.92" r="0.82"/><circle cx="453.66" cy="569.94" r="0.82"/><circle cx="454.67" cy="570.38" r="0.82"/><circle cx="454.48" cy="565.31" r="0.82"/><circle cx="455.84" cy="567.87" r="0.82"/><circle cx="455.3" cy="569.67" r="0.82"/><circle cx="452.83" cy="570.71" r="0.82"/><circle cx="453.33" cy="565.56" r="0.82"/><circle cx="454.5" cy="567.44" r="0.82"/><circle cx="452.9" cy="568.86" r="0.82"/><circle cx="454.75" cy="570.78" r="0.82"/><circle cx="454.13" cy="567.03" r="0.82"/><circle cx="455.41" cy="567.83" r="0.82"/><circle cx="454.85" cy="569.73" r="0.82"/><circle cx="453.57" cy="570.55" r="0.82"/><circle cx="453.74" cy="566.09" r="0.82"/><circle cx="453.41" cy="568.22" r="0.82"/><circle cx="453.47" cy="565.2" r="0.82"/><circle cx="454.84" cy="570.8" r="0.82"/></g>
<path d="M452.17 560.4H456.17M454.17 558.4V562.4" stroke="#d4d4d4" stroke-width="0.5"/>
<g fill="#4c5290" fill-opacity="0.9"><circle cx="454.83" cy="560.4" r="0.8"/></g>
<text x="454.37" y="563.5" text-anchor="middle" font-size="11.0" fill="#111">b</text>
<path d="M480.41 543.2V557.1M480.41 568.5V571.2M476.01 543.2H484.81M476.01 571.2H484.81" stroke="#f4aaae" stroke-width="0.65" fill="none"/>
<rect x="471.81" y="557.1" width="17.2" height="11.4" fill="#fabdc0" stroke="#f2a2a6" stroke-width="0.7"/>
<path d="M471.81 561.5H489.01" stroke="#ee9a9e" stroke-width="0.7"/>
<g fill="#d8505e" fill-opacity="0.6"><circle cx="479.22" cy="545.45" r="0.82"/><circle cx="481.47" cy="558.73" r="0.82"/><circle cx="479.47" cy="562.33" r="0.82"/><circle cx="479" cy="568.89" r="0.82"/><circle cx="479.58" cy="550.42" r="0.82"/><circle cx="480.37" cy="560.8" r="0.82"/><circle cx="481.75" cy="562.89" r="0.82"/><circle cx="480.55" cy="571.08" r="0.82"/><circle cx="480.2" cy="557.07" r="0.82"/><circle cx="479.61" cy="560.95" r="0.82"/><circle cx="480.83" cy="565.56" r="0.82"/><circle cx="480.89" cy="571.18" r="0.82"/><circle cx="481.63" cy="547.91" r="0.82"/><circle cx="479.37" cy="561.01" r="0.82"/><circle cx="483" cy="567.95" r="0.82"/><circle cx="480.26" cy="570.45" r="0.82"/><circle cx="480.07" cy="555.67" r="0.82"/><circle cx="480.68" cy="559.13" r="0.82"/><circle cx="480.22" cy="565.08" r="0.82"/><circle cx="478.84" cy="568.65" r="0.82"/><circle cx="481.07" cy="544.63" r="0.82"/><circle cx="482.47" cy="558.42" r="0.82"/><circle cx="480.59" cy="562.48" r="0.82"/><circle cx="481.24" cy="568.86" r="0.82"/><circle cx="480.65" cy="556.56" r="0.82"/><circle cx="479.47" cy="557.84" r="0.82"/><circle cx="481.67" cy="568.27" r="0.82"/><circle cx="482.26" cy="568.93" r="0.82"/><circle cx="480" cy="556.67" r="0.82"/><circle cx="480.52" cy="557.73" r="0.82"/><circle cx="481.34" cy="566.58" r="0.82"/><circle cx="481.41" cy="568.59" r="0.82"/><circle cx="479.25" cy="546.09" r="0.82"/><circle cx="482.19" cy="558.96" r="0.82"/><circle cx="480.39" cy="543.2" r="0.82"/><circle cx="481.06" cy="571.2" r="0.82"/></g>
<path d="M478.61 482.9H482.61M480.61 480.9V484.9" stroke="#d4d4d4" stroke-width="0.5"/>
<g fill="#8c4a58" fill-opacity="0.9"><circle cx="481.54" cy="523.3" r="0.8"/><circle cx="481.05" cy="532.8" r="0.8"/><circle cx="480.87" cy="482.9" r="0.8"/></g>
<text x="480.81" y="515.15" text-anchor="middle" font-size="11.0" fill="#111">a</text>
<path d="M506.84 563.7V566.3M506.84 569.6V573M502.44 563.7H511.24M502.44 573H511.24" stroke="#6aa8f2" stroke-width="0.65" fill="none"/>
<rect x="498.24" y="566.3" width="17.2" height="3.3" fill="#cdbbe3" stroke="#98a2e8" stroke-width="0.7"/>
<path d="M498.24 568.1H515.44" stroke="#8e98e4" stroke-width="0.7"/>
<g fill="#1f56d8" fill-opacity="0.75"><circle cx="507.43" cy="566.16" r="0.82"/><circle cx="508.48" cy="567.19" r="0.82"/><circle cx="507" cy="568.8" r="0.82"/><circle cx="507.56" cy="572.86" r="0.82"/><circle cx="508.46" cy="565.21" r="0.82"/><circle cx="505.86" cy="567.58" r="0.82"/><circle cx="506.73" cy="569.3" r="0.82"/><circle cx="505.54" cy="572.51" r="0.82"/><circle cx="507.28" cy="566.07" r="0.82"/><circle cx="508.9" cy="566.68" r="0.82"/><circle cx="505.69" cy="569.3" r="0.82"/><circle cx="507.85" cy="570.07" r="0.82"/><circle cx="508.07" cy="566.09" r="0.82"/><circle cx="506.48" cy="566.39" r="0.82"/><circle cx="507.58" cy="568.86" r="0.82"/><circle cx="505.91" cy="570.87" r="0.82"/><circle cx="507.73" cy="566.07" r="0.82"/><circle cx="507.5" cy="568" r="0.82"/><circle cx="506.85" cy="568.3" r="0.82"/><circle cx="507.77" cy="570.16" r="0.82"/><circle cx="508.1" cy="566.11" r="0.82"/><circle cx="506.77" cy="566.94" r="0.82"/><circle cx="506.5" cy="569.45" r="0.82"/><circle cx="505.38" cy="572.55" r="0.82"/><circle cx="507.41" cy="566.19" r="0.82"/><circle cx="506.35" cy="566.84" r="0.82"/><circle cx="506.75" cy="568.14" r="0.82"/><circle cx="508.44" cy="571.32" r="0.82"/><circle cx="508.63" cy="565.07" r="0.82"/><circle cx="506.71" cy="567.62" r="0.82"/><circle cx="507.19" cy="568.8" r="0.82"/><circle cx="507.49" cy="569.81" r="0.82"/><circle cx="506.63" cy="565.9" r="0.82"/><circle cx="505.71" cy="568" r="0.82"/><circle cx="506" cy="563.7" r="0.82"/><circle cx="507" cy="573" r="0.82"/></g>
<path d="M505.04 549.8H509.04M507.04 547.8V551.8" stroke="#d4d4d4" stroke-width="0.5"/>
<g fill="#3c5a98" fill-opacity="0.9"><circle cx="507.09" cy="549.8" r="0.8"/><circle cx="507.68" cy="554.9" r="0.8"/><circle cx="506.61" cy="557.5" r="0.8"/><circle cx="506.47" cy="574.7" r="0.8"/></g>
<text x="507.24" y="542.5" text-anchor="middle" font-size="11.0" fill="#111">b</text>
<path d="M533.28 567.4V569.6M533.28 573V574.7M528.88 567.4H537.68M528.88 574.7H537.68" stroke="#52c8a8" stroke-width="0.65" fill="none"/>
<rect x="524.68" y="569.6" width="17.2" height="3.4" fill="#f8f996" stroke="#b8e29a" stroke-width="0.7"/>
<path d="M524.68 571.2H541.88" stroke="#8cd07c" stroke-width="0.7"/>
<g fill="#0e9452" fill-opacity="0.75"><circle cx="534.01" cy="569.38" r="0.82"/><circle cx="532.86" cy="570.53" r="0.82"/><circle cx="533.62" cy="572.15" r="0.82"/><circle cx="534.63" cy="574.55" r="0.82"/><circle cx="534.07" cy="569.5" r="0.82"/><circle cx="532.52" cy="571" r="0.82"/><circle cx="533.03" cy="572.72" r="0.82"/><circle cx="533.12" cy="574.35" r="0.82"/><circle cx="534.39" cy="569.58" r="0.82"/><circle cx="534.58" cy="570.66" r="0.82"/><circle cx="533.46" cy="571.3" r="0.82"/><circle cx="533.61" cy="574.54" r="0.82"/><circle cx="535.51" cy="569.47" r="0.82"/><circle cx="531.9" cy="570.27" r="0.82"/><circle cx="533.45" cy="571.82" r="0.82"/><circle cx="533.3" cy="573.05" r="0.82"/><circle cx="533.42" cy="568.88" r="0.82"/><circle cx="533.61" cy="570.53" r="0.82"/><circle cx="535.07" cy="571.45" r="0.82"/><circle cx="533.52" cy="573.05" r="0.82"/><circle cx="533.84" cy="569.58" r="0.82"/><circle cx="533.78" cy="570.12" r="0.82"/><circle cx="533.2" cy="572.81" r="0.82"/><circle cx="534.2" cy="573.11" r="0.82"/><circle cx="533.99" cy="568.86" r="0.82"/><circle cx="533.9" cy="570.43" r="0.82"/><circle cx="533.25" cy="571.93" r="0.82"/><circle cx="535.81" cy="574.48" r="0.82"/><circle cx="534.75" cy="569.13" r="0.82"/><circle cx="534.33" cy="570.14" r="0.82"/><circle cx="534.73" cy="572.98" r="0.82"/><circle cx="533.37" cy="573.04" r="0.82"/><circle cx="533.42" cy="568.19" r="0.82"/><circle cx="533.82" cy="570.61" r="0.82"/><circle cx="534.23" cy="567.4" r="0.82"/><circle cx="533.77" cy="574.7" r="0.82"/></g>
<path d="M531.48 551.3H535.48M533.48 549.3V553.3" stroke="#d4d4d4" stroke-width="0.5"/>
<g fill="#3a7868" fill-opacity="0.9"><circle cx="533.06" cy="551.3" r="0.8"/><circle cx="534.6" cy="560.8" r="0.8"/></g>
<text x="533.68" y="543.4" text-anchor="middle" font-size="11.0" fill="#111">b</text>
<text x="2.0" y="10.6" font-size="11" fill="#111" style="stroke:#111;stroke-width:0.45px">A</text>
<text x="2.0" y="325.3" font-size="11" fill="#111" style="stroke:#111;stroke-width:0.45px">B</text>
</svg></body></html>
